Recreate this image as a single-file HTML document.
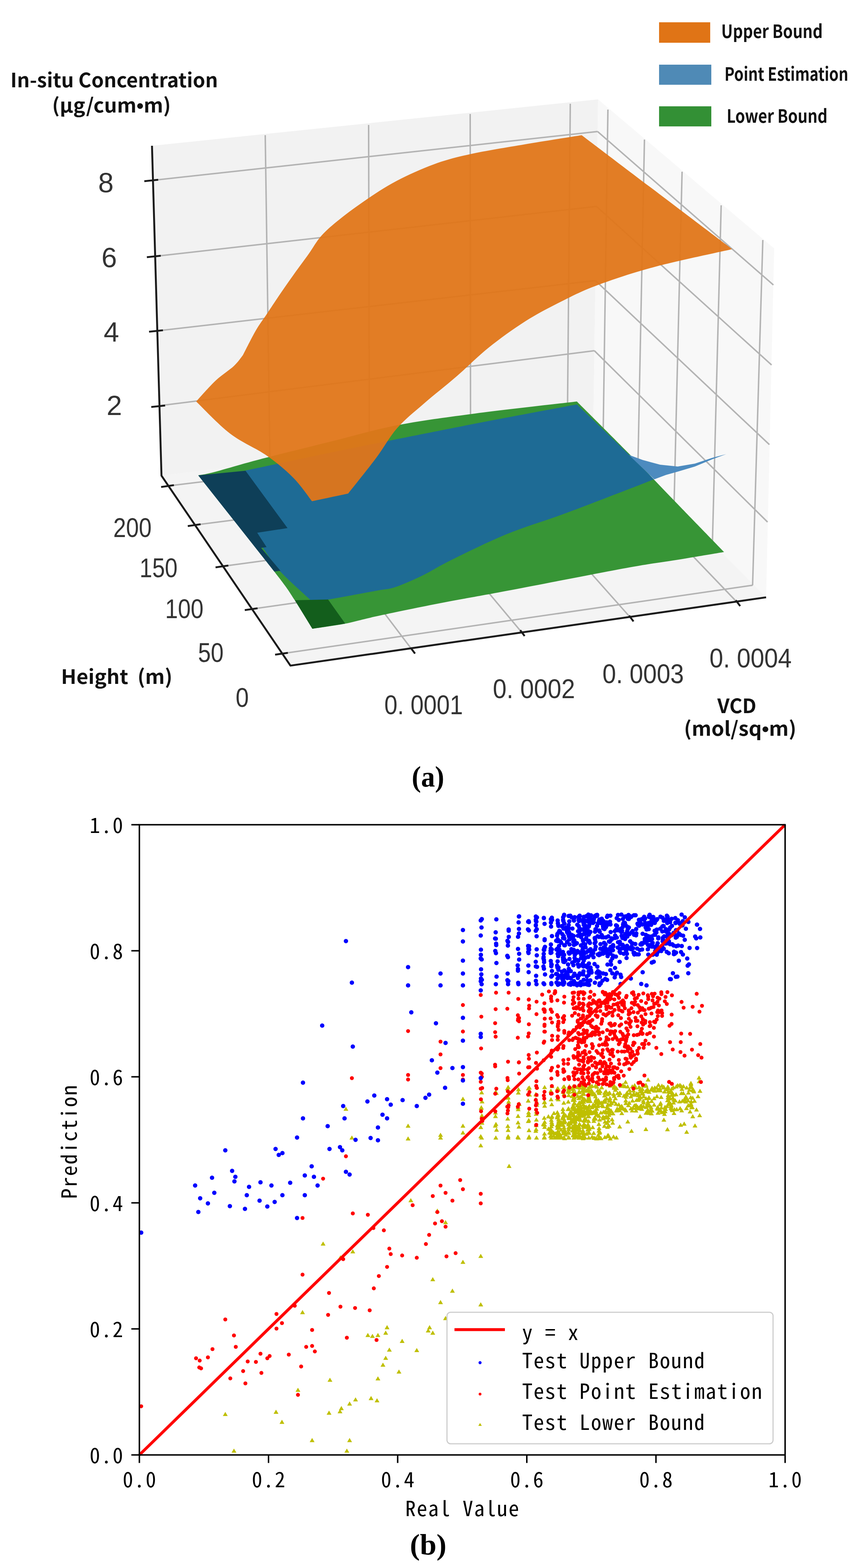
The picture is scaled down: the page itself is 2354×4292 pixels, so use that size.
<!DOCTYPE html>
<html><head><meta charset="utf-8"><title>Figure</title>
<style>html,body{margin:0;padding:0;background:#fff;overflow:hidden;width:2354px;height:4292px}svg{display:block}</style></head>
<body><svg width="2354" height="4292" viewBox="0 0 2354 4292">
<rect width="2354" height="4292" fill="#fff"/>
<polygon points="416.0,399.0 1637.0,272.0 1624.0,1157.0 442.0,1302.0" fill="#f2f2f2"/>
<polygon points="1637.0,272.0 2119.0,680.0 2097.0,1635.0 1624.0,1157.0" fill="#f8f8f8"/>
<polygon points="442.0,1302.0 1624.0,1157.0 2097.0,1635.0 795.0,1822.0" fill="#f4f4f4"/>
<path d="M726,370L739,1265M1009,342L1011,1232M1287,312L1288,1198M1561,284L1553,1164M739,1265L1129,1780M1011,1232L1429,1732M1288,1198L1727,1692M1553,1164L2019,1650M424,493L1635.7,360M430,701L1632.7,565M436,905L1629.7,768M440,1110L1626.9,960M1635.7,360L2117,780M1632.7,565L2112,999M1629.7,768L2106,1217M1626.9,960L2101,1429M1664,300L1651,1186M1764,382L1746,1282M1867,470L1845,1384M1974,562L1950,1488M2088,657L2060,1602M461,1330L1651,1186M534,1437L1746,1282M610,1550L1845,1384M690,1667L1950,1488M773,1789L2060,1602" stroke="#b3b3b3" stroke-width="4" fill="none"/>
<path d="M542.7,1301.0C549.8,1299.6 558.0,1299.5 585.0,1292.5C612.0,1285.5 652.5,1272.8 705.0,1259.0C757.5,1245.2 836.3,1225.8 900.0,1210.0C963.7,1194.2 1020.3,1177.0 1087.0,1164.0C1153.7,1151.0 1218.0,1142.8 1300.0,1132.0C1382.0,1121.2 1532.5,1104.5 1579.0,1099.0L1579.0,1099.0C1602.5,1122.5 1674.8,1194.0 1720.0,1240.0C1765.2,1286.0 1806.3,1329.8 1850.0,1375.0C1893.7,1420.2 1960.0,1488.3 1982.0,1511.0L1982.0,1511.0C1960.0,1514.7 1894.8,1525.7 1850.0,1533.0C1805.2,1540.3 1788.0,1541.3 1713.0,1555.0C1638.0,1568.7 1485.5,1598.8 1400.0,1615.0C1314.5,1631.2 1261.7,1640.0 1200.0,1652.0C1138.3,1664.0 1072.5,1677.8 1030.0,1687.0C987.5,1696.2 974.2,1701.3 945.0,1707.0C915.8,1712.7 870.0,1718.7 855.0,1721.0L855.0,1721.0C847.0,1708.0 824.4,1669.1 807.0,1643.0C789.6,1616.9 794.8,1621.5 750.8,1564.5C706.8,1507.5 577.4,1344.9 542.7,1301.0Z" fill="#379536"/>
<path d="M672.0,1288.0C710.0,1280.0 830.8,1254.3 900.0,1240.0C969.2,1225.7 1012.0,1217.0 1087.0,1202.0C1162.0,1187.0 1268.0,1165.8 1350.0,1150.0C1432.0,1134.2 1540.8,1114.2 1579.0,1107.0L1579.0,1107.0C1590.8,1118.3 1626.2,1152.0 1650.0,1175.0C1673.8,1198.0 1698.7,1222.2 1722.0,1245.0C1745.3,1267.8 1778.7,1300.8 1790.0,1312.0L1790.0,1312.0C1772.8,1318.7 1729.2,1335.8 1687.0,1352.0C1644.8,1368.2 1587.0,1390.7 1537.0,1409.0C1487.0,1427.3 1437.0,1441.5 1387.0,1462.0C1337.0,1482.5 1275.3,1513.2 1237.0,1532.0C1198.7,1550.8 1182.8,1562.5 1157.0,1575.0C1131.2,1587.5 1103.2,1600.0 1082.0,1607.0C1060.8,1614.0 1060.7,1611.3 1030.0,1617.0C999.3,1622.7 927.3,1636.2 898.0,1641.0C868.7,1645.8 861.3,1645.2 854.0,1646.0L854.0,1646.0C839.3,1632.2 788.3,1587.3 766.0,1563.0C743.7,1538.7 732.7,1517.2 720.0,1500.0C707.3,1482.8 698.0,1495.3 690.0,1460.0C682.0,1424.7 675.0,1316.7 672.0,1288.0Z" fill="#1e6b95"/>
<polygon points="542.7,1301.2 672.0,1288.5 787.0,1445.6 704.0,1458.3 729.6,1497.6 714.7,1499.7 767.8,1562.4 750.8,1564.5" fill="#0e3f58"/>
<polygon points="807.0,1643.0 898.0,1641.0 945.0,1707.0 855.0,1721.0" fill="#135e1c"/>
<polygon points="1721.0,1245.0 1759.0,1259.0 1807.0,1272.0 1855.0,1277.0 1902.0,1269.0 1950.0,1253.0 1988.0,1243.0 1950.0,1257.0 1902.0,1277.0 1855.0,1291.0 1823.0,1300.0 1791.0,1312.0" fill="#4d8bbf"/>
<path d="M537.0,1099.0C545.8,1089.5 572.8,1058.2 590.0,1042.0C607.2,1025.8 627.5,1013.7 640.0,1002.0C652.5,990.3 660.8,977.0 665.0,972.0L665.0,972.0C670.8,960.8 689.2,923.7 700.0,905.0C710.8,886.3 718.3,877.5 730.0,860.0C741.7,842.5 757.5,818.3 770.0,800.0C782.5,781.7 792.5,767.5 805.0,750.0C817.5,732.5 832.5,712.5 845.0,695.0C857.5,677.5 865.8,660.8 880.0,645.0C894.2,629.2 909.2,616.7 930.0,600.0C950.8,583.3 979.0,562.5 1005.0,545.0C1031.0,527.5 1055.7,510.8 1086.0,495.0C1116.3,479.2 1153.5,462.2 1187.0,450.0C1220.5,437.8 1245.3,431.2 1287.0,422.0C1328.7,412.8 1386.2,403.7 1437.0,395.0C1487.8,386.3 1566.2,374.2 1592.0,370.0L1592.0,370.0C1660.7,422.0 1935.3,630.0 2004.0,682.0L2004.0,682.0C1969.0,690.0 1855.2,713.7 1794.0,730.0C1732.8,746.3 1679.8,764.2 1637.0,780.0C1594.2,795.8 1570.3,808.3 1537.0,825.0C1503.7,841.7 1470.3,858.8 1437.0,880.0C1403.7,901.2 1368.2,927.0 1337.0,952.0C1305.8,977.0 1279.5,1004.5 1250.0,1030.0C1220.5,1055.5 1187.2,1081.3 1160.0,1105.0C1132.8,1128.7 1108.7,1147.3 1087.0,1172.0C1065.3,1196.7 1052.3,1223.2 1030.0,1253.0C1007.7,1282.8 965.8,1334.7 953.0,1351.0L953.0,1351.0C936.5,1354.5 870.5,1368.5 854.0,1372.0L854.0,1372.0C845.5,1361.3 823.7,1328.8 803.0,1308.0C782.3,1287.2 758.8,1267.2 730.0,1247.0C701.2,1226.8 662.2,1211.7 630.0,1187.0C597.8,1162.3 552.5,1113.7 537.0,1099.0Z" fill="#e07619" fill-opacity="0.95"/>
<path d="M416,399L442,1302L795,1822L2097,1635M395,496L433,492M402,704L440,700M408,908L446,904M414,1114L452,1110M441,1333L476,1328M514,1440L549,1435M590,1553L625,1548M670,1670L705,1665M753,1792L788,1787M1124,1773L1136,1789M1424,1725L1436,1741M1722,1685L1734,1701M2014,1643L2026,1659" stroke="#1a1a1a" stroke-width="5.2" fill="none" stroke-linejoin="round"/>
<text x="290" y="526" font-size="76" text-anchor="middle" font-family="Liberation Sans, Arial, sans-serif" fill="#333">8</text>
<text x="299" y="731" font-size="76" text-anchor="middle" font-family="Liberation Sans, Arial, sans-serif" fill="#333">6</text>
<text x="305" y="935" font-size="76" text-anchor="middle" font-family="Liberation Sans, Arial, sans-serif" fill="#333">4</text>
<text x="313" y="1136" font-size="76" text-anchor="middle" font-family="Liberation Sans, Arial, sans-serif" fill="#333">2</text>
<text x="310" y="1470" font-size="74" textLength="105" lengthAdjust="spacingAndGlyphs" font-family="Liberation Sans, Arial, sans-serif" fill="#333">200</text>
<text x="382" y="1580" font-size="74" textLength="104" lengthAdjust="spacingAndGlyphs" font-family="Liberation Sans, Arial, sans-serif" fill="#333">150</text>
<text x="452" y="1692" font-size="74" textLength="105" lengthAdjust="spacingAndGlyphs" font-family="Liberation Sans, Arial, sans-serif" fill="#333">100</text>
<text x="542" y="1812" font-size="74" textLength="70" lengthAdjust="spacingAndGlyphs" font-family="Liberation Sans, Arial, sans-serif" fill="#333">50</text>
<text x="645" y="1935" font-size="74" textLength="36" lengthAdjust="spacingAndGlyphs" font-family="Liberation Sans, Arial, sans-serif" fill="#333">0</text>
<text x="1052" y="1955" font-size="74" textLength="215" lengthAdjust="spacingAndGlyphs" font-family="Liberation Sans, Arial, sans-serif" fill="#333">0. 0001</text>
<text x="1349" y="1911" font-size="74" textLength="225" lengthAdjust="spacingAndGlyphs" font-family="Liberation Sans, Arial, sans-serif" fill="#333">0. 0002</text>
<text x="1649" y="1870" font-size="74" textLength="223" lengthAdjust="spacingAndGlyphs" font-family="Liberation Sans, Arial, sans-serif" fill="#333">0. 0003</text>
<text x="1942" y="1827" font-size="74" textLength="225" lengthAdjust="spacingAndGlyphs" font-family="Liberation Sans, Arial, sans-serif" fill="#333">0. 0004</text>
<text x="28.5" y="239" font-size="54" textLength="568" lengthAdjust="spacingAndGlyphs" font-family="Noto Sans CJK SC, Liberation Sans, sans-serif" font-weight="bold" fill="#111">In-situ Concentration</text>
<text x="142.6" y="308" font-size="54" textLength="325" lengthAdjust="spacingAndGlyphs" font-family="Noto Sans CJK SC, Liberation Sans, sans-serif" font-weight="bold" fill="#111">(µg/cum<tspan font-family="Liberation Sans">•</tspan>m)</text>
<text x="167" y="1872" font-size="54" textLength="305" lengthAdjust="spacingAndGlyphs" font-family="Noto Sans CJK SC, Liberation Sans, sans-serif" font-weight="bold" fill="#111" xml:space="preserve">Height  (m)</text>
<text x="2017" y="1952" font-size="54" text-anchor="middle" font-family="Noto Sans CJK SC, Liberation Sans, sans-serif" font-weight="bold" fill="#111">VCD</text>
<text x="1872" y="2014" font-size="54" textLength="308" lengthAdjust="spacingAndGlyphs" font-family="Noto Sans CJK SC, Liberation Sans, sans-serif" font-weight="bold" fill="#111">(mol/sq<tspan font-family="Liberation Sans">•</tspan>m)</text>
<rect x="1804" y="61" width="140" height="56" fill="#e07416"/>
<rect x="1804" y="177" width="143" height="55" fill="#4f8ab6"/>
<rect x="1804" y="291" width="143" height="55" fill="#339035"/>
<text x="1974" y="104" font-size="50" textLength="278" lengthAdjust="spacingAndGlyphs" font-family="Noto Sans CJK SC, Liberation Sans, sans-serif" font-weight="bold" fill="#111">Upper Bound</text>
<text x="1983" y="221" font-size="50" textLength="339" lengthAdjust="spacingAndGlyphs" font-family="Noto Sans CJK SC, Liberation Sans, sans-serif" font-weight="bold" fill="#111">Point Estimation</text>
<text x="1989" y="336" font-size="50" textLength="276" lengthAdjust="spacingAndGlyphs" font-family="Noto Sans CJK SC, Liberation Sans, sans-serif" font-weight="bold" fill="#111">Lower Bound</text>
<text x="1127" y="2153" font-size="80" textLength="89" lengthAdjust="spacingAndGlyphs" font-family="Liberation Serif, serif" font-weight="bold" fill="#000">(a)</text>
<path d="M381.5,3982.5L381.5,4004.5M381.5,3982.5L359.5,3982.5M735.0,3982.5L735.0,4004.5M381.5,3637.5L359.5,3637.5M1088.5,3982.5L1088.5,4004.5M381.5,3292.5L359.5,3292.5M1442.0,3982.5L1442.0,4004.5M381.5,2947.5L359.5,2947.5M1795.5,3982.5L1795.5,4004.5M381.5,2602.5L359.5,2602.5M2149.0,3982.5L2149.0,4004.5M381.5,2257.5L359.5,2257.5" stroke="#000" stroke-width="4"/>
<text x="335.7 367.1 398.5" y="4070.5" font-size="57.5" font-family="Noto Sans Mono CJK SC, WenQuanYi Zen Hei Mono, Liberation Mono, monospace" fill="#000">0.0</text>
<text x="245.3 276.7 308.1" y="4004.5" font-size="57.5" font-family="Noto Sans Mono CJK SC, WenQuanYi Zen Hei Mono, Liberation Mono, monospace" fill="#000">0.0</text>
<text x="689.2 720.6 752.0" y="4070.5" font-size="57.5" font-family="Noto Sans Mono CJK SC, WenQuanYi Zen Hei Mono, Liberation Mono, monospace" fill="#000">0.2</text>
<text x="245.3 276.7 308.1" y="3659.5" font-size="57.5" font-family="Noto Sans Mono CJK SC, WenQuanYi Zen Hei Mono, Liberation Mono, monospace" fill="#000">0.2</text>
<text x="1042.7 1074.1 1105.5" y="4070.5" font-size="57.5" font-family="Noto Sans Mono CJK SC, WenQuanYi Zen Hei Mono, Liberation Mono, monospace" fill="#000">0.4</text>
<text x="245.3 276.7 308.1" y="3314.5" font-size="57.5" font-family="Noto Sans Mono CJK SC, WenQuanYi Zen Hei Mono, Liberation Mono, monospace" fill="#000">0.4</text>
<text x="1396.2 1427.6 1459.0" y="4070.5" font-size="57.5" font-family="Noto Sans Mono CJK SC, WenQuanYi Zen Hei Mono, Liberation Mono, monospace" fill="#000">0.6</text>
<text x="245.3 276.7 308.1" y="2969.5" font-size="57.5" font-family="Noto Sans Mono CJK SC, WenQuanYi Zen Hei Mono, Liberation Mono, monospace" fill="#000">0.6</text>
<text x="1749.7 1781.1 1812.5" y="4070.5" font-size="57.5" font-family="Noto Sans Mono CJK SC, WenQuanYi Zen Hei Mono, Liberation Mono, monospace" fill="#000">0.8</text>
<text x="245.3 276.7 308.1" y="2624.5" font-size="57.5" font-family="Noto Sans Mono CJK SC, WenQuanYi Zen Hei Mono, Liberation Mono, monospace" fill="#000">0.8</text>
<text x="2103.2 2134.6 2166.0" y="4070.5" font-size="57.5" font-family="Noto Sans Mono CJK SC, WenQuanYi Zen Hei Mono, Liberation Mono, monospace" fill="#000">1.0</text>
<text x="245.3 276.7 308.1" y="2279.5" font-size="57.5" font-family="Noto Sans Mono CJK SC, WenQuanYi Zen Hei Mono, Liberation Mono, monospace" fill="#000">1.0</text>
<text x="1109.3 1140.7 1172.1 1203.5 1234.9 1266.3 1297.7 1329.1 1360.5 1391.9" y="4150.0" font-size="57.5" font-family="Noto Sans Mono CJK SC, WenQuanYi Zen Hei Mono, Liberation Mono, monospace" fill="#000">Real Value</text>
<text x="-155.7 -124.3 -92.9 -61.5 -30.1 1.3 32.7 64.1 95.5 126.9" y="0.0" font-size="57.5" transform="translate(210,3126) rotate(-90)" font-family="Noto Sans Mono CJK SC, WenQuanYi Zen Hei Mono, Liberation Mono, monospace" fill="#000">Prediction</text>
<text x="1122" y="4255" font-size="80" textLength="100" lengthAdjust="spacingAndGlyphs" font-family="Liberation Serif, serif" font-weight="bold" fill="#000">(b)</text>
<defs><clipPath id="axc"><rect x="381.5" y="2257.5" width="1767.5" height="1725.0"/></clipPath></defs><g clip-path="url(#axc)">
<path d="M946.9,3029.2L953.5,3040.5L940.2,3040.5ZM963.2,3108.0L969.8,3119.3L956.5,3119.3ZM1117.0,3075.5L1123.7,3086.8L1110.4,3086.8ZM1117.0,3110.5L1123.7,3121.8L1110.4,3121.8ZM1205.8,3100.5L1212.5,3111.8L1199.2,3111.8ZM1205.8,3108.0L1212.5,3119.3L1199.2,3119.3ZM1267.1,3001.7L1273.8,3013.0L1260.5,3013.0ZM1267.1,3075.5L1273.8,3086.8L1260.5,3086.8ZM1267.1,3094.2L1273.8,3105.6L1260.5,3105.6ZM1315.9,3129.3L1322.6,3140.6L1309.3,3140.6ZM1315.9,3104.2L1322.6,3115.6L1309.3,3115.6ZM1315.9,3079.2L1322.6,3090.6L1309.3,3090.6ZM1393.5,3185.6L1400.1,3196.9L1386.8,3196.9ZM1124.5,3279.4L1131.2,3290.7L1117.9,3290.7ZM1197.1,3308.1L1203.7,3319.5L1190.4,3319.5ZM1219.6,3339.4L1226.2,3350.8L1212.9,3350.8ZM884.4,3398.2L891.0,3409.5L877.7,3409.5ZM965.7,3419.5L972.3,3430.8L959.0,3430.8ZM931.9,3435.7L938.5,3447.1L925.2,3447.1ZM1267.1,3448.2L1273.8,3459.6L1260.5,3459.6ZM1315.9,3432.0L1322.6,3443.3L1309.3,3443.3ZM1315.9,3564.6L1322.6,3575.9L1309.3,3575.9ZM1238.4,3527.1L1245.0,3538.4L1231.7,3538.4ZM1184.6,3495.8L1191.2,3507.1L1177.9,3507.1ZM1205.8,3558.3L1212.5,3569.7L1199.2,3569.7ZM1219.6,3602.1L1226.2,3613.4L1212.9,3613.4ZM1184.6,3642.1L1191.2,3653.5L1177.9,3653.5ZM1172.1,3635.9L1178.7,3647.2L1165.4,3647.2ZM1175.8,3627.1L1182.5,3638.5L1169.2,3638.5ZM1140.8,3689.7L1147.4,3701.0L1134.1,3701.0ZM1100.8,3664.6L1107.4,3676.0L1094.1,3676.0ZM1059.5,3627.1L1066.1,3638.5L1052.8,3638.5ZM1055.7,3642.1L1062.4,3653.5L1049.1,3653.5ZM1034.5,3648.4L1041.1,3659.7L1027.8,3659.7ZM1019.5,3650.9L1026.1,3662.2L1012.8,3662.2ZM1006.9,3648.4L1013.6,3659.7L1000.3,3659.7ZM1065.7,3688.4L1072.4,3699.8L1059.1,3699.8ZM1055.7,3710.9L1062.4,3722.3L1049.1,3722.3ZM1048.2,3729.7L1054.9,3741.0L1041.6,3741.0ZM1092.0,3748.5L1098.7,3759.8L1085.4,3759.8ZM1034.5,3767.2L1041.1,3778.6L1027.8,3778.6ZM903.1,3771.0L909.8,3782.3L896.5,3782.3ZM973.2,3824.8L979.8,3836.1L966.5,3836.1ZM1015.7,3821.0L1022.3,3832.4L1009.0,3832.4ZM1032.0,3827.3L1038.6,3838.6L1025.3,3838.6ZM956.9,3836.0L963.6,3847.4L950.3,3847.4ZM934.4,3848.5L941.0,3859.9L927.7,3859.9ZM930.6,3857.3L937.3,3868.6L924.0,3868.6ZM900.6,3861.0L907.3,3872.4L894.0,3872.4ZM854.3,3936.1L861.0,3947.4L847.7,3947.4ZM956.9,3936.1L963.6,3947.4L950.3,3947.4ZM949.4,3964.9L956.1,3976.2L942.8,3976.2ZM815.6,3798.5L822.2,3809.8L808.9,3809.8ZM755.5,3858.5L762.2,3869.9L748.9,3869.9ZM771.8,3886.1L778.4,3897.4L765.1,3897.4ZM616.7,3864.8L623.3,3876.1L610.0,3876.1ZM640.4,3964.9L647.1,3976.2L633.8,3976.2ZM828.1,3585.8L834.7,3597.2L821.4,3597.2ZM805.5,3564.6L812.2,3575.9L798.9,3575.9ZM1319.0,3047.3L1325.7,3058.7L1312.4,3058.7ZM1317.5,3025.0L1324.1,3036.3L1310.8,3036.3ZM1318.1,3065.4L1324.7,3076.8L1311.4,3076.8ZM1319.5,3009.0L1326.2,3020.3L1312.9,3020.3ZM1317.2,3026.6L1323.8,3037.9L1310.5,3037.9ZM1318.4,2984.0L1325.0,2995.4L1311.7,2995.4ZM1319.2,3067.1L1325.9,3078.4L1312.6,3078.4ZM1318.3,3107.8L1324.9,3119.2L1311.6,3119.2ZM1357.4,2982.9L1364.0,2994.2L1350.7,2994.2ZM1358.5,2985.6L1365.2,2997.0L1351.9,2997.0ZM1356.2,3049.1L1362.9,3060.4L1349.6,3060.4ZM1356.6,2982.8L1363.2,2994.1L1349.9,2994.1ZM1359.1,3086.5L1365.8,3097.8L1352.5,3097.8ZM1355.8,3075.0L1362.4,3086.4L1349.1,3086.4ZM1356.0,3039.2L1362.7,3050.6L1349.4,3050.6ZM1357.5,3070.7L1364.2,3082.0L1350.9,3082.0ZM1357.2,3107.8L1363.8,3119.2L1350.5,3119.2ZM1388.7,2973.3L1395.4,2984.6L1382.1,2984.6ZM1390.9,3087.1L1397.5,3098.4L1384.2,3098.4ZM1390.9,3104.0L1397.6,3115.3L1384.3,3115.3ZM1390.9,2969.4L1397.5,2980.8L1384.2,2980.8ZM1392.3,3009.3L1398.9,3020.7L1385.6,3020.7ZM1389.7,3056.0L1396.4,3067.3L1383.1,3067.3ZM1389.3,2998.6L1396.0,3010.0L1382.7,3010.0ZM1390.9,2997.6L1397.5,3009.0L1384.2,3009.0ZM1390.0,3076.3L1396.7,3087.6L1383.4,3087.6ZM1390.7,3107.8L1397.4,3119.2L1384.1,3119.2ZM1421.1,3014.9L1427.7,3026.2L1414.4,3026.2ZM1418.4,3030.2L1425.0,3041.6L1411.7,3041.6ZM1417.5,3105.8L1424.1,3117.2L1410.8,3117.2ZM1421.0,3015.9L1427.7,3027.3L1414.4,3027.3ZM1419.1,2975.8L1425.8,2987.1L1412.5,2987.1ZM1418.7,2984.5L1425.4,2995.9L1412.1,2995.9ZM1420.4,3078.0L1427.1,3089.3L1413.8,3089.3ZM1418.0,3066.4L1424.6,3077.7L1411.3,3077.7ZM1417.9,3024.9L1424.6,3036.2L1411.3,3036.2ZM1418.0,3048.6L1424.7,3059.9L1411.4,3059.9ZM1419.0,3107.8L1425.7,3119.2L1412.4,3119.2ZM1445.8,3006.5L1452.5,3017.9L1439.2,3017.9ZM1448.0,3087.6L1454.6,3098.9L1441.3,3098.9ZM1448.9,2971.0L1455.6,2982.3L1442.3,2982.3ZM1446.1,2973.1L1452.8,2984.4L1439.5,2984.4ZM1446.9,3038.9L1453.5,3050.2L1440.2,3050.2ZM1449.4,2990.1L1456.0,3001.4L1442.7,3001.4ZM1445.9,3046.8L1452.5,3058.1L1439.2,3058.1ZM1447.4,3059.9L1454.0,3071.2L1440.7,3071.2ZM1446.0,3062.8L1452.7,3074.1L1439.4,3074.1ZM1448.2,3105.1L1454.9,3116.4L1441.6,3116.4ZM1447.5,3045.5L1454.2,3056.9L1440.9,3056.9ZM1447.3,3107.8L1454.0,3119.2L1440.7,3119.2ZM1468.1,3036.2L1474.7,3047.5L1461.4,3047.5ZM1469.3,2968.9L1476.0,2980.2L1462.7,2980.2ZM1467.8,2990.1L1474.5,3001.4L1461.2,3001.4ZM1469.4,3017.9L1476.0,3029.2L1462.7,3029.2ZM1468.1,3058.7L1474.8,3070.0L1461.5,3070.0ZM1466.6,3089.5L1473.3,3100.8L1460.0,3100.8ZM1466.7,3003.0L1473.3,3014.4L1460.0,3014.4ZM1467.5,3084.7L1474.1,3096.1L1460.8,3096.1ZM1466.7,2988.8L1473.4,3000.2L1460.1,3000.2ZM1470.1,3013.0L1476.7,3024.3L1463.4,3024.3ZM1467.6,3073.6L1474.2,3084.9L1460.9,3084.9ZM1467.6,3042.8L1474.3,3054.2L1461.0,3054.2ZM1468.5,3107.8L1475.2,3119.2L1461.9,3119.2ZM1490.7,3072.2L1497.4,3083.5L1484.1,3083.5ZM1487.9,3070.3L1494.6,3081.6L1481.3,3081.6ZM1490.7,3078.8L1497.3,3090.1L1484.0,3090.1ZM1490.7,2969.8L1497.4,2981.1L1484.1,2981.1ZM1489.7,3053.7L1496.3,3065.1L1483.0,3065.1ZM1489.6,3011.1L1496.3,3022.5L1483.0,3022.5ZM1490.9,3020.6L1497.5,3031.9L1484.2,3031.9ZM1490.3,3096.9L1497.0,3108.2L1483.7,3108.2ZM1488.2,3071.9L1494.9,3083.2L1481.6,3083.2ZM1490.8,3064.8L1497.4,3076.1L1484.1,3076.1ZM1490.0,3106.1L1496.7,3117.4L1483.4,3117.4ZM1487.9,3069.8L1494.5,3081.1L1481.2,3081.1ZM1490.5,3009.9L1497.1,3021.3L1483.8,3021.3ZM1489.7,3107.8L1496.4,3119.2L1483.1,3119.2ZM1510.2,3016.7L1516.9,3028.0L1503.6,3028.0ZM1508.3,3100.9L1514.9,3112.2L1501.6,3112.2ZM1511.0,3089.8L1517.6,3101.2L1504.3,3101.2ZM1509.0,3059.2L1515.7,3070.6L1502.4,3070.6ZM1508.3,3003.3L1515.0,3014.6L1501.7,3014.6ZM1511.2,3071.0L1517.8,3082.4L1504.5,3082.4ZM1509.8,3065.3L1516.5,3076.6L1503.2,3076.6ZM1509.4,3052.0L1516.1,3063.4L1502.8,3063.4ZM1507.8,3085.0L1514.4,3096.3L1501.1,3096.3ZM1507.9,2979.7L1514.6,2991.0L1501.3,2991.0ZM1509.2,3076.7L1515.8,3088.0L1502.5,3088.0ZM1510.9,2966.9L1517.5,2978.2L1504.2,2978.2ZM1509.0,3088.1L1515.6,3099.4L1502.3,3099.4ZM1507.9,3095.0L1514.5,3106.3L1501.2,3106.3ZM1509.2,3107.8L1515.8,3119.2L1502.5,3119.2ZM1526.5,3071.4L1533.2,3082.8L1519.9,3082.8ZM1527.5,2977.0L1534.2,2988.3L1520.9,2988.3ZM1525.7,3103.0L1532.3,3114.3L1519.0,3114.3ZM1526.2,3048.3L1532.8,3059.7L1519.5,3059.7ZM1527.6,3079.8L1534.3,3091.1L1521.0,3091.1ZM1528.1,3003.3L1534.8,3014.6L1521.5,3014.6ZM1526.9,3078.8L1533.5,3090.1L1520.2,3090.1ZM1528.8,3063.7L1535.5,3075.1L1522.2,3075.1ZM1528.2,3075.2L1534.8,3086.5L1521.5,3086.5ZM1525.7,3000.3L1532.3,3011.6L1519.0,3011.6ZM1526.0,2973.2L1532.6,2984.5L1519.3,2984.5ZM1526.8,3081.3L1533.5,3092.7L1520.2,3092.7ZM1525.7,3048.8L1532.3,3060.2L1519.0,3060.2ZM1527.5,2973.6L1534.2,2985.0L1520.9,2985.0ZM1525.3,3052.2L1532.0,3063.5L1518.7,3063.5ZM1526.8,3107.8L1533.5,3119.2L1520.2,3119.2ZM1540.8,3029.7L1547.4,3041.0L1534.1,3041.0ZM1542.0,2969.2L1548.7,2980.5L1535.4,2980.5ZM1544.4,2968.1L1551.0,2979.4L1537.7,2979.4ZM1541.8,3095.9L1548.4,3107.3L1535.1,3107.3ZM1541.0,3037.3L1547.7,3048.7L1534.4,3048.7ZM1543.6,3044.6L1550.3,3055.9L1537.0,3055.9ZM1541.6,3048.9L1548.3,3060.2L1535.0,3060.2ZM1543.3,3012.5L1549.9,3023.8L1536.6,3023.8ZM1543.8,2988.0L1550.4,2999.4L1537.1,2999.4ZM1543.4,3090.7L1550.1,3102.0L1536.8,3102.0ZM1544.2,3066.3L1550.8,3077.6L1537.5,3077.6ZM1543.0,3055.1L1549.7,3066.4L1536.4,3066.4ZM1543.8,3079.6L1550.4,3091.0L1537.1,3091.0ZM1541.7,3073.1L1548.3,3084.5L1535.0,3084.5ZM1541.3,2982.8L1547.9,2994.1L1534.6,2994.1ZM1543.1,3061.7L1549.7,3073.0L1536.4,3073.0ZM1542.7,3107.8L1549.4,3119.2L1536.1,3119.2ZM1555.0,3093.5L1561.7,3104.8L1548.4,3104.8ZM1556.4,3030.0L1563.1,3041.3L1549.8,3041.3ZM1557.5,3094.9L1564.1,3106.3L1550.8,3106.3ZM1555.5,3009.5L1562.1,3020.8L1548.8,3020.8ZM1556.5,3067.8L1563.2,3079.1L1549.9,3079.1ZM1556.1,2973.0L1562.7,2984.3L1549.4,2984.3ZM1556.1,3027.7L1562.7,3039.0L1549.4,3039.0ZM1556.3,3048.9L1562.9,3060.3L1549.6,3060.3ZM1558.4,2966.9L1565.1,2978.2L1551.8,2978.2ZM1556.3,3079.9L1563.0,3091.3L1549.7,3091.3ZM1557.9,3079.0L1564.5,3090.4L1551.2,3090.4ZM1554.8,2980.3L1561.4,2991.6L1548.1,2991.6ZM1556.6,2991.8L1563.2,3003.1L1549.9,3003.1ZM1556.5,2982.9L1563.1,2994.3L1549.8,2994.3ZM1556.7,3084.8L1563.4,3096.2L1550.1,3096.2ZM1554.8,3029.8L1561.5,3041.1L1548.2,3041.1ZM1557.5,2979.1L1564.1,2990.5L1550.8,2990.5ZM1556.9,3107.8L1563.5,3119.2L1550.2,3119.2ZM1571.4,3030.0L1578.1,3041.4L1564.8,3041.4ZM1571.6,3064.5L1578.2,3075.9L1564.9,3075.9ZM1570.7,3025.4L1577.3,3036.8L1564.0,3036.8ZM1570.7,3014.6L1577.4,3026.0L1564.1,3026.0ZM1570.8,3045.8L1577.5,3057.2L1564.2,3057.2ZM1569.0,3020.3L1575.7,3031.6L1562.4,3031.6ZM1571.0,3074.5L1577.6,3085.9L1564.3,3085.9ZM1572.1,2997.5L1578.8,3008.8L1565.5,3008.8ZM1570.9,3082.4L1577.5,3093.8L1564.2,3093.8ZM1570.9,3092.7L1577.6,3104.0L1564.3,3104.0ZM1569.5,3046.9L1576.1,3058.3L1562.8,3058.3ZM1569.3,3045.3L1575.9,3056.6L1562.6,3056.6ZM1571.1,3102.1L1577.7,3113.4L1564.4,3113.4ZM1571.6,3096.2L1578.3,3107.5L1565.0,3107.5ZM1572.0,2997.8L1578.7,3009.2L1565.4,3009.2ZM1571.1,3100.1L1577.7,3111.5L1564.4,3111.5ZM1571.0,3054.4L1577.7,3065.7L1564.4,3065.7ZM1572.9,3088.6L1579.6,3099.9L1566.3,3099.9ZM1571.0,3107.8L1577.7,3119.2L1564.4,3119.2ZM1585.7,3052.1L1592.4,3063.4L1579.1,3063.4ZM1586.4,3070.4L1593.1,3081.7L1579.8,3081.7ZM1587.2,3026.2L1593.9,3037.5L1580.6,3037.5ZM1584.6,2999.7L1591.2,3011.0L1577.9,3011.0ZM1584.9,3082.8L1591.6,3094.2L1578.3,3094.2ZM1586.2,3101.0L1592.9,3112.3L1579.6,3112.3ZM1586.5,3071.9L1593.2,3083.3L1579.9,3083.3ZM1585.8,2968.6L1592.4,2980.0L1579.1,2980.0ZM1585.5,3013.9L1592.2,3025.3L1578.9,3025.3ZM1584.4,3107.6L1591.0,3118.9L1577.7,3118.9ZM1583.2,3086.7L1589.8,3098.0L1576.5,3098.0ZM1585.7,3046.7L1592.3,3058.0L1579.0,3058.0ZM1585.2,2981.2L1591.9,2992.5L1578.6,2992.5ZM1583.6,3075.7L1590.3,3087.0L1577.0,3087.0ZM1585.8,3104.7L1592.5,3116.0L1579.2,3116.0ZM1583.1,3057.6L1589.7,3069.0L1576.4,3069.0ZM1583.5,3057.3L1590.1,3068.6L1576.8,3068.6ZM1584.0,3025.3L1590.6,3036.6L1577.3,3036.6ZM1585.5,3078.9L1592.2,3090.3L1578.9,3090.3ZM1585.2,3107.8L1591.8,3119.2L1578.5,3119.2ZM1595.4,2988.4L1602.1,2999.7L1588.8,2999.7ZM1598.6,3042.0L1605.2,3053.4L1591.9,3053.4ZM1598.6,3043.8L1605.2,3055.2L1591.9,3055.2ZM1596.4,3092.9L1603.0,3104.3L1589.7,3104.3ZM1596.4,3102.3L1603.1,3113.7L1589.8,3113.7ZM1596.8,3001.8L1603.5,3013.1L1590.2,3013.1ZM1598.4,2988.3L1605.0,2999.6L1591.7,2999.6ZM1598.4,3070.2L1605.1,3081.5L1591.8,3081.5ZM1597.8,3046.1L1604.4,3057.5L1591.1,3057.5ZM1598.8,3033.8L1605.4,3045.2L1592.1,3045.2ZM1596.5,3017.0L1603.2,3028.4L1589.9,3028.4ZM1599.5,3077.1L1606.2,3088.5L1592.9,3088.5ZM1599.2,3105.7L1605.8,3117.0L1592.5,3117.0ZM1596.5,3074.4L1603.2,3085.8L1589.9,3085.8ZM1598.6,2974.2L1605.2,2985.5L1591.9,2985.5ZM1598.6,3061.6L1605.2,3072.9L1591.9,3072.9ZM1599.2,3061.4L1605.8,3072.7L1592.5,3072.7ZM1596.4,2979.4L1603.1,2990.8L1589.8,2990.8ZM1598.1,3009.8L1604.7,3021.2L1591.4,3021.2ZM1598.2,2969.3L1604.9,2980.7L1591.6,2980.7ZM1597.5,3107.8L1604.2,3119.2L1590.9,3119.2ZM1610.0,3094.0L1616.6,3105.3L1603.3,3105.3ZM1612.8,3078.8L1619.4,3090.2L1606.1,3090.2ZM1610.9,3047.9L1617.6,3059.2L1604.3,3059.2ZM1609.6,3071.5L1616.3,3082.9L1603.0,3082.9ZM1610.8,3006.6L1617.4,3017.9L1604.1,3017.9ZM1611.1,3062.4L1617.8,3073.8L1604.5,3073.8ZM1613.6,3036.6L1620.3,3047.9L1607.0,3047.9ZM1613.2,3020.4L1619.8,3031.7L1606.5,3031.7ZM1609.7,3049.4L1616.3,3060.8L1603.0,3060.8ZM1611.4,2998.5L1618.1,3009.8L1604.8,3009.8ZM1611.0,3008.2L1617.7,3019.5L1604.4,3019.5ZM1611.8,3077.2L1618.5,3088.5L1605.2,3088.5ZM1613.2,3095.0L1619.9,3106.3L1606.6,3106.3ZM1613.0,3083.7L1619.7,3095.1L1606.4,3095.1ZM1609.6,3079.2L1616.2,3090.6L1602.9,3090.6ZM1612.8,2969.5L1619.4,2980.8L1606.1,2980.8ZM1609.6,3038.4L1616.2,3049.7L1602.9,3049.7ZM1611.6,2995.1L1618.3,3006.5L1605.0,3006.5ZM1610.3,3037.9L1617.0,3049.2L1603.7,3049.2ZM1611.0,2990.2L1617.7,3001.5L1604.4,3001.5ZM1610.7,2974.3L1617.3,2985.7L1604.0,2985.7ZM1611.7,3107.8L1618.3,3119.2L1605.0,3119.2ZM1633.7,2968.4L1640.4,2979.8L1627.1,2979.8ZM1627.8,2989.0L1634.5,3000.3L1621.2,3000.3ZM1828.8,2991.6L1835.5,3002.9L1822.2,3002.9ZM1825.7,3021.4L1832.3,3032.7L1819.0,3032.7ZM1609.1,3040.8L1615.8,3052.2L1602.5,3052.2ZM1779.8,3034.0L1786.5,3045.4L1773.2,3045.4ZM1840.9,2985.9L1847.6,2997.3L1834.3,2997.3ZM1618.6,2978.2L1625.2,2989.6L1611.9,2989.6ZM1611.8,3001.6L1618.4,3013.0L1605.1,3013.0ZM1595.6,2979.8L1602.3,2991.2L1589.0,2991.2ZM1817.3,2969.6L1824.0,2980.9L1810.7,2980.9ZM1566.4,2974.7L1573.0,2986.1L1559.7,2986.1ZM1722.9,2977.1L1729.6,2988.4L1716.3,2988.4ZM1707.8,2993.1L1714.5,3004.4L1701.2,3004.4ZM1733.9,2978.8L1740.5,2990.2L1727.2,2990.2ZM1587.7,3038.0L1594.3,3049.3L1581.0,3049.3ZM1720.0,3019.2L1726.6,3030.5L1713.3,3030.5ZM1678.0,3041.7L1684.6,3053.0L1671.3,3053.0ZM1776.4,3040.4L1783.1,3051.7L1769.8,3051.7ZM1800.4,2977.9L1807.0,2989.2L1793.7,2989.2ZM1695.2,3032.6L1701.9,3043.9L1688.6,3043.9ZM1749.6,3025.8L1756.2,3037.2L1742.9,3037.2ZM1687.1,3033.5L1693.7,3044.9L1680.4,3044.9ZM1841.9,2998.9L1848.5,3010.3L1835.2,3010.3ZM1665.4,3034.8L1672.1,3046.2L1658.8,3046.2ZM1772.2,2974.8L1778.9,2986.2L1765.6,2986.2ZM1805.6,3034.2L1812.3,3045.6L1799.0,3045.6ZM1669.7,3018.3L1676.3,3029.6L1663.0,3029.6ZM1781.3,3030.5L1788.0,3041.9L1774.7,3041.9ZM1737.2,2964.6L1743.9,2976.0L1730.6,2976.0ZM1783.1,3041.7L1789.8,3053.1L1776.5,3053.1ZM1586.9,3033.3L1593.6,3044.6L1580.3,3044.6ZM1761.6,2994.8L1768.2,3006.1L1754.9,3006.1ZM1712.8,3006.1L1719.5,3017.5L1706.2,3017.5ZM1680.9,2993.8L1687.6,3005.1L1674.3,3005.1ZM1749.1,2969.6L1755.8,2980.9L1742.5,2980.9ZM1772.9,2979.1L1779.6,2990.4L1766.3,2990.4ZM1823.9,2975.8L1830.5,2987.2L1817.2,2987.2ZM1768.4,3039.8L1775.0,3051.2L1761.7,3051.2ZM1758.3,2974.8L1764.9,2986.2L1751.6,2986.2ZM1687.5,2972.6L1694.2,2983.9L1680.9,2983.9ZM1616.6,2967.5L1623.2,2978.8L1609.9,2978.8ZM1690.6,2986.2L1697.3,2997.6L1684.0,2997.6ZM1637.2,3018.4L1643.8,3029.8L1630.5,3029.8ZM1664.3,3016.5L1670.9,3027.9L1657.6,3027.9ZM1592.5,3007.1L1599.2,3018.5L1585.9,3018.5ZM1843.1,2990.4L1849.8,3001.7L1836.5,3001.7ZM1829.4,2981.8L1836.0,2993.1L1822.7,2993.1ZM1802.4,2963.4L1809.0,2974.7L1795.7,2974.7ZM1778.6,3020.5L1785.2,3031.9L1771.9,3031.9ZM1636.4,3009.5L1643.0,3020.9L1629.7,3020.9ZM1571.6,3024.0L1578.3,3035.3L1565.0,3035.3ZM1816.4,2969.2L1823.0,2980.5L1809.7,2980.5ZM1658.7,2981.1L1665.3,2992.5L1652.0,2992.5ZM1784.9,2971.7L1791.5,2983.0L1778.2,2983.0ZM1790.4,3000.1L1797.1,3011.4L1783.8,3011.4ZM1595.4,2976.8L1602.0,2988.1L1588.7,2988.1ZM1654.4,2992.5L1661.1,3003.9L1647.8,3003.9ZM1669.5,2999.6L1676.2,3011.0L1662.9,3011.0ZM1838.8,3029.5L1845.5,3040.8L1832.2,3040.8ZM1715.9,2990.7L1722.5,3002.0L1709.2,3002.0ZM1718.0,2967.8L1724.6,2979.2L1711.3,2979.2ZM1681.0,2969.8L1687.6,2981.1L1674.3,2981.1ZM1760.8,2965.5L1767.4,2976.8L1754.1,2976.8ZM1591.1,3025.4L1597.7,3036.8L1584.4,3036.8ZM1647.0,2970.3L1653.6,2981.7L1640.3,2981.7ZM1569.6,3021.6L1576.2,3033.0L1562.9,3033.0ZM1768.2,2963.7L1774.8,2975.1L1761.5,2975.1ZM1615.6,3007.5L1622.2,3018.9L1608.9,3018.9ZM1760.0,2987.5L1766.6,2998.8L1753.3,2998.8ZM1776.7,2982.5L1783.4,2993.9L1770.1,2993.9ZM1636.0,3021.9L1642.6,3033.2L1629.3,3033.2ZM1573.6,2987.4L1580.2,2998.8L1566.9,2998.8ZM1624.9,3021.7L1631.5,3033.0L1618.2,3033.0ZM1838.4,2991.2L1845.1,3002.6L1831.8,3002.6ZM1732.9,2990.2L1739.5,3001.6L1726.2,3001.6ZM1734.8,2987.1L1741.4,2998.5L1728.1,2998.5ZM1651.7,3037.2L1658.3,3048.5L1645.0,3048.5ZM1584.6,3041.1L1591.3,3052.5L1578.0,3052.5ZM1668.0,3031.0L1674.6,3042.3L1661.3,3042.3ZM1597.6,3003.1L1604.3,3014.4L1591.0,3014.4ZM1839.9,2987.7L1846.6,2999.1L1833.3,2999.1ZM1643.1,2981.2L1649.7,2992.6L1636.4,2992.6ZM1616.0,3034.3L1622.7,3045.7L1609.4,3045.7ZM1651.5,3009.8L1658.1,3021.2L1644.8,3021.2ZM1760.7,3007.0L1767.4,3018.3L1754.1,3018.3ZM1771.7,3034.7L1778.3,3046.1L1765.0,3046.1ZM1829.4,3015.1L1836.0,3026.4L1822.7,3026.4ZM1801.1,3039.8L1807.7,3051.2L1794.4,3051.2ZM1800.1,3024.3L1806.7,3035.7L1793.4,3035.7ZM1807.5,2978.6L1814.2,2989.9L1800.9,2989.9ZM1755.4,3020.2L1762.1,3031.6L1748.8,3031.6ZM1568.5,3027.2L1575.1,3038.5L1561.8,3038.5ZM1821.6,3029.7L1828.3,3041.1L1815.0,3041.1ZM1752.2,2995.7L1758.8,3007.0L1745.5,3007.0ZM1752.7,3027.9L1759.4,3039.3L1746.1,3039.3ZM1606.4,3034.6L1613.0,3045.9L1599.7,3045.9ZM1843.6,3011.9L1850.3,3023.2L1837.0,3023.2ZM1750.2,2997.1L1756.8,3008.4L1743.5,3008.4ZM1628.9,3037.1L1635.5,3048.5L1622.2,3048.5ZM1569.9,2974.6L1576.6,2986.0L1563.3,2986.0ZM1602.5,2965.9L1609.2,2977.2L1595.9,2977.2ZM1668.6,2984.9L1675.2,2996.3L1661.9,2996.3ZM1604.9,2979.7L1611.5,2991.1L1598.2,2991.1ZM1636.9,3013.2L1643.5,3024.6L1630.2,3024.6ZM1713.6,3033.4L1720.3,3044.8L1707.0,3044.8ZM1635.9,2979.1L1642.6,2990.5L1629.3,2990.5ZM1646.4,3012.1L1653.1,3023.4L1639.8,3023.4ZM1782.0,3024.5L1788.7,3035.8L1775.4,3035.8ZM1620.6,3024.9L1627.2,3036.2L1613.9,3036.2ZM1674.4,3013.3L1681.0,3024.6L1667.7,3024.6ZM1747.1,3004.8L1753.8,3016.2L1740.5,3016.2ZM1811.7,3038.3L1818.3,3049.6L1805.0,3049.6ZM1753.4,2975.9L1760.1,2987.2L1746.8,2987.2ZM1632.1,3039.9L1638.8,3051.3L1625.5,3051.3ZM1689.7,3033.1L1696.3,3044.4L1683.0,3044.4ZM1695.8,2985.8L1702.4,2997.2L1689.1,2997.2ZM1592.2,3032.9L1598.9,3044.3L1585.6,3044.3ZM1701.3,3028.5L1708.0,3039.8L1694.7,3039.8ZM1631.0,3007.3L1637.6,3018.7L1624.3,3018.7ZM1599.2,3036.9L1605.8,3048.2L1592.5,3048.2ZM1667.9,3005.0L1674.5,3016.4L1661.2,3016.4ZM1830.6,2998.3L1837.2,3009.6L1823.9,3009.6ZM1585.9,3024.6L1592.6,3036.0L1579.3,3036.0ZM1776.2,2997.6L1782.8,3009.0L1769.5,3009.0ZM1811.8,2965.9L1818.5,2977.2L1805.2,2977.2ZM1808.3,3033.5L1815.0,3044.9L1801.7,3044.9ZM1832.6,3000.6L1839.3,3012.0L1826.0,3012.0ZM1633.5,3028.7L1640.2,3040.1L1626.9,3040.1ZM1810.3,3025.4L1816.9,3036.8L1803.6,3036.8ZM1589.2,3021.2L1595.9,3032.6L1582.6,3032.6ZM1827.1,3005.7L1833.7,3017.0L1820.4,3017.0ZM1772.5,3036.4L1779.2,3047.7L1765.9,3047.7ZM1693.8,3017.1L1700.5,3028.4L1687.2,3028.4ZM1623.8,2989.7L1630.4,3001.0L1617.1,3001.0ZM1667.9,3032.8L1674.5,3044.1L1661.2,3044.1ZM1844.1,3004.1L1850.7,3015.4L1837.4,3015.4ZM1616.6,3041.4L1623.3,3052.8L1610.0,3052.8ZM1750.4,3001.4L1757.0,3012.8L1743.7,3012.8ZM1572.6,3005.0L1579.3,3016.3L1566.0,3016.3ZM1775.1,2999.7L1781.8,3011.0L1768.5,3011.0ZM1631.9,3002.7L1638.6,3014.0L1625.3,3014.0ZM1736.8,2990.6L1743.4,3001.9L1730.1,3001.9ZM1606.7,2978.5L1613.4,2989.8L1600.1,2989.8ZM1833.1,2983.5L1839.8,2994.9L1826.5,2994.9ZM1808.2,3013.1L1814.8,3024.4L1801.5,3024.4ZM1821.0,3027.9L1827.7,3039.2L1814.4,3039.2ZM1629.9,2994.8L1636.5,3006.2L1623.2,3006.2ZM1820.7,3035.8L1827.3,3047.1L1814.0,3047.1ZM1627.1,3039.4L1633.7,3050.8L1620.4,3050.8ZM1689.9,3031.1L1696.5,3042.5L1683.2,3042.5ZM1619.9,2982.8L1626.5,2994.2L1613.2,2994.2ZM1730.7,2967.7L1737.3,2979.1L1724.0,2979.1ZM1679.4,2988.4L1686.1,2999.7L1672.8,2999.7ZM1569.3,2967.0L1575.9,2978.4L1562.6,2978.4ZM1631.6,3004.4L1638.3,3015.8L1625.0,3015.8ZM1710.4,2967.0L1717.1,2978.4L1703.8,2978.4ZM1704.9,2963.6L1711.5,2974.9L1698.2,2974.9ZM1741.4,3025.1L1748.1,3036.4L1734.8,3036.4ZM1801.6,3026.3L1808.2,3037.6L1794.9,3037.6ZM1848.4,3006.0L1855.1,3017.4L1841.8,3017.4ZM1629.7,2966.0L1636.4,2977.3L1623.1,2977.3ZM1656.7,3010.0L1663.4,3021.3L1650.1,3021.3ZM1662.8,2989.2L1669.4,3000.6L1656.1,3000.6ZM1572.2,3012.6L1578.9,3023.9L1565.6,3023.9ZM1611.6,2976.6L1618.2,2987.9L1604.9,2987.9ZM1565.8,2994.1L1572.4,3005.4L1559.1,3005.4ZM1638.6,3006.2L1645.3,3017.6L1632.0,3017.6ZM1724.6,2985.8L1731.3,2997.1L1718.0,2997.1ZM1604.7,3023.2L1611.3,3034.5L1598.0,3034.5ZM1599.8,2966.1L1606.5,2977.4L1593.2,2977.4ZM1607.9,3031.4L1614.6,3042.7L1601.3,3042.7ZM1713.4,2996.1L1720.1,3007.5L1706.8,3007.5ZM1816.4,3037.8L1823.1,3049.1L1809.8,3049.1ZM1632.0,3029.0L1638.6,3040.3L1625.3,3040.3ZM1731.3,3006.4L1738.0,3017.7L1724.7,3017.7ZM1681.4,2971.8L1688.0,2983.1L1674.7,2983.1ZM1752.9,2974.0L1759.5,2985.4L1746.2,2985.4ZM1836.3,3020.9L1843.0,3032.3L1829.7,3032.3ZM1832.1,3009.9L1838.8,3021.3L1825.5,3021.3ZM1580.3,2969.7L1587.0,2981.0L1573.7,2981.0ZM1595.2,3040.9L1601.8,3052.2L1588.5,3052.2ZM1647.6,3019.3L1654.3,3030.7L1641.0,3030.7ZM1839.2,2973.2L1845.8,2984.5L1832.5,2984.5ZM1684.5,3000.3L1691.2,3011.6L1677.9,3011.6ZM1805.8,2978.2L1812.4,2989.6L1799.1,2989.6ZM1750.5,3001.6L1757.2,3012.9L1743.9,3012.9ZM1598.7,3022.9L1605.3,3034.3L1592.0,3034.3ZM1751.8,2995.8L1758.5,3007.1L1745.2,3007.1ZM1792.3,2971.0L1798.9,2982.3L1785.6,2982.3ZM1837.9,3027.0L1844.5,3038.3L1831.2,3038.3ZM1587.2,2971.1L1593.9,2982.4L1580.6,2982.4ZM1727.0,3027.9L1733.7,3039.2L1720.4,3039.2ZM1761.5,3022.0L1768.1,3033.3L1754.8,3033.3ZM1632.6,3013.2L1639.3,3024.6L1626.0,3024.6ZM1713.9,2988.5L1720.5,2999.9L1707.2,2999.9ZM1586.5,2983.5L1593.1,2994.8L1579.8,2994.8ZM1742.3,3004.8L1748.9,3016.2L1735.6,3016.2ZM1755.8,2978.8L1762.4,2990.2L1749.1,2990.2ZM1568.4,3004.6L1575.1,3015.9L1561.8,3015.9ZM1757.4,2986.0L1764.1,2997.3L1750.8,2997.3ZM1748.8,3028.0L1755.5,3039.3L1742.2,3039.3ZM1836.8,2979.9L1843.4,2991.3L1830.1,2991.3ZM1631.6,3008.1L1638.2,3019.4L1624.9,3019.4ZM1836.6,3025.8L1843.3,3037.2L1830.0,3037.2ZM1681.4,2966.0L1688.1,2977.3L1674.8,2977.3ZM1820.3,3023.8L1826.9,3035.2L1813.6,3035.2ZM1773.7,3013.7L1780.3,3025.1L1767.0,3025.1ZM1753.3,2981.4L1760.0,2992.8L1746.7,2992.8ZM1601.8,3024.6L1608.5,3036.0L1595.2,3036.0ZM1626.5,3021.2L1633.2,3032.5L1619.9,3032.5ZM1575.8,3031.5L1582.5,3042.8L1569.2,3042.8ZM1680.6,3008.9L1687.2,3020.2L1673.9,3020.2ZM1587.7,2996.1L1594.4,3007.4L1581.1,3007.4ZM1832.2,2996.5L1838.9,3007.8L1825.6,3007.8ZM1666.3,2986.4L1673.0,2997.7L1659.7,2997.7ZM1689.4,3028.4L1696.0,3039.7L1682.7,3039.7ZM1702.0,3040.9L1708.6,3052.2L1695.3,3052.2ZM1756.9,3029.5L1763.5,3040.8L1750.2,3040.8ZM1670.3,2965.9L1676.9,2977.2L1663.6,2977.2ZM1782.6,2976.0L1789.2,2987.3L1775.9,2987.3ZM1747.3,2991.9L1754.0,3003.3L1740.7,3003.3ZM1765.1,2965.6L1771.7,2976.9L1758.4,2976.9ZM1621.2,2981.5L1627.9,2992.8L1614.6,2992.8ZM1650.8,3022.0L1657.5,3033.3L1644.2,3033.3ZM1798.1,2994.6L1804.7,3005.9L1791.4,3005.9ZM1806.0,2972.8L1812.7,2984.2L1799.4,2984.2ZM1732.2,3026.5L1738.9,3037.9L1725.6,3037.9ZM1570.0,2999.8L1576.6,3011.2L1563.3,3011.2ZM1770.9,3020.7L1777.6,3032.0L1764.3,3032.0ZM1585.5,3041.9L1592.2,3053.2L1578.9,3053.2ZM1614.7,2987.1L1621.4,2998.4L1608.1,2998.4ZM1566.8,3024.0L1573.5,3035.4L1560.2,3035.4ZM1640.7,2985.8L1647.4,2997.2L1634.1,2997.2ZM1844.9,3040.7L1851.6,3052.1L1838.3,3052.1ZM1598.0,2968.1L1604.7,2979.5L1591.4,2979.5ZM1840.0,3030.5L1846.7,3041.8L1833.4,3041.8ZM1660.6,3000.8L1667.2,3012.2L1653.9,3012.2ZM1656.3,3009.2L1662.9,3020.5L1649.6,3020.5ZM1701.1,3021.8L1707.8,3033.1L1694.5,3033.1ZM1581.3,3035.6L1587.9,3047.0L1574.6,3047.0ZM1611.7,3035.0L1618.3,3046.4L1605.0,3046.4ZM1742.2,2987.0L1748.9,2998.3L1735.6,2998.3ZM1640.1,2979.5L1646.7,2990.8L1633.4,2990.8ZM1771.8,3015.2L1778.5,3026.5L1765.2,3026.5ZM1704.8,3027.3L1711.5,3038.7L1698.2,3038.7ZM1828.4,2997.8L1835.1,3009.1L1821.8,3009.1ZM1580.2,3030.1L1586.9,3041.4L1573.6,3041.4ZM1761.6,3011.7L1768.3,3023.0L1755.0,3023.0ZM1768.5,3024.1L1775.1,3035.4L1761.8,3035.4ZM1791.2,2978.6L1797.8,2990.0L1784.5,2990.0ZM1592.4,2995.8L1599.0,3007.1L1585.7,3007.1ZM1619.8,2986.1L1626.5,2997.5L1613.2,2997.5ZM1793.1,2979.5L1799.7,2990.8L1786.4,2990.8ZM1631.1,3034.9L1637.8,3046.2L1624.5,3046.2ZM1753.4,2997.4L1760.0,3008.8L1746.7,3008.8ZM1604.8,3027.0L1611.5,3038.3L1598.2,3038.3ZM1730.5,3033.7L1737.1,3045.1L1723.8,3045.1ZM1745.0,3023.2L1751.7,3034.5L1738.4,3034.5ZM1638.8,3008.7L1645.5,3020.0L1632.2,3020.0ZM1716.5,2984.8L1723.2,2996.1L1709.9,2996.1ZM1574.5,2984.8L1581.1,2996.1L1567.8,2996.1ZM1628.2,3019.2L1634.9,3030.5L1621.6,3030.5ZM1746.7,2987.4L1753.3,2998.8L1740.0,2998.8ZM1739.6,2970.7L1746.2,2982.1L1732.9,2982.1ZM1623.6,3017.6L1630.2,3028.9L1616.9,3028.9ZM1753.1,3021.6L1759.7,3032.9L1746.4,3032.9ZM1610.2,3024.3L1616.9,3035.7L1603.6,3035.7ZM1783.9,2976.7L1790.5,2988.0L1777.2,2988.0ZM1768.3,2966.2L1774.9,2977.5L1761.6,2977.5ZM1790.4,3017.7L1797.0,3029.0L1783.7,3029.0ZM1654.9,2985.0L1661.6,2996.4L1648.3,2996.4ZM1581.5,2993.9L1588.1,3005.3L1574.8,3005.3ZM1590.9,3038.4L1597.6,3049.7L1584.3,3049.7ZM1711.0,3030.3L1717.7,3041.6L1704.4,3041.6ZM1829.2,2972.7L1835.9,2984.0L1822.6,2984.0ZM1696.3,3026.6L1703.0,3037.9L1689.7,3037.9ZM1599.5,3002.1L1606.2,3013.4L1592.9,3013.4ZM1713.1,3013.5L1719.8,3024.8L1706.5,3024.8ZM1768.3,3000.3L1775.0,3011.6L1761.7,3011.6ZM1785.0,3033.8L1791.7,3045.2L1778.4,3045.2ZM1585.5,3011.6L1592.2,3022.9L1578.9,3022.9ZM1702.5,3022.2L1709.1,3033.6L1695.8,3033.6ZM1754.8,3024.7L1761.4,3036.0L1748.1,3036.0ZM1655.7,3004.4L1662.4,3015.8L1649.1,3015.8ZM1767.2,2981.2L1773.8,2992.5L1760.5,2992.5ZM1670.8,3006.8L1677.5,3018.2L1664.2,3018.2ZM1828.0,2968.2L1834.7,2979.5L1821.4,2979.5ZM1740.7,3033.9L1747.4,3045.3L1734.1,3045.3ZM1694.6,2991.7L1701.3,3003.1L1688.0,3003.1ZM1644.5,3039.3L1651.2,3050.6L1637.9,3050.6ZM1843.2,2970.1L1849.8,2981.4L1836.5,2981.4ZM1602.2,3005.3L1608.8,3016.6L1595.5,3016.6ZM1740.9,3018.5L1747.5,3029.8L1734.2,3029.8ZM1585.1,2982.7L1591.8,2994.0L1578.5,2994.0ZM1783.7,3007.6L1790.3,3018.9L1777.0,3018.9ZM1590.0,3011.0L1596.6,3022.4L1583.3,3022.4ZM1592.3,2965.8L1599.0,2977.2L1585.7,2977.2ZM1580.2,3019.4L1586.9,3030.8L1573.6,3030.8ZM1782.9,3031.6L1789.5,3042.9L1776.2,3042.9ZM1595.9,3036.7L1602.5,3048.0L1589.2,3048.0ZM1612.1,3000.1L1618.7,3011.4L1605.4,3011.4ZM1801.3,3028.9L1808.0,3040.2L1794.7,3040.2ZM1614.8,2981.6L1621.5,2992.9L1608.2,2992.9ZM1686.1,3015.5L1692.8,3026.8L1679.5,3026.8ZM1600.6,3023.0L1607.2,3034.3L1593.9,3034.3ZM1840.5,3033.0L1847.2,3044.3L1833.9,3044.3ZM1639.1,2983.5L1645.8,2994.8L1632.5,2994.8ZM1817.9,2970.5L1824.6,2981.9L1811.3,2981.9ZM1699.4,2966.4L1706.1,2977.7L1692.8,2977.7ZM1736.6,3019.4L1743.2,3030.7L1729.9,3030.7ZM1697.3,2985.5L1703.9,2996.8L1690.6,2996.8ZM1773.3,3032.0L1779.9,3043.3L1766.6,3043.3ZM1620.5,2966.2L1627.1,2977.6L1613.8,2977.6ZM1596.0,2977.7L1602.6,2989.1L1589.3,2989.1ZM1661.6,3022.6L1668.2,3033.9L1654.9,3033.9ZM1637.9,3005.0L1644.5,3016.4L1631.2,3016.4ZM1845.9,3030.5L1852.5,3041.8L1839.2,3041.8ZM1807.4,3016.8L1814.0,3028.1L1800.7,3028.1ZM1614.6,2983.2L1621.2,2994.5L1607.9,2994.5ZM1662.3,3027.4L1669.0,3038.7L1655.7,3038.7ZM1684.1,2977.1L1690.7,2988.4L1677.4,2988.4ZM1809.8,2996.7L1816.4,3008.0L1803.1,3008.0ZM1568.7,2981.7L1575.3,2993.0L1562.0,2993.0ZM1737.3,2970.9L1743.9,2982.2L1730.6,2982.2ZM1835.0,3016.3L1841.6,3027.7L1828.3,3027.7ZM1805.7,2977.3L1812.3,2988.6L1799.0,2988.6ZM1640.9,3013.2L1647.6,3024.6L1634.3,3024.6ZM1671.7,3014.3L1678.3,3025.6L1665.0,3025.6ZM1672.7,3033.5L1679.3,3044.9L1666.0,3044.9ZM1860.6,2964.8L1867.2,2976.1L1853.9,2976.1ZM1870.3,2986.0L1876.9,2997.4L1863.6,2997.4ZM1895.6,2976.7L1902.2,2988.1L1888.9,2988.1ZM1861.5,2964.0L1868.1,2975.3L1854.8,2975.3ZM1891.2,2958.5L1897.8,2969.8L1884.5,2969.8ZM1887.1,2976.8L1893.8,2988.1L1880.5,2988.1ZM1891.6,3015.7L1898.3,3027.1L1885.0,3027.1ZM1883.3,3005.8L1890.0,3017.2L1876.7,3017.2ZM1893.1,3025.0L1899.7,3036.3L1886.4,3036.3ZM1877.1,3009.3L1883.8,3020.6L1870.5,3020.6ZM1892.0,3008.6L1898.7,3019.9L1885.4,3019.9ZM1893.3,2969.6L1899.9,2980.9L1886.6,2980.9ZM1895.1,3024.6L1901.8,3035.9L1888.5,3035.9ZM1898.3,2977.6L1904.9,2988.9L1891.6,2988.9ZM1884.4,2984.7L1891.1,2996.1L1877.8,2996.1ZM1851.1,2967.8L1857.7,2979.2L1844.4,2979.2ZM1877.6,3000.0L1884.2,3011.3L1870.9,3011.3ZM1866.5,2974.6L1873.2,2985.9L1859.9,2985.9ZM1890.0,2967.9L1896.7,2979.2L1883.4,2979.2ZM1859.9,3008.9L1866.5,3020.3L1853.2,3020.3ZM1861.7,3027.6L1868.4,3038.9L1855.1,3038.9ZM1865.9,3033.4L1872.5,3044.7L1859.2,3044.7ZM1890.8,3017.7L1897.4,3029.1L1884.1,3029.1ZM1852.3,3030.1L1858.9,3041.5L1845.6,3041.5ZM1887.8,3020.0L1894.5,3031.3L1881.2,3031.3ZM1873.0,3004.2L1879.7,3015.5L1866.4,3015.5ZM1891.1,2961.3L1897.7,2972.7L1884.4,2972.7ZM1865.0,2986.3L1871.6,2997.6L1858.3,2997.6ZM1896.0,2998.9L1902.6,3010.2L1889.3,3010.2ZM1896.2,2978.4L1902.9,2989.8L1889.6,2989.8ZM1865.0,2967.5L1871.7,2978.9L1858.4,2978.9ZM1878.9,3027.2L1885.6,3038.5L1872.3,3038.5ZM1879.7,2971.0L1886.3,2982.3L1873.0,2982.3ZM1876.0,2997.8L1882.7,3009.1L1869.4,3009.1ZM1870.6,2967.0L1877.3,2978.4L1864.0,2978.4ZM1883.8,3019.2L1890.5,3030.6L1877.2,3030.6ZM1867.7,3007.2L1874.4,3018.5L1861.1,3018.5ZM1899.4,2981.4L1906.0,2992.7L1892.7,2992.7ZM1855.1,2964.4L1861.8,2975.7L1848.5,2975.7ZM1850.4,2989.5L1857.0,3000.8L1843.7,3000.8ZM1576.7,3055.8L1583.4,3067.2L1570.1,3067.2ZM1576.2,3101.1L1582.9,3112.5L1569.6,3112.5ZM1592.9,3048.4L1599.5,3059.7L1586.2,3059.7ZM1639.8,3082.0L1646.4,3093.3L1633.1,3093.3ZM1539.6,3053.9L1546.3,3065.2L1533.0,3065.2ZM1642.0,3092.0L1648.7,3103.3L1635.4,3103.3ZM1656.4,3035.9L1663.1,3047.3L1649.8,3047.3ZM1576.9,3080.3L1583.6,3091.6L1570.3,3091.6ZM1625.8,3040.5L1632.4,3051.8L1619.1,3051.8ZM1536.0,3086.0L1542.6,3097.3L1529.3,3097.3ZM1558.5,3054.8L1565.1,3066.1L1551.8,3066.1ZM1533.3,3068.2L1540.0,3079.5L1526.7,3079.5ZM1588.8,3059.4L1595.4,3070.7L1582.1,3070.7ZM1525.6,3038.5L1532.3,3049.9L1519.0,3049.9ZM1677.1,3067.2L1683.7,3078.5L1670.4,3078.5ZM1640.9,3094.5L1647.5,3105.9L1634.2,3105.9ZM1661.2,3067.9L1667.9,3079.2L1654.6,3079.2ZM1634.6,3044.9L1641.2,3056.2L1627.9,3056.2ZM1564.3,3040.9L1570.9,3052.2L1557.6,3052.2ZM1537.0,3106.1L1543.6,3117.5L1530.3,3117.5ZM1589.1,3042.7L1595.8,3054.1L1582.5,3054.1ZM1659.5,3038.6L1666.1,3050.0L1652.8,3050.0ZM1590.6,3040.3L1597.3,3051.6L1584.0,3051.6ZM1599.3,3097.4L1606.0,3108.8L1592.7,3108.8ZM1611.9,3049.6L1618.5,3061.0L1605.2,3061.0ZM1575.2,3064.2L1581.9,3075.5L1568.6,3075.5ZM1546.1,3087.8L1552.8,3099.2L1539.5,3099.2ZM1574.6,3070.6L1581.3,3082.0L1568.0,3082.0ZM1583.1,3101.1L1589.7,3112.5L1576.4,3112.5ZM1501.3,3083.2L1508.0,3094.5L1494.7,3094.5ZM1627.0,3053.6L1633.7,3064.9L1620.4,3064.9ZM1542.2,3089.3L1548.9,3100.6L1535.6,3100.6ZM1591.7,3095.1L1598.3,3106.5L1585.0,3106.5ZM1606.9,3042.3L1613.5,3053.7L1600.2,3053.7ZM1536.0,3065.4L1542.7,3076.7L1529.4,3076.7ZM1627.7,3053.5L1634.4,3064.9L1621.1,3064.9ZM1626.2,3056.3L1632.8,3067.7L1619.5,3067.7ZM1548.5,3047.1L1555.1,3058.4L1541.8,3058.4ZM1663.8,3104.0L1670.5,3115.4L1657.2,3115.4ZM1667.2,3075.8L1673.9,3087.1L1660.6,3087.1ZM1515.6,3102.8L1522.2,3114.1L1508.9,3114.1ZM1641.2,3058.7L1647.8,3070.1L1634.5,3070.1ZM1525.4,3074.5L1532.1,3085.8L1518.8,3085.8ZM1613.2,3035.5L1619.9,3046.9L1606.6,3046.9ZM1559.7,3052.3L1566.4,3063.6L1553.1,3063.6ZM1543.7,3093.4L1550.3,3104.8L1537.0,3104.8ZM1528.8,3078.1L1535.5,3089.5L1522.2,3089.5ZM1609.6,3085.9L1616.2,3097.2L1602.9,3097.2ZM1528.9,3092.0L1535.6,3103.3L1522.3,3103.3ZM1515.3,3093.8L1522.0,3105.2L1508.7,3105.2ZM1556.1,3071.3L1562.8,3082.6L1549.5,3082.6ZM1532.8,3073.1L1539.4,3084.4L1526.1,3084.4ZM1578.1,3037.3L1584.7,3048.7L1571.4,3048.7ZM1586.3,3039.4L1592.9,3050.7L1579.6,3050.7ZM1583.7,3093.5L1590.3,3104.8L1577.0,3104.8ZM1605.0,3097.3L1611.6,3108.7L1598.3,3108.7ZM1530.2,3102.5L1536.9,3113.9L1523.6,3113.9ZM1624.3,3037.8L1630.9,3049.1L1617.6,3049.1ZM1571.6,3082.2L1578.3,3093.5L1565.0,3093.5ZM1575.5,3082.3L1582.1,3093.7L1568.8,3093.7ZM1622.4,3079.4L1629.1,3090.8L1615.8,3090.8ZM1527.3,3045.2L1533.9,3056.5L1520.6,3056.5ZM1601.5,3107.4L1608.2,3118.7L1594.9,3118.7ZM1650.5,3055.0L1657.1,3066.4L1643.8,3066.4ZM1563.0,3062.2L1569.6,3073.5L1556.3,3073.5ZM1663.0,3078.7L1669.6,3090.1L1656.3,3090.1ZM1576.8,3086.2L1583.4,3097.6L1570.1,3097.6ZM1598.3,3059.8L1604.9,3071.1L1591.6,3071.1ZM1630.2,3039.0L1636.9,3050.4L1623.6,3050.4ZM1526.0,3081.3L1532.7,3092.7L1519.4,3092.7ZM1650.8,3050.5L1657.5,3061.9L1644.2,3061.9ZM1604.6,3058.8L1611.3,3070.1L1598.0,3070.1ZM1560.4,3039.4L1567.1,3050.7L1553.8,3050.7ZM1597.4,3078.7L1604.1,3090.0L1590.8,3090.0ZM1532.6,3099.5L1539.2,3110.8L1525.9,3110.8ZM1659.0,3049.8L1665.6,3061.2L1652.3,3061.2ZM1505.1,3084.4L1511.7,3095.7L1498.4,3095.7ZM1585.1,3071.9L1591.8,3083.3L1578.5,3083.3ZM1564.6,3043.0L1571.2,3054.3L1557.9,3054.3ZM1562.2,3069.3L1568.8,3080.6L1555.5,3080.6ZM1664.6,3061.5L1671.2,3072.9L1657.9,3072.9ZM1584.6,3083.7L1591.3,3095.1L1578.0,3095.1ZM1568.8,3063.7L1575.4,3075.0L1562.1,3075.0ZM1639.2,3088.9L1645.9,3100.3L1632.6,3100.3ZM1565.8,3079.7L1572.5,3091.1L1559.2,3091.1ZM1564.5,3041.7L1571.1,3053.0L1557.8,3053.0ZM1595.6,3087.8L1602.2,3099.2L1588.9,3099.2ZM1559.1,3048.3L1565.7,3059.7L1552.4,3059.7ZM1528.6,3057.8L1535.3,3069.2L1522.0,3069.2ZM1504.2,3093.8L1510.8,3105.2L1497.5,3105.2ZM1510.8,3049.5L1517.5,3060.8L1504.2,3060.8ZM1526.3,3091.3L1532.9,3102.6L1519.6,3102.6ZM1510.5,3088.7L1517.2,3100.1L1503.9,3100.1ZM1630.0,3055.7L1636.6,3067.0L1623.3,3067.0ZM1661.2,3039.2L1667.9,3050.6L1654.6,3050.6ZM1597.7,3041.0L1604.3,3052.4L1591.0,3052.4ZM1516.2,3040.8L1522.8,3052.1L1509.5,3052.1ZM1577.0,3093.8L1583.7,3105.2L1570.4,3105.2ZM1632.5,3045.6L1639.2,3057.0L1625.9,3057.0ZM1568.5,3101.1L1575.2,3112.4L1561.9,3112.4ZM1654.6,3053.2L1661.3,3064.6L1648.0,3064.6ZM1605.8,3037.1L1612.5,3048.4L1599.2,3048.4ZM1507.1,3103.8L1513.7,3115.1L1500.4,3115.1ZM1522.3,3106.2L1528.9,3117.6L1515.6,3117.6ZM1625.5,3062.2L1632.2,3073.5L1618.9,3073.5ZM1520.2,3096.1L1526.8,3107.4L1513.5,3107.4ZM1532.3,3063.7L1539.0,3075.0L1525.7,3075.0ZM1619.2,3037.6L1625.8,3048.9L1612.5,3048.9ZM1564.1,3036.9L1570.7,3048.2L1557.4,3048.2ZM1577.1,3079.5L1583.8,3090.8L1570.5,3090.8ZM1545.1,3091.0L1551.8,3102.3L1538.5,3102.3ZM1672.6,3035.7L1679.2,3047.1L1665.9,3047.1ZM1625.1,3095.1L1631.7,3106.5L1618.4,3106.5ZM1532.1,3096.8L1538.8,3108.1L1525.5,3108.1ZM1562.4,3054.4L1569.0,3065.8L1555.7,3065.8ZM1510.7,3069.4L1517.4,3080.8L1504.1,3080.8ZM1620.6,3105.4L1627.3,3116.7L1614.0,3116.7ZM1578.0,3050.5L1584.7,3061.9L1571.4,3061.9ZM1602.1,3075.1L1608.7,3086.4L1595.4,3086.4ZM1656.1,3064.3L1662.8,3075.6L1649.5,3075.6ZM1559.9,3079.1L1566.5,3090.5L1553.2,3090.5ZM1667.1,3045.6L1673.7,3056.9L1660.4,3056.9ZM1662.0,3067.2L1668.7,3078.5L1655.4,3078.5ZM1525.5,3095.1L1532.2,3106.5L1518.9,3106.5ZM1568.1,3057.8L1574.7,3069.1L1561.4,3069.1ZM1501.1,3049.7L1507.8,3061.1L1494.5,3061.1ZM1639.2,3070.5L1645.9,3081.9L1632.6,3081.9ZM1501.3,3050.0L1508.0,3061.3L1494.7,3061.3ZM1573.5,3059.3L1580.2,3070.7L1566.9,3070.7ZM1601.1,3055.1L1607.7,3066.4L1594.4,3066.4ZM1572.6,3038.3L1579.2,3049.6L1565.9,3049.6ZM1669.2,3040.5L1675.9,3051.9L1662.6,3051.9ZM1609.1,3084.9L1615.7,3096.2L1602.4,3096.2ZM1566.9,3088.3L1573.5,3099.7L1560.2,3099.7ZM1660.1,3050.4L1666.7,3061.8L1653.4,3061.8ZM1639.6,3048.3L1646.3,3059.7L1633.0,3059.7ZM1675.4,3058.0L1682.1,3069.3L1668.8,3069.3ZM1556.6,3052.9L1563.2,3064.3L1549.9,3064.3ZM1546.7,3063.6L1553.3,3074.9L1540.0,3074.9ZM1528.3,3045.7L1535.0,3057.0L1521.7,3057.0ZM1586.7,3087.9L1593.4,3099.2L1580.1,3099.2ZM1663.4,3101.8L1670.1,3113.2L1656.8,3113.2ZM1664.7,3053.0L1671.4,3064.3L1658.1,3064.3ZM1526.7,3052.7L1533.3,3064.0L1520.0,3064.0ZM1601.7,3042.1L1608.3,3053.4L1595.0,3053.4ZM1604.0,3076.9L1610.6,3088.2L1597.3,3088.2ZM1665.3,3101.5L1671.9,3112.8L1658.6,3112.8ZM1637.7,3100.4L1644.3,3111.7L1631.0,3111.7ZM1549.2,3099.6L1555.9,3110.9L1542.6,3110.9ZM1654.3,3075.8L1661.0,3087.2L1647.7,3087.2ZM1641.1,3109.1L1647.7,3120.4L1634.4,3120.4ZM1641.8,3107.1L1648.4,3118.4L1635.1,3118.4ZM1529.9,3107.9L1536.6,3119.2L1523.3,3119.2ZM1640.3,3109.3L1646.9,3120.6L1633.6,3120.6ZM1628.4,3109.0L1635.0,3120.3L1621.7,3120.3ZM1578.2,3105.7L1584.8,3117.0L1571.5,3117.0ZM1679.4,3105.2L1686.0,3116.6L1672.7,3116.6ZM1588.1,3107.5L1594.8,3118.8L1581.5,3118.8ZM1655.6,3106.5L1662.3,3117.8L1649.0,3117.8ZM1593.3,3105.9L1600.0,3117.3L1586.7,3117.3ZM1583.6,3105.5L1590.3,3116.8L1577.0,3116.8ZM1596.3,3109.8L1602.9,3121.1L1589.6,3121.1ZM1645.1,3109.7L1651.8,3121.0L1638.5,3121.0ZM1632.8,3110.1L1639.5,3121.5L1626.2,3121.5ZM1687.4,3107.6L1694.0,3119.0L1680.7,3119.0ZM1643.6,3109.7L1650.2,3121.1L1636.9,3121.1ZM1625.3,3108.5L1631.9,3119.8L1618.6,3119.8ZM1556.7,3106.2L1563.4,3117.5L1550.1,3117.5ZM1518.6,3107.9L1525.2,3119.3L1511.9,3119.3ZM1528.1,3106.0L1534.7,3117.3L1521.4,3117.3ZM1670.6,3110.2L1677.2,3121.6L1663.9,3121.6ZM1594.8,3108.0L1601.5,3119.3L1588.2,3119.3ZM1639.7,3106.6L1646.4,3118.0L1633.1,3118.0ZM1573.4,3105.6L1580.0,3116.9L1566.7,3116.9ZM1545.5,3109.7L1552.1,3121.0L1538.8,3121.0ZM1879.5,3092.3L1886.2,3103.6L1872.9,3103.6ZM1732.8,3026.7L1739.5,3038.1L1726.2,3038.1ZM1767.9,3084.7L1774.6,3096.1L1761.3,3096.1ZM1906.4,3031.3L1913.1,3042.6L1899.8,3042.6ZM1872.8,3069.8L1879.4,3081.2L1866.1,3081.2ZM1902.4,3074.9L1909.0,3086.2L1895.7,3086.2ZM1900.9,3007.3L1907.6,3018.6L1894.3,3018.6ZM1916.0,2980.0L1922.7,2991.3L1909.4,2991.3ZM1836.6,3021.1L1843.3,3032.4L1830.0,3032.4ZM1888.9,3036.5L1895.5,3047.8L1882.2,3047.8ZM1712.4,2955.4L1719.0,2966.7L1705.7,2966.7ZM1877.4,2995.4L1884.1,3006.7L1870.8,3006.7ZM1863.2,3073.0L1869.9,3084.3L1856.6,3084.3ZM1797.5,2971.0L1804.2,2982.4L1790.9,2982.4ZM1913.9,2953.7L1920.5,2965.1L1907.2,2965.1ZM1726.9,2995.0L1733.5,3006.4L1720.2,3006.4ZM1818.7,3043.1L1825.4,3054.5L1812.1,3054.5ZM1728.6,3089.4L1735.2,3100.7L1721.9,3100.7ZM1799.2,3027.9L1805.8,3039.3L1792.5,3039.3ZM1751.9,3049.6L1758.6,3060.9L1745.3,3060.9ZM1818.7,2981.6L1825.4,2992.9L1812.1,2992.9ZM1827.0,3085.0L1833.6,3096.4L1820.3,3096.4ZM1896.2,3049.6L1902.8,3060.9L1889.5,3060.9ZM1913.4,2943.7L1920.0,2955.0L1906.7,2955.0ZM1722.2,3012.6L1728.8,3023.9L1715.5,3023.9ZM1915.0,3046.6L1921.7,3057.9L1908.4,3057.9ZM1817.2,3058.9L1823.8,3070.2L1810.5,3070.2ZM1696.1,3077.7L1702.8,3089.1L1689.5,3089.1ZM1718.4,3064.0L1725.0,3075.3L1711.7,3075.3ZM1836.3,3015.9L1843.0,3027.2L1829.7,3027.2ZM1910.7,2994.8L1917.3,3006.1L1904.0,3006.1ZM1774.0,2949.2L1780.6,2960.6L1767.3,2960.6ZM1837.4,3019.3L1844.0,3030.6L1830.7,3030.6ZM1890.7,2997.4L1897.3,3008.8L1884.0,3008.8ZM1773.5,3008.7L1780.2,3020.0L1766.9,3020.0Z" fill="#bfbf00"/>
<path d="M957.8,2951.1a5.4,5.4 0 1,0 10.8,0a5.4,5.4 0 1,0 -10.8,0M1111.6,2822.3a5.4,5.4 0 1,0 10.8,0a5.4,5.4 0 1,0 -10.8,0M1111.6,2942.4a5.4,5.4 0 1,0 10.8,0a5.4,5.4 0 1,0 -10.8,0M1111.6,2954.9a5.4,5.4 0 1,0 10.8,0a5.4,5.4 0 1,0 -10.8,0M1200.4,2851.1a5.4,5.4 0 1,0 10.8,0a5.4,5.4 0 1,0 -10.8,0M1200.4,2886.1a5.4,5.4 0 1,0 10.8,0a5.4,5.4 0 1,0 -10.8,0M1200.4,2923.6a5.4,5.4 0 1,0 10.8,0a5.4,5.4 0 1,0 -10.8,0M1261.7,2751.0a5.4,5.4 0 1,0 10.8,0a5.4,5.4 0 1,0 -10.8,0M1261.7,2823.5a5.4,5.4 0 1,0 10.8,0a5.4,5.4 0 1,0 -10.8,0M1261.7,2942.4a5.4,5.4 0 1,0 10.8,0a5.4,5.4 0 1,0 -10.8,0M1261.7,2954.9a5.4,5.4 0 1,0 10.8,0a5.4,5.4 0 1,0 -10.8,0M1310.5,2723.5a5.4,5.4 0 1,0 10.8,0a5.4,5.4 0 1,0 -10.8,0M1310.5,2829.8a5.4,5.4 0 1,0 10.8,0a5.4,5.4 0 1,0 -10.8,0M1310.5,2936.1a5.4,5.4 0 1,0 10.8,0a5.4,5.4 0 1,0 -10.8,0M1310.5,2961.1a5.4,5.4 0 1,0 10.8,0a5.4,5.4 0 1,0 -10.8,0M1310.5,2979.9a5.4,5.4 0 1,0 10.8,0a5.4,5.4 0 1,0 -10.8,0M879.0,3226.3a5.4,5.4 0 1,0 10.8,0a5.4,5.4 0 1,0 -10.8,0M941.5,3165.0a5.4,5.4 0 1,0 10.8,0a5.4,5.4 0 1,0 -10.8,0M822.7,3333.9a5.4,5.4 0 1,0 10.8,0a5.4,5.4 0 1,0 -10.8,0M960.3,3321.4a5.4,5.4 0 1,0 10.8,0a5.4,5.4 0 1,0 -10.8,0M1001.5,3325.1a5.4,5.4 0 1,0 10.8,0a5.4,5.4 0 1,0 -10.8,0M1124.1,3298.9a5.4,5.4 0 1,0 10.8,0a5.4,5.4 0 1,0 -10.8,0M1179.2,3273.9a5.4,5.4 0 1,0 10.8,0a5.4,5.4 0 1,0 -10.8,0M1200.4,3245.1a5.4,5.4 0 1,0 10.8,0a5.4,5.4 0 1,0 -10.8,0M1214.2,3265.1a5.4,5.4 0 1,0 10.8,0a5.4,5.4 0 1,0 -10.8,0M1233.0,3286.4a5.4,5.4 0 1,0 10.8,0a5.4,5.4 0 1,0 -10.8,0M1254.2,3230.1a5.4,5.4 0 1,0 10.8,0a5.4,5.4 0 1,0 -10.8,0M1261.7,3255.1a5.4,5.4 0 1,0 10.8,0a5.4,5.4 0 1,0 -10.8,0M1310.5,3267.6a5.4,5.4 0 1,0 10.8,0a5.4,5.4 0 1,0 -10.8,0M1310.5,3293.9a5.4,5.4 0 1,0 10.8,0a5.4,5.4 0 1,0 -10.8,0M1191.7,3317.6a5.4,5.4 0 1,0 10.8,0a5.4,5.4 0 1,0 -10.8,0M1185.4,3348.9a5.4,5.4 0 1,0 10.8,0a5.4,5.4 0 1,0 -10.8,0M1204.2,3342.7a5.4,5.4 0 1,0 10.8,0a5.4,5.4 0 1,0 -10.8,0M1214.2,3357.7a5.4,5.4 0 1,0 10.8,0a5.4,5.4 0 1,0 -10.8,0M1169.2,3380.2a5.4,5.4 0 1,0 10.8,0a5.4,5.4 0 1,0 -10.8,0M1160.4,3405.2a5.4,5.4 0 1,0 10.8,0a5.4,5.4 0 1,0 -10.8,0M1135.4,3442.7a5.4,5.4 0 1,0 10.8,0a5.4,5.4 0 1,0 -10.8,0M1095.4,3436.5a5.4,5.4 0 1,0 10.8,0a5.4,5.4 0 1,0 -10.8,0M1060.3,3417.7a5.4,5.4 0 1,0 10.8,0a5.4,5.4 0 1,0 -10.8,0M1064.1,3432.7a5.4,5.4 0 1,0 10.8,0a5.4,5.4 0 1,0 -10.8,0M1045.3,3367.7a5.4,5.4 0 1,0 10.8,0a5.4,5.4 0 1,0 -10.8,0M1016.6,3361.4a5.4,5.4 0 1,0 10.8,0a5.4,5.4 0 1,0 -10.8,0M1054.1,3467.8a5.4,5.4 0 1,0 10.8,0a5.4,5.4 0 1,0 -10.8,0M1031.6,3492.8a5.4,5.4 0 1,0 10.8,0a5.4,5.4 0 1,0 -10.8,0M1017.8,3526.5a5.4,5.4 0 1,0 10.8,0a5.4,5.4 0 1,0 -10.8,0M1006.5,3586.6a5.4,5.4 0 1,0 10.8,0a5.4,5.4 0 1,0 -10.8,0M966.5,3580.3a5.4,5.4 0 1,0 10.8,0a5.4,5.4 0 1,0 -10.8,0M926.5,3576.6a5.4,5.4 0 1,0 10.8,0a5.4,5.4 0 1,0 -10.8,0M895.2,3539.1a5.4,5.4 0 1,0 10.8,0a5.4,5.4 0 1,0 -10.8,0M892.7,3599.1a5.4,5.4 0 1,0 10.8,0a5.4,5.4 0 1,0 -10.8,0M934.0,3446.5a5.4,5.4 0 1,0 10.8,0a5.4,5.4 0 1,0 -10.8,0M822.7,3489.0a5.4,5.4 0 1,0 10.8,0a5.4,5.4 0 1,0 -10.8,0M751.4,3596.6a5.4,5.4 0 1,0 10.8,0a5.4,5.4 0 1,0 -10.8,0M766.4,3621.6a5.4,5.4 0 1,0 10.8,0a5.4,5.4 0 1,0 -10.8,0M751.4,3636.6a5.4,5.4 0 1,0 10.8,0a5.4,5.4 0 1,0 -10.8,0M848.9,3640.4a5.4,5.4 0 1,0 10.8,0a5.4,5.4 0 1,0 -10.8,0M848.9,3684.2a5.4,5.4 0 1,0 10.8,0a5.4,5.4 0 1,0 -10.8,0M856.4,3699.2a5.4,5.4 0 1,0 10.8,0a5.4,5.4 0 1,0 -10.8,0M832.7,3686.7a5.4,5.4 0 1,0 10.8,0a5.4,5.4 0 1,0 -10.8,0M818.9,3740.4a5.4,5.4 0 1,0 10.8,0a5.4,5.4 0 1,0 -10.8,0M785.1,3707.9a5.4,5.4 0 1,0 10.8,0a5.4,5.4 0 1,0 -10.8,0M732.6,3711.7a5.4,5.4 0 1,0 10.8,0a5.4,5.4 0 1,0 -10.8,0M726.3,3717.9a5.4,5.4 0 1,0 10.8,0a5.4,5.4 0 1,0 -10.8,0M707.6,3705.4a5.4,5.4 0 1,0 10.8,0a5.4,5.4 0 1,0 -10.8,0M710.1,3758.0a5.4,5.4 0 1,0 10.8,0a5.4,5.4 0 1,0 -10.8,0M695.1,3727.9a5.4,5.4 0 1,0 10.8,0a5.4,5.4 0 1,0 -10.8,0M672.6,3726.7a5.4,5.4 0 1,0 10.8,0a5.4,5.4 0 1,0 -10.8,0M660.1,3753.0a5.4,5.4 0 1,0 10.8,0a5.4,5.4 0 1,0 -10.8,0M666.3,3786.7a5.4,5.4 0 1,0 10.8,0a5.4,5.4 0 1,0 -10.8,0M635.0,3655.4a5.4,5.4 0 1,0 10.8,0a5.4,5.4 0 1,0 -10.8,0M640.0,3686.7a5.4,5.4 0 1,0 10.8,0a5.4,5.4 0 1,0 -10.8,0M611.3,3611.6a5.4,5.4 0 1,0 10.8,0a5.4,5.4 0 1,0 -10.8,0M576.2,3692.9a5.4,5.4 0 1,0 10.8,0a5.4,5.4 0 1,0 -10.8,0M563.7,3715.4a5.4,5.4 0 1,0 10.8,0a5.4,5.4 0 1,0 -10.8,0M531.2,3717.9a5.4,5.4 0 1,0 10.8,0a5.4,5.4 0 1,0 -10.8,0M541.2,3724.2a5.4,5.4 0 1,0 10.8,0a5.4,5.4 0 1,0 -10.8,0M540.0,3743.0a5.4,5.4 0 1,0 10.8,0a5.4,5.4 0 1,0 -10.8,0M545.0,3745.5a5.4,5.4 0 1,0 10.8,0a5.4,5.4 0 1,0 -10.8,0M625.0,3773.0a5.4,5.4 0 1,0 10.8,0a5.4,5.4 0 1,0 -10.8,0M801.4,3574.1a5.4,5.4 0 1,0 10.8,0a5.4,5.4 0 1,0 -10.8,0M810.2,3818.0a5.4,5.4 0 1,0 10.8,0a5.4,5.4 0 1,0 -10.8,0M381.1,3849.3a5.4,5.4 0 1,0 10.8,0a5.4,5.4 0 1,0 -10.8,0M944.0,3661.6a5.4,5.4 0 1,0 10.8,0a5.4,5.4 0 1,0 -10.8,0M1025.3,3667.9a5.4,5.4 0 1,0 10.8,0a5.4,5.4 0 1,0 -10.8,0M1241.7,3430.2a5.4,5.4 0 1,0 10.8,0a5.4,5.4 0 1,0 -10.8,0M1216.7,3439.0a5.4,5.4 0 1,0 10.8,0a5.4,5.4 0 1,0 -10.8,0M1313.2,2938.4a5.4,5.4 0 1,0 10.8,0a5.4,5.4 0 1,0 -10.8,0M1314.9,3068.2a5.4,5.4 0 1,0 10.8,0a5.4,5.4 0 1,0 -10.8,0M1314.4,2978.1a5.4,5.4 0 1,0 10.8,0a5.4,5.4 0 1,0 -10.8,0M1311.4,3041.8a5.4,5.4 0 1,0 10.8,0a5.4,5.4 0 1,0 -10.8,0M1312.1,2782.8a5.4,5.4 0 1,0 10.8,0a5.4,5.4 0 1,0 -10.8,0M1311.5,2869.8a5.4,5.4 0 1,0 10.8,0a5.4,5.4 0 1,0 -10.8,0M1313.5,2947.4a5.4,5.4 0 1,0 10.8,0a5.4,5.4 0 1,0 -10.8,0M1313.1,3062.2a5.4,5.4 0 1,0 10.8,0a5.4,5.4 0 1,0 -10.8,0M1311.0,3009.1a5.4,5.4 0 1,0 10.8,0a5.4,5.4 0 1,0 -10.8,0M1349.9,2825.3a5.4,5.4 0 1,0 10.8,0a5.4,5.4 0 1,0 -10.8,0M1352.4,2717.2a5.4,5.4 0 1,0 10.8,0a5.4,5.4 0 1,0 -10.8,0M1353.1,2980.0a5.4,5.4 0 1,0 10.8,0a5.4,5.4 0 1,0 -10.8,0M1351.3,2837.5a5.4,5.4 0 1,0 10.8,0a5.4,5.4 0 1,0 -10.8,0M1349.7,2914.3a5.4,5.4 0 1,0 10.8,0a5.4,5.4 0 1,0 -10.8,0M1350.4,3042.1a5.4,5.4 0 1,0 10.8,0a5.4,5.4 0 1,0 -10.8,0M1349.9,2800.6a5.4,5.4 0 1,0 10.8,0a5.4,5.4 0 1,0 -10.8,0M1350.2,2993.7a5.4,5.4 0 1,0 10.8,0a5.4,5.4 0 1,0 -10.8,0M1351.3,2762.3a5.4,5.4 0 1,0 10.8,0a5.4,5.4 0 1,0 -10.8,0M1350.0,2918.9a5.4,5.4 0 1,0 10.8,0a5.4,5.4 0 1,0 -10.8,0M1383.2,3029.4a5.4,5.4 0 1,0 10.8,0a5.4,5.4 0 1,0 -10.8,0M1383.7,2950.6a5.4,5.4 0 1,0 10.8,0a5.4,5.4 0 1,0 -10.8,0M1383.3,2761.2a5.4,5.4 0 1,0 10.8,0a5.4,5.4 0 1,0 -10.8,0M1385.8,3030.4a5.4,5.4 0 1,0 10.8,0a5.4,5.4 0 1,0 -10.8,0M1384.3,2956.7a5.4,5.4 0 1,0 10.8,0a5.4,5.4 0 1,0 -10.8,0M1384.8,3039.9a5.4,5.4 0 1,0 10.8,0a5.4,5.4 0 1,0 -10.8,0M1386.8,2717.2a5.4,5.4 0 1,0 10.8,0a5.4,5.4 0 1,0 -10.8,0M1385.2,2906.1a5.4,5.4 0 1,0 10.8,0a5.4,5.4 0 1,0 -10.8,0M1383.6,3047.6a5.4,5.4 0 1,0 10.8,0a5.4,5.4 0 1,0 -10.8,0M1384.7,2987.3a5.4,5.4 0 1,0 10.8,0a5.4,5.4 0 1,0 -10.8,0M1386.7,3025.6a5.4,5.4 0 1,0 10.8,0a5.4,5.4 0 1,0 -10.8,0M1415.1,2907.7a5.4,5.4 0 1,0 10.8,0a5.4,5.4 0 1,0 -10.8,0M1414.3,2788.9a5.4,5.4 0 1,0 10.8,0a5.4,5.4 0 1,0 -10.8,0M1411.9,2840.5a5.4,5.4 0 1,0 10.8,0a5.4,5.4 0 1,0 -10.8,0M1415.4,2795.4a5.4,5.4 0 1,0 10.8,0a5.4,5.4 0 1,0 -10.8,0M1414.7,2908.2a5.4,5.4 0 1,0 10.8,0a5.4,5.4 0 1,0 -10.8,0M1412.3,2792.8a5.4,5.4 0 1,0 10.8,0a5.4,5.4 0 1,0 -10.8,0M1412.9,2788.5a5.4,5.4 0 1,0 10.8,0a5.4,5.4 0 1,0 -10.8,0M1415.6,2938.7a5.4,5.4 0 1,0 10.8,0a5.4,5.4 0 1,0 -10.8,0M1413.2,2734.4a5.4,5.4 0 1,0 10.8,0a5.4,5.4 0 1,0 -10.8,0M1414.6,3022.4a5.4,5.4 0 1,0 10.8,0a5.4,5.4 0 1,0 -10.8,0M1412.0,3029.4a5.4,5.4 0 1,0 10.8,0a5.4,5.4 0 1,0 -10.8,0M1415.3,2786.4a5.4,5.4 0 1,0 10.8,0a5.4,5.4 0 1,0 -10.8,0M1412.1,2779.0a5.4,5.4 0 1,0 10.8,0a5.4,5.4 0 1,0 -10.8,0M1442.2,2803.6a5.4,5.4 0 1,0 10.8,0a5.4,5.4 0 1,0 -10.8,0M1443.7,2921.1a5.4,5.4 0 1,0 10.8,0a5.4,5.4 0 1,0 -10.8,0M1442.4,2898.0a5.4,5.4 0 1,0 10.8,0a5.4,5.4 0 1,0 -10.8,0M1442.0,2828.6a5.4,5.4 0 1,0 10.8,0a5.4,5.4 0 1,0 -10.8,0M1441.7,2887.7a5.4,5.4 0 1,0 10.8,0a5.4,5.4 0 1,0 -10.8,0M1441.8,2736.3a5.4,5.4 0 1,0 10.8,0a5.4,5.4 0 1,0 -10.8,0M1442.7,2760.4a5.4,5.4 0 1,0 10.8,0a5.4,5.4 0 1,0 -10.8,0M1443.8,2989.2a5.4,5.4 0 1,0 10.8,0a5.4,5.4 0 1,0 -10.8,0M1442.2,2735.7a5.4,5.4 0 1,0 10.8,0a5.4,5.4 0 1,0 -10.8,0M1443.3,3034.6a5.4,5.4 0 1,0 10.8,0a5.4,5.4 0 1,0 -10.8,0M1440.3,2921.5a5.4,5.4 0 1,0 10.8,0a5.4,5.4 0 1,0 -10.8,0M1440.1,2996.3a5.4,5.4 0 1,0 10.8,0a5.4,5.4 0 1,0 -10.8,0M1440.1,2837.2a5.4,5.4 0 1,0 10.8,0a5.4,5.4 0 1,0 -10.8,0M1443.1,2752.8a5.4,5.4 0 1,0 10.8,0a5.4,5.4 0 1,0 -10.8,0M1462.9,2959.7a5.4,5.4 0 1,0 10.8,0a5.4,5.4 0 1,0 -10.8,0M1463.3,2741.8a5.4,5.4 0 1,0 10.8,0a5.4,5.4 0 1,0 -10.8,0M1462.1,3037.6a5.4,5.4 0 1,0 10.8,0a5.4,5.4 0 1,0 -10.8,0M1463.2,2997.1a5.4,5.4 0 1,0 10.8,0a5.4,5.4 0 1,0 -10.8,0M1461.5,3025.6a5.4,5.4 0 1,0 10.8,0a5.4,5.4 0 1,0 -10.8,0M1461.2,3010.7a5.4,5.4 0 1,0 10.8,0a5.4,5.4 0 1,0 -10.8,0M1462.3,2972.4a5.4,5.4 0 1,0 10.8,0a5.4,5.4 0 1,0 -10.8,0M1464.2,2978.0a5.4,5.4 0 1,0 10.8,0a5.4,5.4 0 1,0 -10.8,0M1463.1,3019.5a5.4,5.4 0 1,0 10.8,0a5.4,5.4 0 1,0 -10.8,0M1462.5,3078.8a5.4,5.4 0 1,0 10.8,0a5.4,5.4 0 1,0 -10.8,0M1462.1,3079.8a5.4,5.4 0 1,0 10.8,0a5.4,5.4 0 1,0 -10.8,0M1464.1,2881.1a5.4,5.4 0 1,0 10.8,0a5.4,5.4 0 1,0 -10.8,0M1461.8,2909.4a5.4,5.4 0 1,0 10.8,0a5.4,5.4 0 1,0 -10.8,0M1465.0,3046.1a5.4,5.4 0 1,0 10.8,0a5.4,5.4 0 1,0 -10.8,0M1464.5,2925.2a5.4,5.4 0 1,0 10.8,0a5.4,5.4 0 1,0 -10.8,0M1463.1,2776.0a5.4,5.4 0 1,0 10.8,0a5.4,5.4 0 1,0 -10.8,0M1482.4,2762.9a5.4,5.4 0 1,0 10.8,0a5.4,5.4 0 1,0 -10.8,0M1486.0,2823.9a5.4,5.4 0 1,0 10.8,0a5.4,5.4 0 1,0 -10.8,0M1485.3,2769.7a5.4,5.4 0 1,0 10.8,0a5.4,5.4 0 1,0 -10.8,0M1482.8,2854.3a5.4,5.4 0 1,0 10.8,0a5.4,5.4 0 1,0 -10.8,0M1484.3,2763.0a5.4,5.4 0 1,0 10.8,0a5.4,5.4 0 1,0 -10.8,0M1485.6,2765.5a5.4,5.4 0 1,0 10.8,0a5.4,5.4 0 1,0 -10.8,0M1484.7,2746.1a5.4,5.4 0 1,0 10.8,0a5.4,5.4 0 1,0 -10.8,0M1485.1,2804.6a5.4,5.4 0 1,0 10.8,0a5.4,5.4 0 1,0 -10.8,0M1483.2,2998.7a5.4,5.4 0 1,0 10.8,0a5.4,5.4 0 1,0 -10.8,0M1482.8,2902.1a5.4,5.4 0 1,0 10.8,0a5.4,5.4 0 1,0 -10.8,0M1482.6,2762.8a5.4,5.4 0 1,0 10.8,0a5.4,5.4 0 1,0 -10.8,0M1484.6,2823.8a5.4,5.4 0 1,0 10.8,0a5.4,5.4 0 1,0 -10.8,0M1484.9,2808.3a5.4,5.4 0 1,0 10.8,0a5.4,5.4 0 1,0 -10.8,0M1484.3,3006.9a5.4,5.4 0 1,0 10.8,0a5.4,5.4 0 1,0 -10.8,0M1485.6,2788.4a5.4,5.4 0 1,0 10.8,0a5.4,5.4 0 1,0 -10.8,0M1484.3,2850.9a5.4,5.4 0 1,0 10.8,0a5.4,5.4 0 1,0 -10.8,0M1485.0,2988.5a5.4,5.4 0 1,0 10.8,0a5.4,5.4 0 1,0 -10.8,0M1501.7,2787.7a5.4,5.4 0 1,0 10.8,0a5.4,5.4 0 1,0 -10.8,0M1505.2,2972.7a5.4,5.4 0 1,0 10.8,0a5.4,5.4 0 1,0 -10.8,0M1505.6,2798.8a5.4,5.4 0 1,0 10.8,0a5.4,5.4 0 1,0 -10.8,0M1505.5,2922.9a5.4,5.4 0 1,0 10.8,0a5.4,5.4 0 1,0 -10.8,0M1503.2,2892.7a5.4,5.4 0 1,0 10.8,0a5.4,5.4 0 1,0 -10.8,0M1505.9,2835.1a5.4,5.4 0 1,0 10.8,0a5.4,5.4 0 1,0 -10.8,0M1503.2,2882.3a5.4,5.4 0 1,0 10.8,0a5.4,5.4 0 1,0 -10.8,0M1502.8,2993.7a5.4,5.4 0 1,0 10.8,0a5.4,5.4 0 1,0 -10.8,0M1502.1,2763.1a5.4,5.4 0 1,0 10.8,0a5.4,5.4 0 1,0 -10.8,0M1502.9,2733.5a5.4,5.4 0 1,0 10.8,0a5.4,5.4 0 1,0 -10.8,0M1502.7,2930.0a5.4,5.4 0 1,0 10.8,0a5.4,5.4 0 1,0 -10.8,0M1503.8,2952.2a5.4,5.4 0 1,0 10.8,0a5.4,5.4 0 1,0 -10.8,0M1503.2,2727.5a5.4,5.4 0 1,0 10.8,0a5.4,5.4 0 1,0 -10.8,0M1505.4,2769.8a5.4,5.4 0 1,0 10.8,0a5.4,5.4 0 1,0 -10.8,0M1504.3,2740.0a5.4,5.4 0 1,0 10.8,0a5.4,5.4 0 1,0 -10.8,0M1505.6,2846.8a5.4,5.4 0 1,0 10.8,0a5.4,5.4 0 1,0 -10.8,0M1504.7,2993.4a5.4,5.4 0 1,0 10.8,0a5.4,5.4 0 1,0 -10.8,0M1504.8,2875.7a5.4,5.4 0 1,0 10.8,0a5.4,5.4 0 1,0 -10.8,0M1521.5,2807.9a5.4,5.4 0 1,0 10.8,0a5.4,5.4 0 1,0 -10.8,0M1523.3,2796.2a5.4,5.4 0 1,0 10.8,0a5.4,5.4 0 1,0 -10.8,0M1522.1,2783.6a5.4,5.4 0 1,0 10.8,0a5.4,5.4 0 1,0 -10.8,0M1521.3,2846.1a5.4,5.4 0 1,0 10.8,0a5.4,5.4 0 1,0 -10.8,0M1519.5,2778.5a5.4,5.4 0 1,0 10.8,0a5.4,5.4 0 1,0 -10.8,0M1520.3,2738.1a5.4,5.4 0 1,0 10.8,0a5.4,5.4 0 1,0 -10.8,0M1522.1,2918.8a5.4,5.4 0 1,0 10.8,0a5.4,5.4 0 1,0 -10.8,0M1519.9,2934.0a5.4,5.4 0 1,0 10.8,0a5.4,5.4 0 1,0 -10.8,0M1522.0,2803.0a5.4,5.4 0 1,0 10.8,0a5.4,5.4 0 1,0 -10.8,0M1519.8,2987.2a5.4,5.4 0 1,0 10.8,0a5.4,5.4 0 1,0 -10.8,0M1521.5,2836.9a5.4,5.4 0 1,0 10.8,0a5.4,5.4 0 1,0 -10.8,0M1521.0,2942.3a5.4,5.4 0 1,0 10.8,0a5.4,5.4 0 1,0 -10.8,0M1521.9,3004.8a5.4,5.4 0 1,0 10.8,0a5.4,5.4 0 1,0 -10.8,0M1520.6,2872.8a5.4,5.4 0 1,0 10.8,0a5.4,5.4 0 1,0 -10.8,0M1523.4,2818.9a5.4,5.4 0 1,0 10.8,0a5.4,5.4 0 1,0 -10.8,0M1523.1,2868.5a5.4,5.4 0 1,0 10.8,0a5.4,5.4 0 1,0 -10.8,0M1520.3,2935.4a5.4,5.4 0 1,0 10.8,0a5.4,5.4 0 1,0 -10.8,0M1523.4,2801.2a5.4,5.4 0 1,0 10.8,0a5.4,5.4 0 1,0 -10.8,0M1520.6,3001.5a5.4,5.4 0 1,0 10.8,0a5.4,5.4 0 1,0 -10.8,0M1521.4,2810.1a5.4,5.4 0 1,0 10.8,0a5.4,5.4 0 1,0 -10.8,0M1539.1,2932.5a5.4,5.4 0 1,0 10.8,0a5.4,5.4 0 1,0 -10.8,0M1538.4,2744.4a5.4,5.4 0 1,0 10.8,0a5.4,5.4 0 1,0 -10.8,0M1536.7,2928.0a5.4,5.4 0 1,0 10.8,0a5.4,5.4 0 1,0 -10.8,0M1539.3,2826.9a5.4,5.4 0 1,0 10.8,0a5.4,5.4 0 1,0 -10.8,0M1536.3,2797.7a5.4,5.4 0 1,0 10.8,0a5.4,5.4 0 1,0 -10.8,0M1536.6,2927.0a5.4,5.4 0 1,0 10.8,0a5.4,5.4 0 1,0 -10.8,0M1535.2,2786.3a5.4,5.4 0 1,0 10.8,0a5.4,5.4 0 1,0 -10.8,0M1539.1,2822.0a5.4,5.4 0 1,0 10.8,0a5.4,5.4 0 1,0 -10.8,0M1539.2,3000.8a5.4,5.4 0 1,0 10.8,0a5.4,5.4 0 1,0 -10.8,0M1536.2,2868.5a5.4,5.4 0 1,0 10.8,0a5.4,5.4 0 1,0 -10.8,0M1539.3,2728.1a5.4,5.4 0 1,0 10.8,0a5.4,5.4 0 1,0 -10.8,0M1536.9,2934.3a5.4,5.4 0 1,0 10.8,0a5.4,5.4 0 1,0 -10.8,0M1537.1,2863.2a5.4,5.4 0 1,0 10.8,0a5.4,5.4 0 1,0 -10.8,0M1539.2,2954.2a5.4,5.4 0 1,0 10.8,0a5.4,5.4 0 1,0 -10.8,0M1538.6,2791.3a5.4,5.4 0 1,0 10.8,0a5.4,5.4 0 1,0 -10.8,0M1538.7,2781.2a5.4,5.4 0 1,0 10.8,0a5.4,5.4 0 1,0 -10.8,0M1537.8,2911.7a5.4,5.4 0 1,0 10.8,0a5.4,5.4 0 1,0 -10.8,0M1536.6,2901.8a5.4,5.4 0 1,0 10.8,0a5.4,5.4 0 1,0 -10.8,0M1538.5,2984.7a5.4,5.4 0 1,0 10.8,0a5.4,5.4 0 1,0 -10.8,0M1536.1,2787.1a5.4,5.4 0 1,0 10.8,0a5.4,5.4 0 1,0 -10.8,0M1536.3,2988.9a5.4,5.4 0 1,0 10.8,0a5.4,5.4 0 1,0 -10.8,0M1553.4,2976.9a5.4,5.4 0 1,0 10.8,0a5.4,5.4 0 1,0 -10.8,0M1551.9,2826.1a5.4,5.4 0 1,0 10.8,0a5.4,5.4 0 1,0 -10.8,0M1550.3,2899.8a5.4,5.4 0 1,0 10.8,0a5.4,5.4 0 1,0 -10.8,0M1550.0,2948.1a5.4,5.4 0 1,0 10.8,0a5.4,5.4 0 1,0 -10.8,0M1550.4,2832.1a5.4,5.4 0 1,0 10.8,0a5.4,5.4 0 1,0 -10.8,0M1552.1,2948.2a5.4,5.4 0 1,0 10.8,0a5.4,5.4 0 1,0 -10.8,0M1549.4,2911.9a5.4,5.4 0 1,0 10.8,0a5.4,5.4 0 1,0 -10.8,0M1552.2,2953.6a5.4,5.4 0 1,0 10.8,0a5.4,5.4 0 1,0 -10.8,0M1550.7,2948.2a5.4,5.4 0 1,0 10.8,0a5.4,5.4 0 1,0 -10.8,0M1552.7,2847.2a5.4,5.4 0 1,0 10.8,0a5.4,5.4 0 1,0 -10.8,0M1566.8,2942.8a5.4,5.4 0 1,0 10.8,0a5.4,5.4 0 1,0 -10.8,0M1565.2,2759.7a5.4,5.4 0 1,0 10.8,0a5.4,5.4 0 1,0 -10.8,0M1567.0,2954.2a5.4,5.4 0 1,0 10.8,0a5.4,5.4 0 1,0 -10.8,0M1564.4,2890.6a5.4,5.4 0 1,0 10.8,0a5.4,5.4 0 1,0 -10.8,0M1565.7,2895.4a5.4,5.4 0 1,0 10.8,0a5.4,5.4 0 1,0 -10.8,0M1564.0,2935.4a5.4,5.4 0 1,0 10.8,0a5.4,5.4 0 1,0 -10.8,0M1566.6,2744.7a5.4,5.4 0 1,0 10.8,0a5.4,5.4 0 1,0 -10.8,0M1563.7,2843.0a5.4,5.4 0 1,0 10.8,0a5.4,5.4 0 1,0 -10.8,0M1566.7,2996.7a5.4,5.4 0 1,0 10.8,0a5.4,5.4 0 1,0 -10.8,0M1567.1,2973.4a5.4,5.4 0 1,0 10.8,0a5.4,5.4 0 1,0 -10.8,0M1579.8,2914.3a5.4,5.4 0 1,0 10.8,0a5.4,5.4 0 1,0 -10.8,0M1577.8,2954.5a5.4,5.4 0 1,0 10.8,0a5.4,5.4 0 1,0 -10.8,0M1578.3,2733.3a5.4,5.4 0 1,0 10.8,0a5.4,5.4 0 1,0 -10.8,0M1580.5,2745.3a5.4,5.4 0 1,0 10.8,0a5.4,5.4 0 1,0 -10.8,0M1578.4,2777.7a5.4,5.4 0 1,0 10.8,0a5.4,5.4 0 1,0 -10.8,0M1578.1,2852.2a5.4,5.4 0 1,0 10.8,0a5.4,5.4 0 1,0 -10.8,0M1580.3,2902.4a5.4,5.4 0 1,0 10.8,0a5.4,5.4 0 1,0 -10.8,0M1581.3,2845.1a5.4,5.4 0 1,0 10.8,0a5.4,5.4 0 1,0 -10.8,0M1580.1,2749.1a5.4,5.4 0 1,0 10.8,0a5.4,5.4 0 1,0 -10.8,0M1578.1,2716.7a5.4,5.4 0 1,0 10.8,0a5.4,5.4 0 1,0 -10.8,0M1591.7,2938.2a5.4,5.4 0 1,0 10.8,0a5.4,5.4 0 1,0 -10.8,0M1590.3,2779.5a5.4,5.4 0 1,0 10.8,0a5.4,5.4 0 1,0 -10.8,0M1590.1,2846.3a5.4,5.4 0 1,0 10.8,0a5.4,5.4 0 1,0 -10.8,0M1594.0,2966.2a5.4,5.4 0 1,0 10.8,0a5.4,5.4 0 1,0 -10.8,0M1590.9,2829.6a5.4,5.4 0 1,0 10.8,0a5.4,5.4 0 1,0 -10.8,0M1592.2,2819.7a5.4,5.4 0 1,0 10.8,0a5.4,5.4 0 1,0 -10.8,0M1593.5,2956.7a5.4,5.4 0 1,0 10.8,0a5.4,5.4 0 1,0 -10.8,0M1591.3,2919.8a5.4,5.4 0 1,0 10.8,0a5.4,5.4 0 1,0 -10.8,0M1590.2,2747.1a5.4,5.4 0 1,0 10.8,0a5.4,5.4 0 1,0 -10.8,0M1593.3,2798.1a5.4,5.4 0 1,0 10.8,0a5.4,5.4 0 1,0 -10.8,0M1604.4,2834.7a5.4,5.4 0 1,0 10.8,0a5.4,5.4 0 1,0 -10.8,0M1605.7,2768.1a5.4,5.4 0 1,0 10.8,0a5.4,5.4 0 1,0 -10.8,0M1607.6,2746.5a5.4,5.4 0 1,0 10.8,0a5.4,5.4 0 1,0 -10.8,0M1604.4,2753.4a5.4,5.4 0 1,0 10.8,0a5.4,5.4 0 1,0 -10.8,0M1608.0,2731.0a5.4,5.4 0 1,0 10.8,0a5.4,5.4 0 1,0 -10.8,0M1604.6,2947.5a5.4,5.4 0 1,0 10.8,0a5.4,5.4 0 1,0 -10.8,0M1604.6,2997.8a5.4,5.4 0 1,0 10.8,0a5.4,5.4 0 1,0 -10.8,0M1607.8,2769.8a5.4,5.4 0 1,0 10.8,0a5.4,5.4 0 1,0 -10.8,0M1606.8,2765.9a5.4,5.4 0 1,0 10.8,0a5.4,5.4 0 1,0 -10.8,0M1606.8,2923.6a5.4,5.4 0 1,0 10.8,0a5.4,5.4 0 1,0 -10.8,0M1681.5,2840.9a5.4,5.4 0 1,0 10.8,0a5.4,5.4 0 1,0 -10.8,0M1759.1,2764.9a5.4,5.4 0 1,0 10.8,0a5.4,5.4 0 1,0 -10.8,0M1634.2,2832.0a5.4,5.4 0 1,0 10.8,0a5.4,5.4 0 1,0 -10.8,0M1714.1,2908.8a5.4,5.4 0 1,0 10.8,0a5.4,5.4 0 1,0 -10.8,0M1577.1,2880.8a5.4,5.4 0 1,0 10.8,0a5.4,5.4 0 1,0 -10.8,0M1676.7,2921.3a5.4,5.4 0 1,0 10.8,0a5.4,5.4 0 1,0 -10.8,0M1648.1,2938.0a5.4,5.4 0 1,0 10.8,0a5.4,5.4 0 1,0 -10.8,0M1760.3,2799.9a5.4,5.4 0 1,0 10.8,0a5.4,5.4 0 1,0 -10.8,0M1627.6,2910.8a5.4,5.4 0 1,0 10.8,0a5.4,5.4 0 1,0 -10.8,0M1706.1,2858.2a5.4,5.4 0 1,0 10.8,0a5.4,5.4 0 1,0 -10.8,0M1645.0,2744.5a5.4,5.4 0 1,0 10.8,0a5.4,5.4 0 1,0 -10.8,0M1600.5,2827.6a5.4,5.4 0 1,0 10.8,0a5.4,5.4 0 1,0 -10.8,0M1654.7,2762.4a5.4,5.4 0 1,0 10.8,0a5.4,5.4 0 1,0 -10.8,0M1715.4,2776.6a5.4,5.4 0 1,0 10.8,0a5.4,5.4 0 1,0 -10.8,0M1608.2,2800.9a5.4,5.4 0 1,0 10.8,0a5.4,5.4 0 1,0 -10.8,0M1729.6,2854.0a5.4,5.4 0 1,0 10.8,0a5.4,5.4 0 1,0 -10.8,0M1777.0,2758.3a5.4,5.4 0 1,0 10.8,0a5.4,5.4 0 1,0 -10.8,0M1592.7,2898.5a5.4,5.4 0 1,0 10.8,0a5.4,5.4 0 1,0 -10.8,0M1662.3,2920.0a5.4,5.4 0 1,0 10.8,0a5.4,5.4 0 1,0 -10.8,0M1577.4,2900.7a5.4,5.4 0 1,0 10.8,0a5.4,5.4 0 1,0 -10.8,0M1616.1,2791.8a5.4,5.4 0 1,0 10.8,0a5.4,5.4 0 1,0 -10.8,0M1687.0,2944.1a5.4,5.4 0 1,0 10.8,0a5.4,5.4 0 1,0 -10.8,0M1652.1,2852.1a5.4,5.4 0 1,0 10.8,0a5.4,5.4 0 1,0 -10.8,0M1663.0,2929.9a5.4,5.4 0 1,0 10.8,0a5.4,5.4 0 1,0 -10.8,0M1580.6,2970.6a5.4,5.4 0 1,0 10.8,0a5.4,5.4 0 1,0 -10.8,0M1584.1,2787.8a5.4,5.4 0 1,0 10.8,0a5.4,5.4 0 1,0 -10.8,0M1591.1,2846.9a5.4,5.4 0 1,0 10.8,0a5.4,5.4 0 1,0 -10.8,0M1683.1,2924.3a5.4,5.4 0 1,0 10.8,0a5.4,5.4 0 1,0 -10.8,0M1737.9,2731.4a5.4,5.4 0 1,0 10.8,0a5.4,5.4 0 1,0 -10.8,0M1629.9,2937.5a5.4,5.4 0 1,0 10.8,0a5.4,5.4 0 1,0 -10.8,0M1568.1,2773.0a5.4,5.4 0 1,0 10.8,0a5.4,5.4 0 1,0 -10.8,0M1612.9,2808.3a5.4,5.4 0 1,0 10.8,0a5.4,5.4 0 1,0 -10.8,0M1799.5,2733.6a5.4,5.4 0 1,0 10.8,0a5.4,5.4 0 1,0 -10.8,0M1608.0,2770.4a5.4,5.4 0 1,0 10.8,0a5.4,5.4 0 1,0 -10.8,0M1795.2,2781.3a5.4,5.4 0 1,0 10.8,0a5.4,5.4 0 1,0 -10.8,0M1652.7,2925.6a5.4,5.4 0 1,0 10.8,0a5.4,5.4 0 1,0 -10.8,0M1664.5,2830.8a5.4,5.4 0 1,0 10.8,0a5.4,5.4 0 1,0 -10.8,0M1664.8,2758.3a5.4,5.4 0 1,0 10.8,0a5.4,5.4 0 1,0 -10.8,0M1628.0,2962.7a5.4,5.4 0 1,0 10.8,0a5.4,5.4 0 1,0 -10.8,0M1720.6,2810.8a5.4,5.4 0 1,0 10.8,0a5.4,5.4 0 1,0 -10.8,0M1792.1,2790.8a5.4,5.4 0 1,0 10.8,0a5.4,5.4 0 1,0 -10.8,0M1816.3,2728.9a5.4,5.4 0 1,0 10.8,0a5.4,5.4 0 1,0 -10.8,0M1700.1,2844.1a5.4,5.4 0 1,0 10.8,0a5.4,5.4 0 1,0 -10.8,0M1604.9,2895.9a5.4,5.4 0 1,0 10.8,0a5.4,5.4 0 1,0 -10.8,0M1685.7,2722.4a5.4,5.4 0 1,0 10.8,0a5.4,5.4 0 1,0 -10.8,0M1585.7,2963.0a5.4,5.4 0 1,0 10.8,0a5.4,5.4 0 1,0 -10.8,0M1684.6,2924.0a5.4,5.4 0 1,0 10.8,0a5.4,5.4 0 1,0 -10.8,0M1798.1,2752.1a5.4,5.4 0 1,0 10.8,0a5.4,5.4 0 1,0 -10.8,0M1640.4,2802.2a5.4,5.4 0 1,0 10.8,0a5.4,5.4 0 1,0 -10.8,0M1705.9,2864.4a5.4,5.4 0 1,0 10.8,0a5.4,5.4 0 1,0 -10.8,0M1656.1,2859.9a5.4,5.4 0 1,0 10.8,0a5.4,5.4 0 1,0 -10.8,0M1748.7,2759.6a5.4,5.4 0 1,0 10.8,0a5.4,5.4 0 1,0 -10.8,0M1644.0,2858.7a5.4,5.4 0 1,0 10.8,0a5.4,5.4 0 1,0 -10.8,0M1719.6,2883.3a5.4,5.4 0 1,0 10.8,0a5.4,5.4 0 1,0 -10.8,0M1615.6,2951.4a5.4,5.4 0 1,0 10.8,0a5.4,5.4 0 1,0 -10.8,0M1651.9,2854.2a5.4,5.4 0 1,0 10.8,0a5.4,5.4 0 1,0 -10.8,0M1805.1,2721.3a5.4,5.4 0 1,0 10.8,0a5.4,5.4 0 1,0 -10.8,0M1751.6,2815.8a5.4,5.4 0 1,0 10.8,0a5.4,5.4 0 1,0 -10.8,0M1644.3,2825.6a5.4,5.4 0 1,0 10.8,0a5.4,5.4 0 1,0 -10.8,0M1657.4,2744.4a5.4,5.4 0 1,0 10.8,0a5.4,5.4 0 1,0 -10.8,0M1568.2,2924.5a5.4,5.4 0 1,0 10.8,0a5.4,5.4 0 1,0 -10.8,0M1752.3,2857.6a5.4,5.4 0 1,0 10.8,0a5.4,5.4 0 1,0 -10.8,0M1584.4,2802.5a5.4,5.4 0 1,0 10.8,0a5.4,5.4 0 1,0 -10.8,0M1665.5,2823.1a5.4,5.4 0 1,0 10.8,0a5.4,5.4 0 1,0 -10.8,0M1678.1,2836.2a5.4,5.4 0 1,0 10.8,0a5.4,5.4 0 1,0 -10.8,0M1720.1,2870.8a5.4,5.4 0 1,0 10.8,0a5.4,5.4 0 1,0 -10.8,0M1592.6,2926.7a5.4,5.4 0 1,0 10.8,0a5.4,5.4 0 1,0 -10.8,0M1592.1,2750.3a5.4,5.4 0 1,0 10.8,0a5.4,5.4 0 1,0 -10.8,0M1632.0,2948.8a5.4,5.4 0 1,0 10.8,0a5.4,5.4 0 1,0 -10.8,0M1710.4,2908.3a5.4,5.4 0 1,0 10.8,0a5.4,5.4 0 1,0 -10.8,0M1698.7,2830.0a5.4,5.4 0 1,0 10.8,0a5.4,5.4 0 1,0 -10.8,0M1624.4,2825.2a5.4,5.4 0 1,0 10.8,0a5.4,5.4 0 1,0 -10.8,0M1592.3,2840.6a5.4,5.4 0 1,0 10.8,0a5.4,5.4 0 1,0 -10.8,0M1675.7,2954.4a5.4,5.4 0 1,0 10.8,0a5.4,5.4 0 1,0 -10.8,0M1684.6,2750.0a5.4,5.4 0 1,0 10.8,0a5.4,5.4 0 1,0 -10.8,0M1716.0,2788.5a5.4,5.4 0 1,0 10.8,0a5.4,5.4 0 1,0 -10.8,0M1589.2,2758.6a5.4,5.4 0 1,0 10.8,0a5.4,5.4 0 1,0 -10.8,0M1671.2,2929.1a5.4,5.4 0 1,0 10.8,0a5.4,5.4 0 1,0 -10.8,0M1627.3,2877.0a5.4,5.4 0 1,0 10.8,0a5.4,5.4 0 1,0 -10.8,0M1564.6,2819.6a5.4,5.4 0 1,0 10.8,0a5.4,5.4 0 1,0 -10.8,0M1620.6,2895.8a5.4,5.4 0 1,0 10.8,0a5.4,5.4 0 1,0 -10.8,0M1819.8,2748.1a5.4,5.4 0 1,0 10.8,0a5.4,5.4 0 1,0 -10.8,0M1607.8,2780.5a5.4,5.4 0 1,0 10.8,0a5.4,5.4 0 1,0 -10.8,0M1656.9,2775.8a5.4,5.4 0 1,0 10.8,0a5.4,5.4 0 1,0 -10.8,0M1752.8,2759.7a5.4,5.4 0 1,0 10.8,0a5.4,5.4 0 1,0 -10.8,0M1595.0,2876.9a5.4,5.4 0 1,0 10.8,0a5.4,5.4 0 1,0 -10.8,0M1768.8,2728.1a5.4,5.4 0 1,0 10.8,0a5.4,5.4 0 1,0 -10.8,0M1715.5,2765.6a5.4,5.4 0 1,0 10.8,0a5.4,5.4 0 1,0 -10.8,0M1592.3,2733.9a5.4,5.4 0 1,0 10.8,0a5.4,5.4 0 1,0 -10.8,0M1614.9,2857.8a5.4,5.4 0 1,0 10.8,0a5.4,5.4 0 1,0 -10.8,0M1592.4,2968.0a5.4,5.4 0 1,0 10.8,0a5.4,5.4 0 1,0 -10.8,0M1591.6,2766.2a5.4,5.4 0 1,0 10.8,0a5.4,5.4 0 1,0 -10.8,0M1612.7,2830.0a5.4,5.4 0 1,0 10.8,0a5.4,5.4 0 1,0 -10.8,0M1642.3,2795.6a5.4,5.4 0 1,0 10.8,0a5.4,5.4 0 1,0 -10.8,0M1668.0,2936.1a5.4,5.4 0 1,0 10.8,0a5.4,5.4 0 1,0 -10.8,0M1755.3,2764.3a5.4,5.4 0 1,0 10.8,0a5.4,5.4 0 1,0 -10.8,0M1657.1,2934.3a5.4,5.4 0 1,0 10.8,0a5.4,5.4 0 1,0 -10.8,0M1702.2,2747.5a5.4,5.4 0 1,0 10.8,0a5.4,5.4 0 1,0 -10.8,0M1611.9,2761.6a5.4,5.4 0 1,0 10.8,0a5.4,5.4 0 1,0 -10.8,0M1694.9,2932.4a5.4,5.4 0 1,0 10.8,0a5.4,5.4 0 1,0 -10.8,0M1581.8,2888.2a5.4,5.4 0 1,0 10.8,0a5.4,5.4 0 1,0 -10.8,0M1621.5,2742.1a5.4,5.4 0 1,0 10.8,0a5.4,5.4 0 1,0 -10.8,0M1608.3,2880.0a5.4,5.4 0 1,0 10.8,0a5.4,5.4 0 1,0 -10.8,0M1692.6,2824.1a5.4,5.4 0 1,0 10.8,0a5.4,5.4 0 1,0 -10.8,0M1670.0,2881.9a5.4,5.4 0 1,0 10.8,0a5.4,5.4 0 1,0 -10.8,0M1562.0,2823.5a5.4,5.4 0 1,0 10.8,0a5.4,5.4 0 1,0 -10.8,0M1654.7,2968.1a5.4,5.4 0 1,0 10.8,0a5.4,5.4 0 1,0 -10.8,0M1690.2,2718.1a5.4,5.4 0 1,0 10.8,0a5.4,5.4 0 1,0 -10.8,0M1573.2,2935.6a5.4,5.4 0 1,0 10.8,0a5.4,5.4 0 1,0 -10.8,0M1637.6,2844.0a5.4,5.4 0 1,0 10.8,0a5.4,5.4 0 1,0 -10.8,0M1634.4,2826.2a5.4,5.4 0 1,0 10.8,0a5.4,5.4 0 1,0 -10.8,0M1709.7,2725.8a5.4,5.4 0 1,0 10.8,0a5.4,5.4 0 1,0 -10.8,0M1718.9,2773.9a5.4,5.4 0 1,0 10.8,0a5.4,5.4 0 1,0 -10.8,0M1807.0,2773.0a5.4,5.4 0 1,0 10.8,0a5.4,5.4 0 1,0 -10.8,0M1739.4,2809.2a5.4,5.4 0 1,0 10.8,0a5.4,5.4 0 1,0 -10.8,0M1663.0,2900.5a5.4,5.4 0 1,0 10.8,0a5.4,5.4 0 1,0 -10.8,0M1785.2,2747.5a5.4,5.4 0 1,0 10.8,0a5.4,5.4 0 1,0 -10.8,0M1646.3,2775.9a5.4,5.4 0 1,0 10.8,0a5.4,5.4 0 1,0 -10.8,0M1740.0,2882.7a5.4,5.4 0 1,0 10.8,0a5.4,5.4 0 1,0 -10.8,0M1716.1,2868.3a5.4,5.4 0 1,0 10.8,0a5.4,5.4 0 1,0 -10.8,0M1577.4,2886.1a5.4,5.4 0 1,0 10.8,0a5.4,5.4 0 1,0 -10.8,0M1651.7,2717.6a5.4,5.4 0 1,0 10.8,0a5.4,5.4 0 1,0 -10.8,0M1696.5,2878.3a5.4,5.4 0 1,0 10.8,0a5.4,5.4 0 1,0 -10.8,0M1629.2,2912.6a5.4,5.4 0 1,0 10.8,0a5.4,5.4 0 1,0 -10.8,0M1659.1,2938.3a5.4,5.4 0 1,0 10.8,0a5.4,5.4 0 1,0 -10.8,0M1562.4,2748.0a5.4,5.4 0 1,0 10.8,0a5.4,5.4 0 1,0 -10.8,0M1688.5,2858.1a5.4,5.4 0 1,0 10.8,0a5.4,5.4 0 1,0 -10.8,0M1721.2,2895.1a5.4,5.4 0 1,0 10.8,0a5.4,5.4 0 1,0 -10.8,0M1608.1,2956.2a5.4,5.4 0 1,0 10.8,0a5.4,5.4 0 1,0 -10.8,0M1645.6,2893.6a5.4,5.4 0 1,0 10.8,0a5.4,5.4 0 1,0 -10.8,0M1765.8,2830.7a5.4,5.4 0 1,0 10.8,0a5.4,5.4 0 1,0 -10.8,0M1583.0,2927.1a5.4,5.4 0 1,0 10.8,0a5.4,5.4 0 1,0 -10.8,0M1724.5,2717.9a5.4,5.4 0 1,0 10.8,0a5.4,5.4 0 1,0 -10.8,0M1661.3,2773.0a5.4,5.4 0 1,0 10.8,0a5.4,5.4 0 1,0 -10.8,0M1681.4,2748.7a5.4,5.4 0 1,0 10.8,0a5.4,5.4 0 1,0 -10.8,0M1579.5,2848.0a5.4,5.4 0 1,0 10.8,0a5.4,5.4 0 1,0 -10.8,0M1633.2,2967.4a5.4,5.4 0 1,0 10.8,0a5.4,5.4 0 1,0 -10.8,0M1606.9,2904.0a5.4,5.4 0 1,0 10.8,0a5.4,5.4 0 1,0 -10.8,0M1673.3,2921.5a5.4,5.4 0 1,0 10.8,0a5.4,5.4 0 1,0 -10.8,0M1730.8,2749.8a5.4,5.4 0 1,0 10.8,0a5.4,5.4 0 1,0 -10.8,0M1767.9,2724.2a5.4,5.4 0 1,0 10.8,0a5.4,5.4 0 1,0 -10.8,0M1789.2,2746.8a5.4,5.4 0 1,0 10.8,0a5.4,5.4 0 1,0 -10.8,0M1656.8,2938.0a5.4,5.4 0 1,0 10.8,0a5.4,5.4 0 1,0 -10.8,0M1613.5,2834.4a5.4,5.4 0 1,0 10.8,0a5.4,5.4 0 1,0 -10.8,0M1652.7,2779.5a5.4,5.4 0 1,0 10.8,0a5.4,5.4 0 1,0 -10.8,0M1743.8,2868.5a5.4,5.4 0 1,0 10.8,0a5.4,5.4 0 1,0 -10.8,0M1576.6,2866.2a5.4,5.4 0 1,0 10.8,0a5.4,5.4 0 1,0 -10.8,0M1573.2,2811.3a5.4,5.4 0 1,0 10.8,0a5.4,5.4 0 1,0 -10.8,0M1654.9,2845.5a5.4,5.4 0 1,0 10.8,0a5.4,5.4 0 1,0 -10.8,0M1729.4,2906.9a5.4,5.4 0 1,0 10.8,0a5.4,5.4 0 1,0 -10.8,0M1691.4,2969.9a5.4,5.4 0 1,0 10.8,0a5.4,5.4 0 1,0 -10.8,0M1734.0,2786.0a5.4,5.4 0 1,0 10.8,0a5.4,5.4 0 1,0 -10.8,0M1653.4,2949.2a5.4,5.4 0 1,0 10.8,0a5.4,5.4 0 1,0 -10.8,0M1604.5,2936.5a5.4,5.4 0 1,0 10.8,0a5.4,5.4 0 1,0 -10.8,0M1712.7,2821.1a5.4,5.4 0 1,0 10.8,0a5.4,5.4 0 1,0 -10.8,0M1717.3,2803.3a5.4,5.4 0 1,0 10.8,0a5.4,5.4 0 1,0 -10.8,0M1730.4,2887.8a5.4,5.4 0 1,0 10.8,0a5.4,5.4 0 1,0 -10.8,0M1761.5,2775.9a5.4,5.4 0 1,0 10.8,0a5.4,5.4 0 1,0 -10.8,0M1778.8,2720.5a5.4,5.4 0 1,0 10.8,0a5.4,5.4 0 1,0 -10.8,0M1688.5,2901.4a5.4,5.4 0 1,0 10.8,0a5.4,5.4 0 1,0 -10.8,0M1708.3,2729.9a5.4,5.4 0 1,0 10.8,0a5.4,5.4 0 1,0 -10.8,0M1597.6,2971.0a5.4,5.4 0 1,0 10.8,0a5.4,5.4 0 1,0 -10.8,0M1694.9,2803.8a5.4,5.4 0 1,0 10.8,0a5.4,5.4 0 1,0 -10.8,0M1568.2,2938.7a5.4,5.4 0 1,0 10.8,0a5.4,5.4 0 1,0 -10.8,0M1577.3,2843.5a5.4,5.4 0 1,0 10.8,0a5.4,5.4 0 1,0 -10.8,0M1717.3,2926.3a5.4,5.4 0 1,0 10.8,0a5.4,5.4 0 1,0 -10.8,0M1602.6,2927.5a5.4,5.4 0 1,0 10.8,0a5.4,5.4 0 1,0 -10.8,0M1769.0,2734.9a5.4,5.4 0 1,0 10.8,0a5.4,5.4 0 1,0 -10.8,0M1606.2,2965.9a5.4,5.4 0 1,0 10.8,0a5.4,5.4 0 1,0 -10.8,0M1740.2,2884.3a5.4,5.4 0 1,0 10.8,0a5.4,5.4 0 1,0 -10.8,0M1651.9,2739.6a5.4,5.4 0 1,0 10.8,0a5.4,5.4 0 1,0 -10.8,0M1590.8,2783.6a5.4,5.4 0 1,0 10.8,0a5.4,5.4 0 1,0 -10.8,0M1578.8,2806.4a5.4,5.4 0 1,0 10.8,0a5.4,5.4 0 1,0 -10.8,0M1674.0,2749.8a5.4,5.4 0 1,0 10.8,0a5.4,5.4 0 1,0 -10.8,0M1577.3,2827.4a5.4,5.4 0 1,0 10.8,0a5.4,5.4 0 1,0 -10.8,0M1676.3,2735.6a5.4,5.4 0 1,0 10.8,0a5.4,5.4 0 1,0 -10.8,0M1623.7,2908.2a5.4,5.4 0 1,0 10.8,0a5.4,5.4 0 1,0 -10.8,0M1634.5,2861.1a5.4,5.4 0 1,0 10.8,0a5.4,5.4 0 1,0 -10.8,0M1625.8,2920.8a5.4,5.4 0 1,0 10.8,0a5.4,5.4 0 1,0 -10.8,0M1775.0,2807.1a5.4,5.4 0 1,0 10.8,0a5.4,5.4 0 1,0 -10.8,0M1644.7,2716.1a5.4,5.4 0 1,0 10.8,0a5.4,5.4 0 1,0 -10.8,0M1621.6,2826.0a5.4,5.4 0 1,0 10.8,0a5.4,5.4 0 1,0 -10.8,0M1604.6,2750.1a5.4,5.4 0 1,0 10.8,0a5.4,5.4 0 1,0 -10.8,0M1772.9,2760.5a5.4,5.4 0 1,0 10.8,0a5.4,5.4 0 1,0 -10.8,0M1640.2,2887.6a5.4,5.4 0 1,0 10.8,0a5.4,5.4 0 1,0 -10.8,0M1697.6,2742.8a5.4,5.4 0 1,0 10.8,0a5.4,5.4 0 1,0 -10.8,0M1606.0,2796.7a5.4,5.4 0 1,0 10.8,0a5.4,5.4 0 1,0 -10.8,0M1729.3,2856.1a5.4,5.4 0 1,0 10.8,0a5.4,5.4 0 1,0 -10.8,0M1724.1,2744.9a5.4,5.4 0 1,0 10.8,0a5.4,5.4 0 1,0 -10.8,0M1619.7,2744.8a5.4,5.4 0 1,0 10.8,0a5.4,5.4 0 1,0 -10.8,0M1662.2,2771.6a5.4,5.4 0 1,0 10.8,0a5.4,5.4 0 1,0 -10.8,0M1804.7,2716.0a5.4,5.4 0 1,0 10.8,0a5.4,5.4 0 1,0 -10.8,0M1644.5,2967.1a5.4,5.4 0 1,0 10.8,0a5.4,5.4 0 1,0 -10.8,0M1591.9,2721.3a5.4,5.4 0 1,0 10.8,0a5.4,5.4 0 1,0 -10.8,0M1563.0,2737.5a5.4,5.4 0 1,0 10.8,0a5.4,5.4 0 1,0 -10.8,0M1603.0,2782.9a5.4,5.4 0 1,0 10.8,0a5.4,5.4 0 1,0 -10.8,0M1587.9,2929.7a5.4,5.4 0 1,0 10.8,0a5.4,5.4 0 1,0 -10.8,0M1656.3,2735.7a5.4,5.4 0 1,0 10.8,0a5.4,5.4 0 1,0 -10.8,0M1762.9,2745.2a5.4,5.4 0 1,0 10.8,0a5.4,5.4 0 1,0 -10.8,0M1626.7,2768.4a5.4,5.4 0 1,0 10.8,0a5.4,5.4 0 1,0 -10.8,0M1703.1,2913.4a5.4,5.4 0 1,0 10.8,0a5.4,5.4 0 1,0 -10.8,0M1682.1,2946.2a5.4,5.4 0 1,0 10.8,0a5.4,5.4 0 1,0 -10.8,0M1566.0,2717.0a5.4,5.4 0 1,0 10.8,0a5.4,5.4 0 1,0 -10.8,0M1649.8,2746.0a5.4,5.4 0 1,0 10.8,0a5.4,5.4 0 1,0 -10.8,0M1594.4,2847.3a5.4,5.4 0 1,0 10.8,0a5.4,5.4 0 1,0 -10.8,0M1598.7,2862.5a5.4,5.4 0 1,0 10.8,0a5.4,5.4 0 1,0 -10.8,0M1610.9,2796.0a5.4,5.4 0 1,0 10.8,0a5.4,5.4 0 1,0 -10.8,0M1602.2,2782.4a5.4,5.4 0 1,0 10.8,0a5.4,5.4 0 1,0 -10.8,0M1701.9,2944.3a5.4,5.4 0 1,0 10.8,0a5.4,5.4 0 1,0 -10.8,0M1660.3,2845.0a5.4,5.4 0 1,0 10.8,0a5.4,5.4 0 1,0 -10.8,0M1621.2,2723.0a5.4,5.4 0 1,0 10.8,0a5.4,5.4 0 1,0 -10.8,0M1637.5,2927.5a5.4,5.4 0 1,0 10.8,0a5.4,5.4 0 1,0 -10.8,0M1635.2,2955.5a5.4,5.4 0 1,0 10.8,0a5.4,5.4 0 1,0 -10.8,0M1572.5,2841.7a5.4,5.4 0 1,0 10.8,0a5.4,5.4 0 1,0 -10.8,0M1675.7,2829.3a5.4,5.4 0 1,0 10.8,0a5.4,5.4 0 1,0 -10.8,0M1662.9,2970.6a5.4,5.4 0 1,0 10.8,0a5.4,5.4 0 1,0 -10.8,0M1754.9,2804.4a5.4,5.4 0 1,0 10.8,0a5.4,5.4 0 1,0 -10.8,0M1714.2,2831.4a5.4,5.4 0 1,0 10.8,0a5.4,5.4 0 1,0 -10.8,0M1755.5,2719.2a5.4,5.4 0 1,0 10.8,0a5.4,5.4 0 1,0 -10.8,0M1673.2,2891.0a5.4,5.4 0 1,0 10.8,0a5.4,5.4 0 1,0 -10.8,0M1678.9,2721.6a5.4,5.4 0 1,0 10.8,0a5.4,5.4 0 1,0 -10.8,0M1669.8,2873.6a5.4,5.4 0 1,0 10.8,0a5.4,5.4 0 1,0 -10.8,0M1676.3,2936.4a5.4,5.4 0 1,0 10.8,0a5.4,5.4 0 1,0 -10.8,0M1732.2,2733.7a5.4,5.4 0 1,0 10.8,0a5.4,5.4 0 1,0 -10.8,0M1632.3,2815.3a5.4,5.4 0 1,0 10.8,0a5.4,5.4 0 1,0 -10.8,0M1666.9,2911.1a5.4,5.4 0 1,0 10.8,0a5.4,5.4 0 1,0 -10.8,0M1616.4,2943.3a5.4,5.4 0 1,0 10.8,0a5.4,5.4 0 1,0 -10.8,0M1798.7,2770.5a5.4,5.4 0 1,0 10.8,0a5.4,5.4 0 1,0 -10.8,0M1743.1,2831.3a5.4,5.4 0 1,0 10.8,0a5.4,5.4 0 1,0 -10.8,0M1649.6,2722.0a5.4,5.4 0 1,0 10.8,0a5.4,5.4 0 1,0 -10.8,0M1560.6,2780.3a5.4,5.4 0 1,0 10.8,0a5.4,5.4 0 1,0 -10.8,0M1727.8,2716.0a5.4,5.4 0 1,0 10.8,0a5.4,5.4 0 1,0 -10.8,0M1626.6,2810.5a5.4,5.4 0 1,0 10.8,0a5.4,5.4 0 1,0 -10.8,0M1709.2,2814.8a5.4,5.4 0 1,0 10.8,0a5.4,5.4 0 1,0 -10.8,0M1738.2,2832.9a5.4,5.4 0 1,0 10.8,0a5.4,5.4 0 1,0 -10.8,0M1623.5,2814.9a5.4,5.4 0 1,0 10.8,0a5.4,5.4 0 1,0 -10.8,0M1635.2,2738.2a5.4,5.4 0 1,0 10.8,0a5.4,5.4 0 1,0 -10.8,0M1694.2,2786.7a5.4,5.4 0 1,0 10.8,0a5.4,5.4 0 1,0 -10.8,0M1708.0,2850.1a5.4,5.4 0 1,0 10.8,0a5.4,5.4 0 1,0 -10.8,0M1622.9,2936.6a5.4,5.4 0 1,0 10.8,0a5.4,5.4 0 1,0 -10.8,0M1708.5,2836.9a5.4,5.4 0 1,0 10.8,0a5.4,5.4 0 1,0 -10.8,0M1609.1,2760.7a5.4,5.4 0 1,0 10.8,0a5.4,5.4 0 1,0 -10.8,0M1690.5,2807.6a5.4,5.4 0 1,0 10.8,0a5.4,5.4 0 1,0 -10.8,0M1794.3,2742.0a5.4,5.4 0 1,0 10.8,0a5.4,5.4 0 1,0 -10.8,0M1668.1,2758.1a5.4,5.4 0 1,0 10.8,0a5.4,5.4 0 1,0 -10.8,0M1603.8,2908.3a5.4,5.4 0 1,0 10.8,0a5.4,5.4 0 1,0 -10.8,0M1589.4,2881.1a5.4,5.4 0 1,0 10.8,0a5.4,5.4 0 1,0 -10.8,0M1688.4,2950.6a5.4,5.4 0 1,0 10.8,0a5.4,5.4 0 1,0 -10.8,0M1672.2,2715.4a5.4,5.4 0 1,0 10.8,0a5.4,5.4 0 1,0 -10.8,0M1756.9,2857.1a5.4,5.4 0 1,0 10.8,0a5.4,5.4 0 1,0 -10.8,0M1695.6,2766.8a5.4,5.4 0 1,0 10.8,0a5.4,5.4 0 1,0 -10.8,0M1707.6,2911.9a5.4,5.4 0 1,0 10.8,0a5.4,5.4 0 1,0 -10.8,0M1665.2,2885.4a5.4,5.4 0 1,0 10.8,0a5.4,5.4 0 1,0 -10.8,0M1668.1,2968.8a5.4,5.4 0 1,0 10.8,0a5.4,5.4 0 1,0 -10.8,0M1617.1,2825.7a5.4,5.4 0 1,0 10.8,0a5.4,5.4 0 1,0 -10.8,0M1576.7,2927.2a5.4,5.4 0 1,0 10.8,0a5.4,5.4 0 1,0 -10.8,0M1652.0,2910.8a5.4,5.4 0 1,0 10.8,0a5.4,5.4 0 1,0 -10.8,0M1740.2,2751.1a5.4,5.4 0 1,0 10.8,0a5.4,5.4 0 1,0 -10.8,0M1617.4,2863.9a5.4,5.4 0 1,0 10.8,0a5.4,5.4 0 1,0 -10.8,0M1784.4,2813.5a5.4,5.4 0 1,0 10.8,0a5.4,5.4 0 1,0 -10.8,0M1665.4,2962.0a5.4,5.4 0 1,0 10.8,0a5.4,5.4 0 1,0 -10.8,0M1685.5,2878.4a5.4,5.4 0 1,0 10.8,0a5.4,5.4 0 1,0 -10.8,0M1675.7,2805.7a5.4,5.4 0 1,0 10.8,0a5.4,5.4 0 1,0 -10.8,0M1669.3,2823.6a5.4,5.4 0 1,0 10.8,0a5.4,5.4 0 1,0 -10.8,0M1665.6,2801.2a5.4,5.4 0 1,0 10.8,0a5.4,5.4 0 1,0 -10.8,0M1653.5,2955.1a5.4,5.4 0 1,0 10.8,0a5.4,5.4 0 1,0 -10.8,0M1709.0,2844.9a5.4,5.4 0 1,0 10.8,0a5.4,5.4 0 1,0 -10.8,0M1567.6,2820.0a5.4,5.4 0 1,0 10.8,0a5.4,5.4 0 1,0 -10.8,0M1691.1,2853.8a5.4,5.4 0 1,0 10.8,0a5.4,5.4 0 1,0 -10.8,0M1694.3,2743.0a5.4,5.4 0 1,0 10.8,0a5.4,5.4 0 1,0 -10.8,0M1684.7,2846.3a5.4,5.4 0 1,0 10.8,0a5.4,5.4 0 1,0 -10.8,0M1705.1,2760.0a5.4,5.4 0 1,0 10.8,0a5.4,5.4 0 1,0 -10.8,0M1749.9,2781.8a5.4,5.4 0 1,0 10.8,0a5.4,5.4 0 1,0 -10.8,0M1673.9,2962.9a5.4,5.4 0 1,0 10.8,0a5.4,5.4 0 1,0 -10.8,0M1752.6,2830.1a5.4,5.4 0 1,0 10.8,0a5.4,5.4 0 1,0 -10.8,0M1777.9,2774.2a5.4,5.4 0 1,0 10.8,0a5.4,5.4 0 1,0 -10.8,0M1593.7,2916.3a5.4,5.4 0 1,0 10.8,0a5.4,5.4 0 1,0 -10.8,0M1582.1,2761.9a5.4,5.4 0 1,0 10.8,0a5.4,5.4 0 1,0 -10.8,0M1589.1,2950.5a5.4,5.4 0 1,0 10.8,0a5.4,5.4 0 1,0 -10.8,0M1773.4,2827.3a5.4,5.4 0 1,0 10.8,0a5.4,5.4 0 1,0 -10.8,0M1575.9,2797.2a5.4,5.4 0 1,0 10.8,0a5.4,5.4 0 1,0 -10.8,0M1761.4,2848.5a5.4,5.4 0 1,0 10.8,0a5.4,5.4 0 1,0 -10.8,0M1575.8,2794.6a5.4,5.4 0 1,0 10.8,0a5.4,5.4 0 1,0 -10.8,0M1678.5,2822.3a5.4,5.4 0 1,0 10.8,0a5.4,5.4 0 1,0 -10.8,0M1654.9,2839.3a5.4,5.4 0 1,0 10.8,0a5.4,5.4 0 1,0 -10.8,0M1562.0,2717.6a5.4,5.4 0 1,0 10.8,0a5.4,5.4 0 1,0 -10.8,0M1638.0,2905.5a5.4,5.4 0 1,0 10.8,0a5.4,5.4 0 1,0 -10.8,0M1648.9,2907.4a5.4,5.4 0 1,0 10.8,0a5.4,5.4 0 1,0 -10.8,0M1704.8,2864.6a5.4,5.4 0 1,0 10.8,0a5.4,5.4 0 1,0 -10.8,0M1574.8,2894.6a5.4,5.4 0 1,0 10.8,0a5.4,5.4 0 1,0 -10.8,0M1805.4,2765.9a5.4,5.4 0 1,0 10.8,0a5.4,5.4 0 1,0 -10.8,0M1617.5,2959.9a5.4,5.4 0 1,0 10.8,0a5.4,5.4 0 1,0 -10.8,0M1712.1,2876.7a5.4,5.4 0 1,0 10.8,0a5.4,5.4 0 1,0 -10.8,0M1691.6,2846.8a5.4,5.4 0 1,0 10.8,0a5.4,5.4 0 1,0 -10.8,0M1725.4,2878.7a5.4,5.4 0 1,0 10.8,0a5.4,5.4 0 1,0 -10.8,0M1574.8,2892.1a5.4,5.4 0 1,0 10.8,0a5.4,5.4 0 1,0 -10.8,0M1711.1,2867.6a5.4,5.4 0 1,0 10.8,0a5.4,5.4 0 1,0 -10.8,0M1720.1,2889.7a5.4,5.4 0 1,0 10.8,0a5.4,5.4 0 1,0 -10.8,0M1637.7,2767.4a5.4,5.4 0 1,0 10.8,0a5.4,5.4 0 1,0 -10.8,0M1642.8,2789.5a5.4,5.4 0 1,0 10.8,0a5.4,5.4 0 1,0 -10.8,0M1688.9,2731.5a5.4,5.4 0 1,0 10.8,0a5.4,5.4 0 1,0 -10.8,0M1686.1,2746.2a5.4,5.4 0 1,0 10.8,0a5.4,5.4 0 1,0 -10.8,0M1576.6,2861.1a5.4,5.4 0 1,0 10.8,0a5.4,5.4 0 1,0 -10.8,0M1750.9,2798.7a5.4,5.4 0 1,0 10.8,0a5.4,5.4 0 1,0 -10.8,0M1643.7,2918.8a5.4,5.4 0 1,0 10.8,0a5.4,5.4 0 1,0 -10.8,0M1588.8,2948.7a5.4,5.4 0 1,0 10.8,0a5.4,5.4 0 1,0 -10.8,0M1782.1,2727.3a5.4,5.4 0 1,0 10.8,0a5.4,5.4 0 1,0 -10.8,0M1677.6,2802.9a5.4,5.4 0 1,0 10.8,0a5.4,5.4 0 1,0 -10.8,0M1633.2,2739.0a5.4,5.4 0 1,0 10.8,0a5.4,5.4 0 1,0 -10.8,0M1576.3,2793.4a5.4,5.4 0 1,0 10.8,0a5.4,5.4 0 1,0 -10.8,0M1572.1,2757.0a5.4,5.4 0 1,0 10.8,0a5.4,5.4 0 1,0 -10.8,0M1643.4,2913.2a5.4,5.4 0 1,0 10.8,0a5.4,5.4 0 1,0 -10.8,0M1724.9,2890.9a5.4,5.4 0 1,0 10.8,0a5.4,5.4 0 1,0 -10.8,0M1786.4,2719.8a5.4,5.4 0 1,0 10.8,0a5.4,5.4 0 1,0 -10.8,0M1671.0,2964.9a5.4,5.4 0 1,0 10.8,0a5.4,5.4 0 1,0 -10.8,0M1667.8,2807.6a5.4,5.4 0 1,0 10.8,0a5.4,5.4 0 1,0 -10.8,0M1623.5,2832.2a5.4,5.4 0 1,0 10.8,0a5.4,5.4 0 1,0 -10.8,0M1586.8,2853.2a5.4,5.4 0 1,0 10.8,0a5.4,5.4 0 1,0 -10.8,0M1821.4,2715.6a5.4,5.4 0 1,0 10.8,0a5.4,5.4 0 1,0 -10.8,0M1642.6,2883.3a5.4,5.4 0 1,0 10.8,0a5.4,5.4 0 1,0 -10.8,0M1697.4,2749.8a5.4,5.4 0 1,0 10.8,0a5.4,5.4 0 1,0 -10.8,0M1729.4,2833.5a5.4,5.4 0 1,0 10.8,0a5.4,5.4 0 1,0 -10.8,0M1585.3,2937.2a5.4,5.4 0 1,0 10.8,0a5.4,5.4 0 1,0 -10.8,0M1637.0,2742.3a5.4,5.4 0 1,0 10.8,0a5.4,5.4 0 1,0 -10.8,0M1729.7,2723.1a5.4,5.4 0 1,0 10.8,0a5.4,5.4 0 1,0 -10.8,0M1657.7,2729.0a5.4,5.4 0 1,0 10.8,0a5.4,5.4 0 1,0 -10.8,0M1654.5,2857.0a5.4,5.4 0 1,0 10.8,0a5.4,5.4 0 1,0 -10.8,0M1630.3,2781.3a5.4,5.4 0 1,0 10.8,0a5.4,5.4 0 1,0 -10.8,0M1610.9,2769.6a5.4,5.4 0 1,0 10.8,0a5.4,5.4 0 1,0 -10.8,0M1644.7,2955.4a5.4,5.4 0 1,0 10.8,0a5.4,5.4 0 1,0 -10.8,0M1716.3,2769.5a5.4,5.4 0 1,0 10.8,0a5.4,5.4 0 1,0 -10.8,0M1728.8,2854.0a5.4,5.4 0 1,0 10.8,0a5.4,5.4 0 1,0 -10.8,0M1569.9,2840.5a5.4,5.4 0 1,0 10.8,0a5.4,5.4 0 1,0 -10.8,0M1587.8,2806.0a5.4,5.4 0 1,0 10.8,0a5.4,5.4 0 1,0 -10.8,0M1597.6,2823.8a5.4,5.4 0 1,0 10.8,0a5.4,5.4 0 1,0 -10.8,0M1660.1,2876.4a5.4,5.4 0 1,0 10.8,0a5.4,5.4 0 1,0 -10.8,0M1608.3,2729.8a5.4,5.4 0 1,0 10.8,0a5.4,5.4 0 1,0 -10.8,0M1654.1,2755.4a5.4,5.4 0 1,0 10.8,0a5.4,5.4 0 1,0 -10.8,0M1602.5,2949.0a5.4,5.4 0 1,0 10.8,0a5.4,5.4 0 1,0 -10.8,0M1700.6,2834.7a5.4,5.4 0 1,0 10.8,0a5.4,5.4 0 1,0 -10.8,0M1593.6,2852.3a5.4,5.4 0 1,0 10.8,0a5.4,5.4 0 1,0 -10.8,0M1606.7,2834.8a5.4,5.4 0 1,0 10.8,0a5.4,5.4 0 1,0 -10.8,0M1703.6,2878.4a5.4,5.4 0 1,0 10.8,0a5.4,5.4 0 1,0 -10.8,0M1616.2,2868.9a5.4,5.4 0 1,0 10.8,0a5.4,5.4 0 1,0 -10.8,0M1617.9,2940.5a5.4,5.4 0 1,0 10.8,0a5.4,5.4 0 1,0 -10.8,0M1628.2,2747.9a5.4,5.4 0 1,0 10.8,0a5.4,5.4 0 1,0 -10.8,0M1702.2,2742.9a5.4,5.4 0 1,0 10.8,0a5.4,5.4 0 1,0 -10.8,0M1564.6,2729.3a5.4,5.4 0 1,0 10.8,0a5.4,5.4 0 1,0 -10.8,0M1698.4,2768.7a5.4,5.4 0 1,0 10.8,0a5.4,5.4 0 1,0 -10.8,0M1721.6,2795.1a5.4,5.4 0 1,0 10.8,0a5.4,5.4 0 1,0 -10.8,0M1625.2,2779.3a5.4,5.4 0 1,0 10.8,0a5.4,5.4 0 1,0 -10.8,0M1603.8,2905.0a5.4,5.4 0 1,0 10.8,0a5.4,5.4 0 1,0 -10.8,0M1569.1,2871.6a5.4,5.4 0 1,0 10.8,0a5.4,5.4 0 1,0 -10.8,0M1706.8,2897.8a5.4,5.4 0 1,0 10.8,0a5.4,5.4 0 1,0 -10.8,0M1723.9,2912.8a5.4,5.4 0 1,0 10.8,0a5.4,5.4 0 1,0 -10.8,0M1728.7,2770.5a5.4,5.4 0 1,0 10.8,0a5.4,5.4 0 1,0 -10.8,0M1629.8,2818.3a5.4,5.4 0 1,0 10.8,0a5.4,5.4 0 1,0 -10.8,0M1735.2,2794.4a5.4,5.4 0 1,0 10.8,0a5.4,5.4 0 1,0 -10.8,0M1675.5,2950.6a5.4,5.4 0 1,0 10.8,0a5.4,5.4 0 1,0 -10.8,0M1629.6,2783.5a5.4,5.4 0 1,0 10.8,0a5.4,5.4 0 1,0 -10.8,0M1657.7,2937.1a5.4,5.4 0 1,0 10.8,0a5.4,5.4 0 1,0 -10.8,0M1616.4,2916.5a5.4,5.4 0 1,0 10.8,0a5.4,5.4 0 1,0 -10.8,0M1653.9,2720.8a5.4,5.4 0 1,0 10.8,0a5.4,5.4 0 1,0 -10.8,0M1696.0,2844.7a5.4,5.4 0 1,0 10.8,0a5.4,5.4 0 1,0 -10.8,0M1780.7,2738.4a5.4,5.4 0 1,0 10.8,0a5.4,5.4 0 1,0 -10.8,0M1772.8,2808.7a5.4,5.4 0 1,0 10.8,0a5.4,5.4 0 1,0 -10.8,0M1616.6,2811.6a5.4,5.4 0 1,0 10.8,0a5.4,5.4 0 1,0 -10.8,0M1799.5,2769.8a5.4,5.4 0 1,0 10.8,0a5.4,5.4 0 1,0 -10.8,0M1586.5,2787.7a5.4,5.4 0 1,0 10.8,0a5.4,5.4 0 1,0 -10.8,0M1659.1,2931.4a5.4,5.4 0 1,0 10.8,0a5.4,5.4 0 1,0 -10.8,0M1794.6,2730.9a5.4,5.4 0 1,0 10.8,0a5.4,5.4 0 1,0 -10.8,0M1795.7,2765.8a5.4,5.4 0 1,0 10.8,0a5.4,5.4 0 1,0 -10.8,0M1727.3,2860.7a5.4,5.4 0 1,0 10.8,0a5.4,5.4 0 1,0 -10.8,0M1793.7,2770.4a5.4,5.4 0 1,0 10.8,0a5.4,5.4 0 1,0 -10.8,0M1631.6,2756.4a5.4,5.4 0 1,0 10.8,0a5.4,5.4 0 1,0 -10.8,0M1626.0,2922.1a5.4,5.4 0 1,0 10.8,0a5.4,5.4 0 1,0 -10.8,0M1689.8,2912.1a5.4,5.4 0 1,0 10.8,0a5.4,5.4 0 1,0 -10.8,0M1699.6,2738.4a5.4,5.4 0 1,0 10.8,0a5.4,5.4 0 1,0 -10.8,0M1754.1,2789.6a5.4,5.4 0 1,0 10.8,0a5.4,5.4 0 1,0 -10.8,0M1671.2,2770.6a5.4,5.4 0 1,0 10.8,0a5.4,5.4 0 1,0 -10.8,0M1784.8,2796.7a5.4,5.4 0 1,0 10.8,0a5.4,5.4 0 1,0 -10.8,0M1675.2,2950.8a5.4,5.4 0 1,0 10.8,0a5.4,5.4 0 1,0 -10.8,0M1744.8,2757.0a5.4,5.4 0 1,0 10.8,0a5.4,5.4 0 1,0 -10.8,0M1656.4,2819.5a5.4,5.4 0 1,0 10.8,0a5.4,5.4 0 1,0 -10.8,0M1796.8,2768.2a5.4,5.4 0 1,0 10.8,0a5.4,5.4 0 1,0 -10.8,0M1561.6,2846.8a5.4,5.4 0 1,0 10.8,0a5.4,5.4 0 1,0 -10.8,0M1564.9,2944.8a5.4,5.4 0 1,0 10.8,0a5.4,5.4 0 1,0 -10.8,0M1731.4,2855.0a5.4,5.4 0 1,0 10.8,0a5.4,5.4 0 1,0 -10.8,0M1655.2,2918.1a5.4,5.4 0 1,0 10.8,0a5.4,5.4 0 1,0 -10.8,0M1660.4,2754.9a5.4,5.4 0 1,0 10.8,0a5.4,5.4 0 1,0 -10.8,0M1735.5,2897.8a5.4,5.4 0 1,0 10.8,0a5.4,5.4 0 1,0 -10.8,0M1585.2,2903.3a5.4,5.4 0 1,0 10.8,0a5.4,5.4 0 1,0 -10.8,0M1758.6,2859.0a5.4,5.4 0 1,0 10.8,0a5.4,5.4 0 1,0 -10.8,0M1747.3,2764.5a5.4,5.4 0 1,0 10.8,0a5.4,5.4 0 1,0 -10.8,0M1594.5,2796.7a5.4,5.4 0 1,0 10.8,0a5.4,5.4 0 1,0 -10.8,0M1572.1,2760.4a5.4,5.4 0 1,0 10.8,0a5.4,5.4 0 1,0 -10.8,0M1612.4,2903.1a5.4,5.4 0 1,0 10.8,0a5.4,5.4 0 1,0 -10.8,0M1623.7,2743.1a5.4,5.4 0 1,0 10.8,0a5.4,5.4 0 1,0 -10.8,0M1732.9,2742.1a5.4,5.4 0 1,0 10.8,0a5.4,5.4 0 1,0 -10.8,0M1671.8,2844.1a5.4,5.4 0 1,0 10.8,0a5.4,5.4 0 1,0 -10.8,0M1609.9,2728.9a5.4,5.4 0 1,0 10.8,0a5.4,5.4 0 1,0 -10.8,0M1688.9,2763.9a5.4,5.4 0 1,0 10.8,0a5.4,5.4 0 1,0 -10.8,0M1631.3,2882.2a5.4,5.4 0 1,0 10.8,0a5.4,5.4 0 1,0 -10.8,0M1588.9,2830.4a5.4,5.4 0 1,0 10.8,0a5.4,5.4 0 1,0 -10.8,0M1666.9,2733.1a5.4,5.4 0 1,0 10.8,0a5.4,5.4 0 1,0 -10.8,0M1581.8,2811.9a5.4,5.4 0 1,0 10.8,0a5.4,5.4 0 1,0 -10.8,0M1685.9,2725.5a5.4,5.4 0 1,0 10.8,0a5.4,5.4 0 1,0 -10.8,0M1662.6,2802.3a5.4,5.4 0 1,0 10.8,0a5.4,5.4 0 1,0 -10.8,0M1739.0,2876.1a5.4,5.4 0 1,0 10.8,0a5.4,5.4 0 1,0 -10.8,0M1708.0,2798.3a5.4,5.4 0 1,0 10.8,0a5.4,5.4 0 1,0 -10.8,0M1663.2,2720.8a5.4,5.4 0 1,0 10.8,0a5.4,5.4 0 1,0 -10.8,0M1576.4,2757.4a5.4,5.4 0 1,0 10.8,0a5.4,5.4 0 1,0 -10.8,0M1753.6,2829.1a5.4,5.4 0 1,0 10.8,0a5.4,5.4 0 1,0 -10.8,0M1686.9,2779.0a5.4,5.4 0 1,0 10.8,0a5.4,5.4 0 1,0 -10.8,0M1652.3,2937.9a5.4,5.4 0 1,0 10.8,0a5.4,5.4 0 1,0 -10.8,0M1601.2,2821.3a5.4,5.4 0 1,0 10.8,0a5.4,5.4 0 1,0 -10.8,0M1671.2,2780.0a5.4,5.4 0 1,0 10.8,0a5.4,5.4 0 1,0 -10.8,0M1714.2,2864.5a5.4,5.4 0 1,0 10.8,0a5.4,5.4 0 1,0 -10.8,0M1788.0,2798.3a5.4,5.4 0 1,0 10.8,0a5.4,5.4 0 1,0 -10.8,0M1667.9,2724.2a5.4,5.4 0 1,0 10.8,0a5.4,5.4 0 1,0 -10.8,0M1761.0,2794.6a5.4,5.4 0 1,0 10.8,0a5.4,5.4 0 1,0 -10.8,0M1638.8,2931.5a5.4,5.4 0 1,0 10.8,0a5.4,5.4 0 1,0 -10.8,0M1723.0,2759.7a5.4,5.4 0 1,0 10.8,0a5.4,5.4 0 1,0 -10.8,0M1599.9,2839.9a5.4,5.4 0 1,0 10.8,0a5.4,5.4 0 1,0 -10.8,0M1648.6,2959.5a5.4,5.4 0 1,0 10.8,0a5.4,5.4 0 1,0 -10.8,0M1644.5,2874.3a5.4,5.4 0 1,0 10.8,0a5.4,5.4 0 1,0 -10.8,0M1833.8,2724.4a5.4,5.4 0 1,0 10.8,0a5.4,5.4 0 1,0 -10.8,0M1613.2,2893.3a5.4,5.4 0 1,0 10.8,0a5.4,5.4 0 1,0 -10.8,0M1651.1,2860.0a5.4,5.4 0 1,0 10.8,0a5.4,5.4 0 1,0 -10.8,0M1591.0,2906.0a5.4,5.4 0 1,0 10.8,0a5.4,5.4 0 1,0 -10.8,0M1671.7,2873.6a5.4,5.4 0 1,0 10.8,0a5.4,5.4 0 1,0 -10.8,0M1618.0,2738.2a5.4,5.4 0 1,0 10.8,0a5.4,5.4 0 1,0 -10.8,0M1687.7,2756.8a5.4,5.4 0 1,0 10.8,0a5.4,5.4 0 1,0 -10.8,0M1740.5,2771.9a5.4,5.4 0 1,0 10.8,0a5.4,5.4 0 1,0 -10.8,0M1649.3,2934.0a5.4,5.4 0 1,0 10.8,0a5.4,5.4 0 1,0 -10.8,0M1718.3,2799.9a5.4,5.4 0 1,0 10.8,0a5.4,5.4 0 1,0 -10.8,0M1662.9,2736.0a5.4,5.4 0 1,0 10.8,0a5.4,5.4 0 1,0 -10.8,0M1710.0,2898.8a5.4,5.4 0 1,0 10.8,0a5.4,5.4 0 1,0 -10.8,0M1660.3,2730.2a5.4,5.4 0 1,0 10.8,0a5.4,5.4 0 1,0 -10.8,0M1635.4,2910.4a5.4,5.4 0 1,0 10.8,0a5.4,5.4 0 1,0 -10.8,0M1580.1,2831.4a5.4,5.4 0 1,0 10.8,0a5.4,5.4 0 1,0 -10.8,0M1773.5,2797.9a5.4,5.4 0 1,0 10.8,0a5.4,5.4 0 1,0 -10.8,0M1677.0,2764.4a5.4,5.4 0 1,0 10.8,0a5.4,5.4 0 1,0 -10.8,0M1591.8,2894.0a5.4,5.4 0 1,0 10.8,0a5.4,5.4 0 1,0 -10.8,0M1742.7,2723.1a5.4,5.4 0 1,0 10.8,0a5.4,5.4 0 1,0 -10.8,0M1739.6,2794.3a5.4,5.4 0 1,0 10.8,0a5.4,5.4 0 1,0 -10.8,0M1657.0,2871.8a5.4,5.4 0 1,0 10.8,0a5.4,5.4 0 1,0 -10.8,0M1612.9,2747.8a5.4,5.4 0 1,0 10.8,0a5.4,5.4 0 1,0 -10.8,0M1710.7,2838.5a5.4,5.4 0 1,0 10.8,0a5.4,5.4 0 1,0 -10.8,0M1749.6,2740.1a5.4,5.4 0 1,0 10.8,0a5.4,5.4 0 1,0 -10.8,0M1598.1,2885.7a5.4,5.4 0 1,0 10.8,0a5.4,5.4 0 1,0 -10.8,0M1579.0,2866.5a5.4,5.4 0 1,0 10.8,0a5.4,5.4 0 1,0 -10.8,0M1702.3,2752.9a5.4,5.4 0 1,0 10.8,0a5.4,5.4 0 1,0 -10.8,0M1749.2,2823.9a5.4,5.4 0 1,0 10.8,0a5.4,5.4 0 1,0 -10.8,0M1674.5,2824.9a5.4,5.4 0 1,0 10.8,0a5.4,5.4 0 1,0 -10.8,0M1637.8,2754.8a5.4,5.4 0 1,0 10.8,0a5.4,5.4 0 1,0 -10.8,0M1783.3,2756.4a5.4,5.4 0 1,0 10.8,0a5.4,5.4 0 1,0 -10.8,0M1603.1,2799.6a5.4,5.4 0 1,0 10.8,0a5.4,5.4 0 1,0 -10.8,0M1814.4,2740.8a5.4,5.4 0 1,0 10.8,0a5.4,5.4 0 1,0 -10.8,0M1770.4,2760.9a5.4,5.4 0 1,0 10.8,0a5.4,5.4 0 1,0 -10.8,0M1827.3,2807.7a5.4,5.4 0 1,0 10.8,0a5.4,5.4 0 1,0 -10.8,0M1857.2,2879.6a5.4,5.4 0 1,0 10.8,0a5.4,5.4 0 1,0 -10.8,0M1826.0,2961.5a5.4,5.4 0 1,0 10.8,0a5.4,5.4 0 1,0 -10.8,0M1868.3,2889.5a5.4,5.4 0 1,0 10.8,0a5.4,5.4 0 1,0 -10.8,0M1804.7,2885.2a5.4,5.4 0 1,0 10.8,0a5.4,5.4 0 1,0 -10.8,0M1859.2,2829.1a5.4,5.4 0 1,0 10.8,0a5.4,5.4 0 1,0 -10.8,0M1742.2,2964.1a5.4,5.4 0 1,0 10.8,0a5.4,5.4 0 1,0 -10.8,0M1791.2,2868.1a5.4,5.4 0 1,0 10.8,0a5.4,5.4 0 1,0 -10.8,0M1916.1,2753.1a5.4,5.4 0 1,0 10.8,0a5.4,5.4 0 1,0 -10.8,0M1905.6,2888.2a5.4,5.4 0 1,0 10.8,0a5.4,5.4 0 1,0 -10.8,0M1913.2,2961.7a5.4,5.4 0 1,0 10.8,0a5.4,5.4 0 1,0 -10.8,0M1758.6,2943.9a5.4,5.4 0 1,0 10.8,0a5.4,5.4 0 1,0 -10.8,0M1828.7,2852.6a5.4,5.4 0 1,0 10.8,0a5.4,5.4 0 1,0 -10.8,0M1735.8,2901.6a5.4,5.4 0 1,0 10.8,0a5.4,5.4 0 1,0 -10.8,0M1770.3,2857.2a5.4,5.4 0 1,0 10.8,0a5.4,5.4 0 1,0 -10.8,0M1909.2,2769.2a5.4,5.4 0 1,0 10.8,0a5.4,5.4 0 1,0 -10.8,0M1901.6,2720.2a5.4,5.4 0 1,0 10.8,0a5.4,5.4 0 1,0 -10.8,0M1833.0,2777.2a5.4,5.4 0 1,0 10.8,0a5.4,5.4 0 1,0 -10.8,0M1832.8,2802.6a5.4,5.4 0 1,0 10.8,0a5.4,5.4 0 1,0 -10.8,0M1914.8,2895.0a5.4,5.4 0 1,0 10.8,0a5.4,5.4 0 1,0 -10.8,0M1857.9,2852.5a5.4,5.4 0 1,0 10.8,0a5.4,5.4 0 1,0 -10.8,0M1890.5,2755.8a5.4,5.4 0 1,0 10.8,0a5.4,5.4 0 1,0 -10.8,0M1784.6,2837.4a5.4,5.4 0 1,0 10.8,0a5.4,5.4 0 1,0 -10.8,0M1911.4,2857.7a5.4,5.4 0 1,0 10.8,0a5.4,5.4 0 1,0 -10.8,0M1836.0,2872.7a5.4,5.4 0 1,0 10.8,0a5.4,5.4 0 1,0 -10.8,0M1860.2,2742.5a5.4,5.4 0 1,0 10.8,0a5.4,5.4 0 1,0 -10.8,0M1728.5,2979.4a5.4,5.4 0 1,0 10.8,0a5.4,5.4 0 1,0 -10.8,0M1865.8,2758.3a5.4,5.4 0 1,0 10.8,0a5.4,5.4 0 1,0 -10.8,0M1754.3,2969.7a5.4,5.4 0 1,0 10.8,0a5.4,5.4 0 1,0 -10.8,0M1883.6,2830.0a5.4,5.4 0 1,0 10.8,0a5.4,5.4 0 1,0 -10.8,0M1888.7,2873.1a5.4,5.4 0 1,0 10.8,0a5.4,5.4 0 1,0 -10.8,0M1806.8,2780.8a5.4,5.4 0 1,0 10.8,0a5.4,5.4 0 1,0 -10.8,0M1747.0,2962.8a5.4,5.4 0 1,0 10.8,0a5.4,5.4 0 1,0 -10.8,0M1833.6,2966.7a5.4,5.4 0 1,0 10.8,0a5.4,5.4 0 1,0 -10.8,0M1756.4,2868.1a5.4,5.4 0 1,0 10.8,0a5.4,5.4 0 1,0 -10.8,0M1590.9,2715.9a5.4,5.4 0 1,0 10.8,0a5.4,5.4 0 1,0 -10.8,0M1514.3,2716.5a5.4,5.4 0 1,0 10.8,0a5.4,5.4 0 1,0 -10.8,0M1594.3,2718.4a5.4,5.4 0 1,0 10.8,0a5.4,5.4 0 1,0 -10.8,0M1497.0,2713.8a5.4,5.4 0 1,0 10.8,0a5.4,5.4 0 1,0 -10.8,0M1577.8,2722.6a5.4,5.4 0 1,0 10.8,0a5.4,5.4 0 1,0 -10.8,0M1514.1,2713.0a5.4,5.4 0 1,0 10.8,0a5.4,5.4 0 1,0 -10.8,0M1512.4,2719.2a5.4,5.4 0 1,0 10.8,0a5.4,5.4 0 1,0 -10.8,0M1611.2,2714.7a5.4,5.4 0 1,0 10.8,0a5.4,5.4 0 1,0 -10.8,0M1584.0,2715.6a5.4,5.4 0 1,0 10.8,0a5.4,5.4 0 1,0 -10.8,0M1478.7,2722.3a5.4,5.4 0 1,0 10.8,0a5.4,5.4 0 1,0 -10.8,0M1644.5,2714.9a5.4,5.4 0 1,0 10.8,0a5.4,5.4 0 1,0 -10.8,0M1478.7,2722.7a5.4,5.4 0 1,0 10.8,0a5.4,5.4 0 1,0 -10.8,0" fill="#ff0000"/>
<path d="M940.9,2575.9a6.0,6.0 0 1,0 12.0,0a6.0,6.0 0 1,0 -12.0,0M957.2,2689.7a6.0,6.0 0 1,0 12.0,0a6.0,6.0 0 1,0 -12.0,0M875.9,2807.3a6.0,6.0 0 1,0 12.0,0a6.0,6.0 0 1,0 -12.0,0M959.7,2864.8a6.0,6.0 0 1,0 12.0,0a6.0,6.0 0 1,0 -12.0,0M823.3,2963.6a6.0,6.0 0 1,0 12.0,0a6.0,6.0 0 1,0 -12.0,0M1111.0,2647.2a6.0,6.0 0 1,0 12.0,0a6.0,6.0 0 1,0 -12.0,0M1111.0,2697.2a6.0,6.0 0 1,0 12.0,0a6.0,6.0 0 1,0 -12.0,0M1119.8,2771.0a6.0,6.0 0 1,0 12.0,0a6.0,6.0 0 1,0 -12.0,0M1199.8,2664.7a6.0,6.0 0 1,0 12.0,0a6.0,6.0 0 1,0 -12.0,0M1199.8,2697.2a6.0,6.0 0 1,0 12.0,0a6.0,6.0 0 1,0 -12.0,0M1187.3,2801.0a6.0,6.0 0 1,0 12.0,0a6.0,6.0 0 1,0 -12.0,0M1213.6,2854.8a6.0,6.0 0 1,0 12.0,0a6.0,6.0 0 1,0 -12.0,0M1176.1,2902.3a6.0,6.0 0 1,0 12.0,0a6.0,6.0 0 1,0 -12.0,0M1191.1,2936.1a6.0,6.0 0 1,0 12.0,0a6.0,6.0 0 1,0 -12.0,0M1232.4,2923.6a6.0,6.0 0 1,0 12.0,0a6.0,6.0 0 1,0 -12.0,0M1212.3,2977.4a6.0,6.0 0 1,0 12.0,0a6.0,6.0 0 1,0 -12.0,0M1168.6,2996.2a6.0,6.0 0 1,0 12.0,0a6.0,6.0 0 1,0 -12.0,0M1158.6,3004.9a6.0,6.0 0 1,0 12.0,0a6.0,6.0 0 1,0 -12.0,0M1134.8,3027.4a6.0,6.0 0 1,0 12.0,0a6.0,6.0 0 1,0 -12.0,0M1096.0,3011.2a6.0,6.0 0 1,0 12.0,0a6.0,6.0 0 1,0 -12.0,0M1053.5,3008.7a6.0,6.0 0 1,0 12.0,0a6.0,6.0 0 1,0 -12.0,0M1063.5,3023.7a6.0,6.0 0 1,0 12.0,0a6.0,6.0 0 1,0 -12.0,0M1041.0,3051.2a6.0,6.0 0 1,0 12.0,0a6.0,6.0 0 1,0 -12.0,0M1053.5,3061.2a6.0,6.0 0 1,0 12.0,0a6.0,6.0 0 1,0 -12.0,0M1028.5,3086.2a6.0,6.0 0 1,0 12.0,0a6.0,6.0 0 1,0 -12.0,0M1018.5,2998.7a6.0,6.0 0 1,0 12.0,0a6.0,6.0 0 1,0 -12.0,0M999.7,3014.9a6.0,6.0 0 1,0 12.0,0a6.0,6.0 0 1,0 -12.0,0M933.4,3027.4a6.0,6.0 0 1,0 12.0,0a6.0,6.0 0 1,0 -12.0,0M937.1,3061.2a6.0,6.0 0 1,0 12.0,0a6.0,6.0 0 1,0 -12.0,0M890.9,3082.5a6.0,6.0 0 1,0 12.0,0a6.0,6.0 0 1,0 -12.0,0M895.9,3145.0a6.0,6.0 0 1,0 12.0,0a6.0,6.0 0 1,0 -12.0,0M924.6,3140.0a6.0,6.0 0 1,0 12.0,0a6.0,6.0 0 1,0 -12.0,0M930.9,3148.8a6.0,6.0 0 1,0 12.0,0a6.0,6.0 0 1,0 -12.0,0M967.2,3120.0a6.0,6.0 0 1,0 12.0,0a6.0,6.0 0 1,0 -12.0,0M1008.4,3115.0a6.0,6.0 0 1,0 12.0,0a6.0,6.0 0 1,0 -12.0,0M1028.5,3121.3a6.0,6.0 0 1,0 12.0,0a6.0,6.0 0 1,0 -12.0,0M940.9,3207.6a6.0,6.0 0 1,0 12.0,0a6.0,6.0 0 1,0 -12.0,0M950.9,3215.1a6.0,6.0 0 1,0 12.0,0a6.0,6.0 0 1,0 -12.0,0M853.3,3221.3a6.0,6.0 0 1,0 12.0,0a6.0,6.0 0 1,0 -12.0,0M847.1,3192.6a6.0,6.0 0 1,0 12.0,0a6.0,6.0 0 1,0 -12.0,0M828.3,3217.6a6.0,6.0 0 1,0 12.0,0a6.0,6.0 0 1,0 -12.0,0M863.3,3245.1a6.0,6.0 0 1,0 12.0,0a6.0,6.0 0 1,0 -12.0,0M807.1,3113.7a6.0,6.0 0 1,0 12.0,0a6.0,6.0 0 1,0 -12.0,0M823.3,3061.2a6.0,6.0 0 1,0 12.0,0a6.0,6.0 0 1,0 -12.0,0M748.3,3145.0a6.0,6.0 0 1,0 12.0,0a6.0,6.0 0 1,0 -12.0,0M757.0,3161.3a6.0,6.0 0 1,0 12.0,0a6.0,6.0 0 1,0 -12.0,0M767.0,3156.3a6.0,6.0 0 1,0 12.0,0a6.0,6.0 0 1,0 -12.0,0M788.3,3237.6a6.0,6.0 0 1,0 12.0,0a6.0,6.0 0 1,0 -12.0,0M767.0,3271.4a6.0,6.0 0 1,0 12.0,0a6.0,6.0 0 1,0 -12.0,0M745.8,3290.1a6.0,6.0 0 1,0 12.0,0a6.0,6.0 0 1,0 -12.0,0M725.7,3302.6a6.0,6.0 0 1,0 12.0,0a6.0,6.0 0 1,0 -12.0,0M704.5,3286.4a6.0,6.0 0 1,0 12.0,0a6.0,6.0 0 1,0 -12.0,0M737.0,3245.1a6.0,6.0 0 1,0 12.0,0a6.0,6.0 0 1,0 -12.0,0M707.0,3236.3a6.0,6.0 0 1,0 12.0,0a6.0,6.0 0 1,0 -12.0,0M675.7,3248.8a6.0,6.0 0 1,0 12.0,0a6.0,6.0 0 1,0 -12.0,0M669.5,3271.4a6.0,6.0 0 1,0 12.0,0a6.0,6.0 0 1,0 -12.0,0M664.5,3308.9a6.0,6.0 0 1,0 12.0,0a6.0,6.0 0 1,0 -12.0,0M623.2,3301.4a6.0,6.0 0 1,0 12.0,0a6.0,6.0 0 1,0 -12.0,0M638.2,3221.3a6.0,6.0 0 1,0 12.0,0a6.0,6.0 0 1,0 -12.0,0M629.4,3205.1a6.0,6.0 0 1,0 12.0,0a6.0,6.0 0 1,0 -12.0,0M635.7,3233.8a6.0,6.0 0 1,0 12.0,0a6.0,6.0 0 1,0 -12.0,0M610.7,3148.8a6.0,6.0 0 1,0 12.0,0a6.0,6.0 0 1,0 -12.0,0M574.4,3223.8a6.0,6.0 0 1,0 12.0,0a6.0,6.0 0 1,0 -12.0,0M580.6,3265.1a6.0,6.0 0 1,0 12.0,0a6.0,6.0 0 1,0 -12.0,0M563.1,3293.9a6.0,6.0 0 1,0 12.0,0a6.0,6.0 0 1,0 -12.0,0M536.9,3317.6a6.0,6.0 0 1,0 12.0,0a6.0,6.0 0 1,0 -12.0,0M541.9,3280.1a6.0,6.0 0 1,0 12.0,0a6.0,6.0 0 1,0 -12.0,0M528.1,3245.1a6.0,6.0 0 1,0 12.0,0a6.0,6.0 0 1,0 -12.0,0M807.1,3333.9a6.0,6.0 0 1,0 12.0,0a6.0,6.0 0 1,0 -12.0,0M828.3,3271.4a6.0,6.0 0 1,0 12.0,0a6.0,6.0 0 1,0 -12.0,0M380.5,3373.9a6.0,6.0 0 1,0 12.0,0a6.0,6.0 0 1,0 -12.0,0M1261.1,2545.8a6.0,6.0 0 1,0 12.0,0a6.0,6.0 0 1,0 -12.0,0M1261.1,2577.1a6.0,6.0 0 1,0 12.0,0a6.0,6.0 0 1,0 -12.0,0M1261.1,2629.6a6.0,6.0 0 1,0 12.0,0a6.0,6.0 0 1,0 -12.0,0M1261.1,2664.7a6.0,6.0 0 1,0 12.0,0a6.0,6.0 0 1,0 -12.0,0M1261.1,2697.2a6.0,6.0 0 1,0 12.0,0a6.0,6.0 0 1,0 -12.0,0M1261.1,2786.0a6.0,6.0 0 1,0 12.0,0a6.0,6.0 0 1,0 -12.0,0M1261.1,2848.6a6.0,6.0 0 1,0 12.0,0a6.0,6.0 0 1,0 -12.0,0M1261.1,2921.1a6.0,6.0 0 1,0 12.0,0a6.0,6.0 0 1,0 -12.0,0M1261.1,2957.4a6.0,6.0 0 1,0 12.0,0a6.0,6.0 0 1,0 -12.0,0M1261.1,3021.2a6.0,6.0 0 1,0 12.0,0a6.0,6.0 0 1,0 -12.0,0M1309.9,2519.6a6.0,6.0 0 1,0 12.0,0a6.0,6.0 0 1,0 -12.0,0M1309.9,2560.8a6.0,6.0 0 1,0 12.0,0a6.0,6.0 0 1,0 -12.0,0M1309.9,2623.4a6.0,6.0 0 1,0 12.0,0a6.0,6.0 0 1,0 -12.0,0M1309.9,2685.9a6.0,6.0 0 1,0 12.0,0a6.0,6.0 0 1,0 -12.0,0M1309.9,2711.0a6.0,6.0 0 1,0 12.0,0a6.0,6.0 0 1,0 -12.0,0M1309.9,2829.8a6.0,6.0 0 1,0 12.0,0a6.0,6.0 0 1,0 -12.0,0M1309.9,2838.5a6.0,6.0 0 1,0 12.0,0a6.0,6.0 0 1,0 -12.0,0M1309.9,2951.1a6.0,6.0 0 1,0 12.0,0a6.0,6.0 0 1,0 -12.0,0M1311.5,2667.0a6.0,6.0 0 1,0 12.0,0a6.0,6.0 0 1,0 -12.0,0M1312.9,2681.9a6.0,6.0 0 1,0 12.0,0a6.0,6.0 0 1,0 -12.0,0M1312.4,2626.3a6.0,6.0 0 1,0 12.0,0a6.0,6.0 0 1,0 -12.0,0M1310.4,2599.4a6.0,6.0 0 1,0 12.0,0a6.0,6.0 0 1,0 -12.0,0M1310.3,2613.4a6.0,6.0 0 1,0 12.0,0a6.0,6.0 0 1,0 -12.0,0M1310.5,2678.4a6.0,6.0 0 1,0 12.0,0a6.0,6.0 0 1,0 -12.0,0M1312.0,2538.8a6.0,6.0 0 1,0 12.0,0a6.0,6.0 0 1,0 -12.0,0M1310.7,2653.3a6.0,6.0 0 1,0 12.0,0a6.0,6.0 0 1,0 -12.0,0M1312.8,2515.8a6.0,6.0 0 1,0 12.0,0a6.0,6.0 0 1,0 -12.0,0M1312.3,2693.9a6.0,6.0 0 1,0 12.0,0a6.0,6.0 0 1,0 -12.0,0M1353.2,2673.2a6.0,6.0 0 1,0 12.0,0a6.0,6.0 0 1,0 -12.0,0M1350.8,2552.0a6.0,6.0 0 1,0 12.0,0a6.0,6.0 0 1,0 -12.0,0M1349.7,2602.9a6.0,6.0 0 1,0 12.0,0a6.0,6.0 0 1,0 -12.0,0M1349.2,2568.9a6.0,6.0 0 1,0 12.0,0a6.0,6.0 0 1,0 -12.0,0M1352.3,2586.9a6.0,6.0 0 1,0 12.0,0a6.0,6.0 0 1,0 -12.0,0M1352.8,2636.1a6.0,6.0 0 1,0 12.0,0a6.0,6.0 0 1,0 -12.0,0M1352.0,2582.9a6.0,6.0 0 1,0 12.0,0a6.0,6.0 0 1,0 -12.0,0M1351.5,2609.1a6.0,6.0 0 1,0 12.0,0a6.0,6.0 0 1,0 -12.0,0M1352.6,2516.4a6.0,6.0 0 1,0 12.0,0a6.0,6.0 0 1,0 -12.0,0M1351.1,2569.6a6.0,6.0 0 1,0 12.0,0a6.0,6.0 0 1,0 -12.0,0M1351.2,2693.9a6.0,6.0 0 1,0 12.0,0a6.0,6.0 0 1,0 -12.0,0M1382.6,2616.2a6.0,6.0 0 1,0 12.0,0a6.0,6.0 0 1,0 -12.0,0M1384.2,2588.2a6.0,6.0 0 1,0 12.0,0a6.0,6.0 0 1,0 -12.0,0M1386.7,2564.6a6.0,6.0 0 1,0 12.0,0a6.0,6.0 0 1,0 -12.0,0M1384.8,2578.5a6.0,6.0 0 1,0 12.0,0a6.0,6.0 0 1,0 -12.0,0M1385.5,2685.4a6.0,6.0 0 1,0 12.0,0a6.0,6.0 0 1,0 -12.0,0M1386.4,2547.7a6.0,6.0 0 1,0 12.0,0a6.0,6.0 0 1,0 -12.0,0M1386.3,2544.3a6.0,6.0 0 1,0 12.0,0a6.0,6.0 0 1,0 -12.0,0M1384.3,2619.9a6.0,6.0 0 1,0 12.0,0a6.0,6.0 0 1,0 -12.0,0M1383.1,2575.3a6.0,6.0 0 1,0 12.0,0a6.0,6.0 0 1,0 -12.0,0M1382.9,2682.9a6.0,6.0 0 1,0 12.0,0a6.0,6.0 0 1,0 -12.0,0M1383.5,2664.9a6.0,6.0 0 1,0 12.0,0a6.0,6.0 0 1,0 -12.0,0M1384.1,2685.7a6.0,6.0 0 1,0 12.0,0a6.0,6.0 0 1,0 -12.0,0M1384.7,2693.9a6.0,6.0 0 1,0 12.0,0a6.0,6.0 0 1,0 -12.0,0M1414.3,2508.8a6.0,6.0 0 1,0 12.0,0a6.0,6.0 0 1,0 -12.0,0M1414.5,2542.7a6.0,6.0 0 1,0 12.0,0a6.0,6.0 0 1,0 -12.0,0M1414.4,2555.3a6.0,6.0 0 1,0 12.0,0a6.0,6.0 0 1,0 -12.0,0M1411.9,2597.4a6.0,6.0 0 1,0 12.0,0a6.0,6.0 0 1,0 -12.0,0M1412.4,2690.2a6.0,6.0 0 1,0 12.0,0a6.0,6.0 0 1,0 -12.0,0M1411.0,2642.6a6.0,6.0 0 1,0 12.0,0a6.0,6.0 0 1,0 -12.0,0M1412.0,2564.2a6.0,6.0 0 1,0 12.0,0a6.0,6.0 0 1,0 -12.0,0M1415.0,2610.8a6.0,6.0 0 1,0 12.0,0a6.0,6.0 0 1,0 -12.0,0M1414.9,2508.2a6.0,6.0 0 1,0 12.0,0a6.0,6.0 0 1,0 -12.0,0M1415.0,2626.5a6.0,6.0 0 1,0 12.0,0a6.0,6.0 0 1,0 -12.0,0M1411.8,2652.6a6.0,6.0 0 1,0 12.0,0a6.0,6.0 0 1,0 -12.0,0M1411.7,2656.9a6.0,6.0 0 1,0 12.0,0a6.0,6.0 0 1,0 -12.0,0M1413.5,2524.8a6.0,6.0 0 1,0 12.0,0a6.0,6.0 0 1,0 -12.0,0M1413.0,2693.9a6.0,6.0 0 1,0 12.0,0a6.0,6.0 0 1,0 -12.0,0M1439.7,2523.0a6.0,6.0 0 1,0 12.0,0a6.0,6.0 0 1,0 -12.0,0M1440.7,2608.7a6.0,6.0 0 1,0 12.0,0a6.0,6.0 0 1,0 -12.0,0M1441.7,2524.1a6.0,6.0 0 1,0 12.0,0a6.0,6.0 0 1,0 -12.0,0M1441.0,2521.5a6.0,6.0 0 1,0 12.0,0a6.0,6.0 0 1,0 -12.0,0M1441.3,2594.7a6.0,6.0 0 1,0 12.0,0a6.0,6.0 0 1,0 -12.0,0M1441.4,2692.1a6.0,6.0 0 1,0 12.0,0a6.0,6.0 0 1,0 -12.0,0M1441.0,2660.9a6.0,6.0 0 1,0 12.0,0a6.0,6.0 0 1,0 -12.0,0M1439.2,2544.0a6.0,6.0 0 1,0 12.0,0a6.0,6.0 0 1,0 -12.0,0M1439.9,2605.8a6.0,6.0 0 1,0 12.0,0a6.0,6.0 0 1,0 -12.0,0M1442.3,2590.1a6.0,6.0 0 1,0 12.0,0a6.0,6.0 0 1,0 -12.0,0M1440.6,2597.3a6.0,6.0 0 1,0 12.0,0a6.0,6.0 0 1,0 -12.0,0M1441.5,2546.8a6.0,6.0 0 1,0 12.0,0a6.0,6.0 0 1,0 -12.0,0M1439.6,2589.3a6.0,6.0 0 1,0 12.0,0a6.0,6.0 0 1,0 -12.0,0M1440.2,2643.1a6.0,6.0 0 1,0 12.0,0a6.0,6.0 0 1,0 -12.0,0M1442.5,2599.3a6.0,6.0 0 1,0 12.0,0a6.0,6.0 0 1,0 -12.0,0M1441.3,2693.9a6.0,6.0 0 1,0 12.0,0a6.0,6.0 0 1,0 -12.0,0M1460.5,2632.7a6.0,6.0 0 1,0 12.0,0a6.0,6.0 0 1,0 -12.0,0M1463.0,2598.4a6.0,6.0 0 1,0 12.0,0a6.0,6.0 0 1,0 -12.0,0M1460.7,2508.7a6.0,6.0 0 1,0 12.0,0a6.0,6.0 0 1,0 -12.0,0M1463.7,2511.3a6.0,6.0 0 1,0 12.0,0a6.0,6.0 0 1,0 -12.0,0M1460.8,2645.3a6.0,6.0 0 1,0 12.0,0a6.0,6.0 0 1,0 -12.0,0M1460.6,2547.8a6.0,6.0 0 1,0 12.0,0a6.0,6.0 0 1,0 -12.0,0M1461.5,2671.1a6.0,6.0 0 1,0 12.0,0a6.0,6.0 0 1,0 -12.0,0M1462.2,2522.7a6.0,6.0 0 1,0 12.0,0a6.0,6.0 0 1,0 -12.0,0M1463.9,2646.6a6.0,6.0 0 1,0 12.0,0a6.0,6.0 0 1,0 -12.0,0M1461.0,2521.2a6.0,6.0 0 1,0 12.0,0a6.0,6.0 0 1,0 -12.0,0M1462.8,2562.7a6.0,6.0 0 1,0 12.0,0a6.0,6.0 0 1,0 -12.0,0M1460.8,2684.7a6.0,6.0 0 1,0 12.0,0a6.0,6.0 0 1,0 -12.0,0M1463.3,2614.9a6.0,6.0 0 1,0 12.0,0a6.0,6.0 0 1,0 -12.0,0M1460.7,2517.6a6.0,6.0 0 1,0 12.0,0a6.0,6.0 0 1,0 -12.0,0M1463.1,2543.5a6.0,6.0 0 1,0 12.0,0a6.0,6.0 0 1,0 -12.0,0M1460.7,2533.2a6.0,6.0 0 1,0 12.0,0a6.0,6.0 0 1,0 -12.0,0M1460.7,2531.9a6.0,6.0 0 1,0 12.0,0a6.0,6.0 0 1,0 -12.0,0M1462.5,2693.9a6.0,6.0 0 1,0 12.0,0a6.0,6.0 0 1,0 -12.0,0M1482.3,2611.1a6.0,6.0 0 1,0 12.0,0a6.0,6.0 0 1,0 -12.0,0M1482.7,2513.2a6.0,6.0 0 1,0 12.0,0a6.0,6.0 0 1,0 -12.0,0M1485.7,2591.8a6.0,6.0 0 1,0 12.0,0a6.0,6.0 0 1,0 -12.0,0M1482.6,2512.4a6.0,6.0 0 1,0 12.0,0a6.0,6.0 0 1,0 -12.0,0M1482.9,2628.0a6.0,6.0 0 1,0 12.0,0a6.0,6.0 0 1,0 -12.0,0M1481.6,2623.2a6.0,6.0 0 1,0 12.0,0a6.0,6.0 0 1,0 -12.0,0M1483.6,2600.3a6.0,6.0 0 1,0 12.0,0a6.0,6.0 0 1,0 -12.0,0M1482.5,2599.9a6.0,6.0 0 1,0 12.0,0a6.0,6.0 0 1,0 -12.0,0M1481.6,2645.5a6.0,6.0 0 1,0 12.0,0a6.0,6.0 0 1,0 -12.0,0M1482.0,2619.8a6.0,6.0 0 1,0 12.0,0a6.0,6.0 0 1,0 -12.0,0M1481.8,2691.4a6.0,6.0 0 1,0 12.0,0a6.0,6.0 0 1,0 -12.0,0M1482.9,2651.5a6.0,6.0 0 1,0 12.0,0a6.0,6.0 0 1,0 -12.0,0M1484.1,2595.2a6.0,6.0 0 1,0 12.0,0a6.0,6.0 0 1,0 -12.0,0M1484.8,2570.9a6.0,6.0 0 1,0 12.0,0a6.0,6.0 0 1,0 -12.0,0M1484.6,2528.8a6.0,6.0 0 1,0 12.0,0a6.0,6.0 0 1,0 -12.0,0M1483.3,2633.8a6.0,6.0 0 1,0 12.0,0a6.0,6.0 0 1,0 -12.0,0M1485.8,2667.3a6.0,6.0 0 1,0 12.0,0a6.0,6.0 0 1,0 -12.0,0M1484.7,2573.6a6.0,6.0 0 1,0 12.0,0a6.0,6.0 0 1,0 -12.0,0M1483.7,2693.9a6.0,6.0 0 1,0 12.0,0a6.0,6.0 0 1,0 -12.0,0M1503.9,2640.5a6.0,6.0 0 1,0 12.0,0a6.0,6.0 0 1,0 -12.0,0M1503.2,2607.5a6.0,6.0 0 1,0 12.0,0a6.0,6.0 0 1,0 -12.0,0M1503.0,2673.2a6.0,6.0 0 1,0 12.0,0a6.0,6.0 0 1,0 -12.0,0M1504.8,2657.8a6.0,6.0 0 1,0 12.0,0a6.0,6.0 0 1,0 -12.0,0M1505.2,2518.0a6.0,6.0 0 1,0 12.0,0a6.0,6.0 0 1,0 -12.0,0M1501.1,2608.6a6.0,6.0 0 1,0 12.0,0a6.0,6.0 0 1,0 -12.0,0M1504.5,2512.0a6.0,6.0 0 1,0 12.0,0a6.0,6.0 0 1,0 -12.0,0M1503.0,2644.7a6.0,6.0 0 1,0 12.0,0a6.0,6.0 0 1,0 -12.0,0M1501.9,2516.2a6.0,6.0 0 1,0 12.0,0a6.0,6.0 0 1,0 -12.0,0M1501.9,2585.3a6.0,6.0 0 1,0 12.0,0a6.0,6.0 0 1,0 -12.0,0M1501.6,2596.2a6.0,6.0 0 1,0 12.0,0a6.0,6.0 0 1,0 -12.0,0M1505.1,2670.5a6.0,6.0 0 1,0 12.0,0a6.0,6.0 0 1,0 -12.0,0M1504.5,2599.1a6.0,6.0 0 1,0 12.0,0a6.0,6.0 0 1,0 -12.0,0M1504.8,2562.2a6.0,6.0 0 1,0 12.0,0a6.0,6.0 0 1,0 -12.0,0M1502.0,2525.3a6.0,6.0 0 1,0 12.0,0a6.0,6.0 0 1,0 -12.0,0M1503.1,2690.9a6.0,6.0 0 1,0 12.0,0a6.0,6.0 0 1,0 -12.0,0M1501.1,2602.4a6.0,6.0 0 1,0 12.0,0a6.0,6.0 0 1,0 -12.0,0M1503.0,2638.4a6.0,6.0 0 1,0 12.0,0a6.0,6.0 0 1,0 -12.0,0M1501.6,2630.4a6.0,6.0 0 1,0 12.0,0a6.0,6.0 0 1,0 -12.0,0M1502.4,2536.2a6.0,6.0 0 1,0 12.0,0a6.0,6.0 0 1,0 -12.0,0M1503.2,2693.9a6.0,6.0 0 1,0 12.0,0a6.0,6.0 0 1,0 -12.0,0M1520.2,2678.4a6.0,6.0 0 1,0 12.0,0a6.0,6.0 0 1,0 -12.0,0M1519.7,2646.6a6.0,6.0 0 1,0 12.0,0a6.0,6.0 0 1,0 -12.0,0M1521.1,2527.3a6.0,6.0 0 1,0 12.0,0a6.0,6.0 0 1,0 -12.0,0M1521.9,2617.3a6.0,6.0 0 1,0 12.0,0a6.0,6.0 0 1,0 -12.0,0M1520.5,2596.2a6.0,6.0 0 1,0 12.0,0a6.0,6.0 0 1,0 -12.0,0M1520.3,2631.5a6.0,6.0 0 1,0 12.0,0a6.0,6.0 0 1,0 -12.0,0M1519.0,2643.0a6.0,6.0 0 1,0 12.0,0a6.0,6.0 0 1,0 -12.0,0M1522.8,2671.8a6.0,6.0 0 1,0 12.0,0a6.0,6.0 0 1,0 -12.0,0M1520.9,2576.2a6.0,6.0 0 1,0 12.0,0a6.0,6.0 0 1,0 -12.0,0M1522.4,2654.7a6.0,6.0 0 1,0 12.0,0a6.0,6.0 0 1,0 -12.0,0M1519.9,2648.5a6.0,6.0 0 1,0 12.0,0a6.0,6.0 0 1,0 -12.0,0M1520.4,2611.0a6.0,6.0 0 1,0 12.0,0a6.0,6.0 0 1,0 -12.0,0M1522.8,2534.6a6.0,6.0 0 1,0 12.0,0a6.0,6.0 0 1,0 -12.0,0M1522.4,2691.5a6.0,6.0 0 1,0 12.0,0a6.0,6.0 0 1,0 -12.0,0M1518.9,2561.0a6.0,6.0 0 1,0 12.0,0a6.0,6.0 0 1,0 -12.0,0M1522.5,2605.8a6.0,6.0 0 1,0 12.0,0a6.0,6.0 0 1,0 -12.0,0M1521.2,2695.6a6.0,6.0 0 1,0 12.0,0a6.0,6.0 0 1,0 -12.0,0M1520.4,2519.8a6.0,6.0 0 1,0 12.0,0a6.0,6.0 0 1,0 -12.0,0M1522.2,2533.3a6.0,6.0 0 1,0 12.0,0a6.0,6.0 0 1,0 -12.0,0M1522.8,2648.5a6.0,6.0 0 1,0 12.0,0a6.0,6.0 0 1,0 -12.0,0M1519.2,2666.4a6.0,6.0 0 1,0 12.0,0a6.0,6.0 0 1,0 -12.0,0M1520.8,2693.9a6.0,6.0 0 1,0 12.0,0a6.0,6.0 0 1,0 -12.0,0M1535.5,2510.8a6.0,6.0 0 1,0 12.0,0a6.0,6.0 0 1,0 -12.0,0M1535.2,2685.8a6.0,6.0 0 1,0 12.0,0a6.0,6.0 0 1,0 -12.0,0M1534.9,2621.0a6.0,6.0 0 1,0 12.0,0a6.0,6.0 0 1,0 -12.0,0M1538.4,2528.0a6.0,6.0 0 1,0 12.0,0a6.0,6.0 0 1,0 -12.0,0M1537.7,2506.4a6.0,6.0 0 1,0 12.0,0a6.0,6.0 0 1,0 -12.0,0M1538.6,2633.2a6.0,6.0 0 1,0 12.0,0a6.0,6.0 0 1,0 -12.0,0M1535.4,2518.1a6.0,6.0 0 1,0 12.0,0a6.0,6.0 0 1,0 -12.0,0M1537.8,2689.6a6.0,6.0 0 1,0 12.0,0a6.0,6.0 0 1,0 -12.0,0M1537.4,2623.8a6.0,6.0 0 1,0 12.0,0a6.0,6.0 0 1,0 -12.0,0M1536.2,2632.7a6.0,6.0 0 1,0 12.0,0a6.0,6.0 0 1,0 -12.0,0M1535.3,2695.1a6.0,6.0 0 1,0 12.0,0a6.0,6.0 0 1,0 -12.0,0M1535.8,2629.0a6.0,6.0 0 1,0 12.0,0a6.0,6.0 0 1,0 -12.0,0M1538.7,2672.2a6.0,6.0 0 1,0 12.0,0a6.0,6.0 0 1,0 -12.0,0M1538.7,2656.3a6.0,6.0 0 1,0 12.0,0a6.0,6.0 0 1,0 -12.0,0M1536.1,2539.8a6.0,6.0 0 1,0 12.0,0a6.0,6.0 0 1,0 -12.0,0M1538.1,2613.6a6.0,6.0 0 1,0 12.0,0a6.0,6.0 0 1,0 -12.0,0M1534.8,2605.8a6.0,6.0 0 1,0 12.0,0a6.0,6.0 0 1,0 -12.0,0M1536.2,2521.2a6.0,6.0 0 1,0 12.0,0a6.0,6.0 0 1,0 -12.0,0M1535.4,2626.5a6.0,6.0 0 1,0 12.0,0a6.0,6.0 0 1,0 -12.0,0M1538.4,2689.9a6.0,6.0 0 1,0 12.0,0a6.0,6.0 0 1,0 -12.0,0M1536.4,2541.6a6.0,6.0 0 1,0 12.0,0a6.0,6.0 0 1,0 -12.0,0M1537.9,2687.9a6.0,6.0 0 1,0 12.0,0a6.0,6.0 0 1,0 -12.0,0M1534.8,2683.8a6.0,6.0 0 1,0 12.0,0a6.0,6.0 0 1,0 -12.0,0M1536.7,2693.9a6.0,6.0 0 1,0 12.0,0a6.0,6.0 0 1,0 -12.0,0M1550.4,2507.3a6.0,6.0 0 1,0 12.0,0a6.0,6.0 0 1,0 -12.0,0M1550.9,2651.7a6.0,6.0 0 1,0 12.0,0a6.0,6.0 0 1,0 -12.0,0M1552.2,2571.7a6.0,6.0 0 1,0 12.0,0a6.0,6.0 0 1,0 -12.0,0M1553.0,2676.2a6.0,6.0 0 1,0 12.0,0a6.0,6.0 0 1,0 -12.0,0M1550.8,2540.2a6.0,6.0 0 1,0 12.0,0a6.0,6.0 0 1,0 -12.0,0M1552.3,2522.1a6.0,6.0 0 1,0 12.0,0a6.0,6.0 0 1,0 -12.0,0M1548.9,2639.9a6.0,6.0 0 1,0 12.0,0a6.0,6.0 0 1,0 -12.0,0M1549.3,2659.7a6.0,6.0 0 1,0 12.0,0a6.0,6.0 0 1,0 -12.0,0M1552.9,2585.0a6.0,6.0 0 1,0 12.0,0a6.0,6.0 0 1,0 -12.0,0M1552.7,2625.0a6.0,6.0 0 1,0 12.0,0a6.0,6.0 0 1,0 -12.0,0M1552.4,2610.4a6.0,6.0 0 1,0 12.0,0a6.0,6.0 0 1,0 -12.0,0M1549.9,2548.1a6.0,6.0 0 1,0 12.0,0a6.0,6.0 0 1,0 -12.0,0M1550.9,2693.9a6.0,6.0 0 1,0 12.0,0a6.0,6.0 0 1,0 -12.0,0M1563.3,2577.6a6.0,6.0 0 1,0 12.0,0a6.0,6.0 0 1,0 -12.0,0M1564.5,2599.9a6.0,6.0 0 1,0 12.0,0a6.0,6.0 0 1,0 -12.0,0M1563.5,2641.9a6.0,6.0 0 1,0 12.0,0a6.0,6.0 0 1,0 -12.0,0M1565.1,2520.0a6.0,6.0 0 1,0 12.0,0a6.0,6.0 0 1,0 -12.0,0M1563.4,2602.6a6.0,6.0 0 1,0 12.0,0a6.0,6.0 0 1,0 -12.0,0M1566.3,2512.2a6.0,6.0 0 1,0 12.0,0a6.0,6.0 0 1,0 -12.0,0M1563.7,2671.6a6.0,6.0 0 1,0 12.0,0a6.0,6.0 0 1,0 -12.0,0M1566.9,2510.5a6.0,6.0 0 1,0 12.0,0a6.0,6.0 0 1,0 -12.0,0M1565.0,2685.5a6.0,6.0 0 1,0 12.0,0a6.0,6.0 0 1,0 -12.0,0M1566.8,2622.0a6.0,6.0 0 1,0 12.0,0a6.0,6.0 0 1,0 -12.0,0M1566.7,2577.9a6.0,6.0 0 1,0 12.0,0a6.0,6.0 0 1,0 -12.0,0M1566.4,2665.2a6.0,6.0 0 1,0 12.0,0a6.0,6.0 0 1,0 -12.0,0M1565.0,2693.9a6.0,6.0 0 1,0 12.0,0a6.0,6.0 0 1,0 -12.0,0M1580.7,2506.6a6.0,6.0 0 1,0 12.0,0a6.0,6.0 0 1,0 -12.0,0M1580.2,2541.0a6.0,6.0 0 1,0 12.0,0a6.0,6.0 0 1,0 -12.0,0M1577.9,2509.4a6.0,6.0 0 1,0 12.0,0a6.0,6.0 0 1,0 -12.0,0M1579.1,2514.1a6.0,6.0 0 1,0 12.0,0a6.0,6.0 0 1,0 -12.0,0M1580.9,2664.3a6.0,6.0 0 1,0 12.0,0a6.0,6.0 0 1,0 -12.0,0M1580.4,2519.1a6.0,6.0 0 1,0 12.0,0a6.0,6.0 0 1,0 -12.0,0M1577.3,2629.1a6.0,6.0 0 1,0 12.0,0a6.0,6.0 0 1,0 -12.0,0M1580.3,2665.5a6.0,6.0 0 1,0 12.0,0a6.0,6.0 0 1,0 -12.0,0M1580.8,2643.5a6.0,6.0 0 1,0 12.0,0a6.0,6.0 0 1,0 -12.0,0M1580.5,2668.4a6.0,6.0 0 1,0 12.0,0a6.0,6.0 0 1,0 -12.0,0M1579.2,2521.1a6.0,6.0 0 1,0 12.0,0a6.0,6.0 0 1,0 -12.0,0M1577.9,2645.8a6.0,6.0 0 1,0 12.0,0a6.0,6.0 0 1,0 -12.0,0M1579.2,2693.9a6.0,6.0 0 1,0 12.0,0a6.0,6.0 0 1,0 -12.0,0M1592.1,2605.5a6.0,6.0 0 1,0 12.0,0a6.0,6.0 0 1,0 -12.0,0M1590.0,2517.9a6.0,6.0 0 1,0 12.0,0a6.0,6.0 0 1,0 -12.0,0M1590.5,2667.3a6.0,6.0 0 1,0 12.0,0a6.0,6.0 0 1,0 -12.0,0M1589.8,2574.5a6.0,6.0 0 1,0 12.0,0a6.0,6.0 0 1,0 -12.0,0M1593.1,2547.2a6.0,6.0 0 1,0 12.0,0a6.0,6.0 0 1,0 -12.0,0M1591.1,2645.5a6.0,6.0 0 1,0 12.0,0a6.0,6.0 0 1,0 -12.0,0M1589.5,2573.3a6.0,6.0 0 1,0 12.0,0a6.0,6.0 0 1,0 -12.0,0M1591.8,2629.2a6.0,6.0 0 1,0 12.0,0a6.0,6.0 0 1,0 -12.0,0M1592.2,2611.4a6.0,6.0 0 1,0 12.0,0a6.0,6.0 0 1,0 -12.0,0M1593.4,2556.5a6.0,6.0 0 1,0 12.0,0a6.0,6.0 0 1,0 -12.0,0M1590.5,2524.2a6.0,6.0 0 1,0 12.0,0a6.0,6.0 0 1,0 -12.0,0M1589.6,2594.8a6.0,6.0 0 1,0 12.0,0a6.0,6.0 0 1,0 -12.0,0M1591.5,2693.9a6.0,6.0 0 1,0 12.0,0a6.0,6.0 0 1,0 -12.0,0M1605.6,2536.3a6.0,6.0 0 1,0 12.0,0a6.0,6.0 0 1,0 -12.0,0M1606.5,2532.9a6.0,6.0 0 1,0 12.0,0a6.0,6.0 0 1,0 -12.0,0M1605.4,2558.2a6.0,6.0 0 1,0 12.0,0a6.0,6.0 0 1,0 -12.0,0M1606.0,2637.3a6.0,6.0 0 1,0 12.0,0a6.0,6.0 0 1,0 -12.0,0M1604.5,2577.5a6.0,6.0 0 1,0 12.0,0a6.0,6.0 0 1,0 -12.0,0M1603.9,2522.8a6.0,6.0 0 1,0 12.0,0a6.0,6.0 0 1,0 -12.0,0M1604.2,2690.5a6.0,6.0 0 1,0 12.0,0a6.0,6.0 0 1,0 -12.0,0M1604.0,2519.4a6.0,6.0 0 1,0 12.0,0a6.0,6.0 0 1,0 -12.0,0M1605.0,2668.7a6.0,6.0 0 1,0 12.0,0a6.0,6.0 0 1,0 -12.0,0M1603.7,2687.7a6.0,6.0 0 1,0 12.0,0a6.0,6.0 0 1,0 -12.0,0M1606.5,2575.4a6.0,6.0 0 1,0 12.0,0a6.0,6.0 0 1,0 -12.0,0M1606.5,2555.8a6.0,6.0 0 1,0 12.0,0a6.0,6.0 0 1,0 -12.0,0M1605.7,2693.9a6.0,6.0 0 1,0 12.0,0a6.0,6.0 0 1,0 -12.0,0M1672.8,2590.5a6.0,6.0 0 1,0 12.0,0a6.0,6.0 0 1,0 -12.0,0M1786.7,2558.7a6.0,6.0 0 1,0 12.0,0a6.0,6.0 0 1,0 -12.0,0M1625.2,2543.2a6.0,6.0 0 1,0 12.0,0a6.0,6.0 0 1,0 -12.0,0M1617.2,2526.2a6.0,6.0 0 1,0 12.0,0a6.0,6.0 0 1,0 -12.0,0M1786.1,2526.3a6.0,6.0 0 1,0 12.0,0a6.0,6.0 0 1,0 -12.0,0M1767.1,2574.7a6.0,6.0 0 1,0 12.0,0a6.0,6.0 0 1,0 -12.0,0M1705.0,2570.3a6.0,6.0 0 1,0 12.0,0a6.0,6.0 0 1,0 -12.0,0M1839.0,2604.9a6.0,6.0 0 1,0 12.0,0a6.0,6.0 0 1,0 -12.0,0M1838.5,2611.8a6.0,6.0 0 1,0 12.0,0a6.0,6.0 0 1,0 -12.0,0M1651.5,2585.1a6.0,6.0 0 1,0 12.0,0a6.0,6.0 0 1,0 -12.0,0M1842.0,2558.4a6.0,6.0 0 1,0 12.0,0a6.0,6.0 0 1,0 -12.0,0M1699.0,2515.5a6.0,6.0 0 1,0 12.0,0a6.0,6.0 0 1,0 -12.0,0M1659.1,2562.9a6.0,6.0 0 1,0 12.0,0a6.0,6.0 0 1,0 -12.0,0M1740.7,2530.0a6.0,6.0 0 1,0 12.0,0a6.0,6.0 0 1,0 -12.0,0M1801.4,2542.1a6.0,6.0 0 1,0 12.0,0a6.0,6.0 0 1,0 -12.0,0M1690.5,2577.9a6.0,6.0 0 1,0 12.0,0a6.0,6.0 0 1,0 -12.0,0M1637.6,2520.0a6.0,6.0 0 1,0 12.0,0a6.0,6.0 0 1,0 -12.0,0M1776.5,2531.4a6.0,6.0 0 1,0 12.0,0a6.0,6.0 0 1,0 -12.0,0M1641.5,2565.4a6.0,6.0 0 1,0 12.0,0a6.0,6.0 0 1,0 -12.0,0M1807.0,2549.6a6.0,6.0 0 1,0 12.0,0a6.0,6.0 0 1,0 -12.0,0M1629.6,2562.8a6.0,6.0 0 1,0 12.0,0a6.0,6.0 0 1,0 -12.0,0M1837.6,2587.9a6.0,6.0 0 1,0 12.0,0a6.0,6.0 0 1,0 -12.0,0M1647.6,2580.8a6.0,6.0 0 1,0 12.0,0a6.0,6.0 0 1,0 -12.0,0M1787.7,2520.0a6.0,6.0 0 1,0 12.0,0a6.0,6.0 0 1,0 -12.0,0M1637.4,2597.1a6.0,6.0 0 1,0 12.0,0a6.0,6.0 0 1,0 -12.0,0M1662.9,2578.0a6.0,6.0 0 1,0 12.0,0a6.0,6.0 0 1,0 -12.0,0M1738.1,2596.5a6.0,6.0 0 1,0 12.0,0a6.0,6.0 0 1,0 -12.0,0M1685.0,2593.4a6.0,6.0 0 1,0 12.0,0a6.0,6.0 0 1,0 -12.0,0M1862.2,2532.9a6.0,6.0 0 1,0 12.0,0a6.0,6.0 0 1,0 -12.0,0M1623.0,2506.7a6.0,6.0 0 1,0 12.0,0a6.0,6.0 0 1,0 -12.0,0M1622.9,2571.5a6.0,6.0 0 1,0 12.0,0a6.0,6.0 0 1,0 -12.0,0M1864.6,2525.4a6.0,6.0 0 1,0 12.0,0a6.0,6.0 0 1,0 -12.0,0M1796.0,2565.8a6.0,6.0 0 1,0 12.0,0a6.0,6.0 0 1,0 -12.0,0M1648.8,2543.0a6.0,6.0 0 1,0 12.0,0a6.0,6.0 0 1,0 -12.0,0M1624.4,2591.4a6.0,6.0 0 1,0 12.0,0a6.0,6.0 0 1,0 -12.0,0M1701.5,2610.8a6.0,6.0 0 1,0 12.0,0a6.0,6.0 0 1,0 -12.0,0M1704.4,2525.9a6.0,6.0 0 1,0 12.0,0a6.0,6.0 0 1,0 -12.0,0M1785.1,2558.5a6.0,6.0 0 1,0 12.0,0a6.0,6.0 0 1,0 -12.0,0M1768.3,2562.6a6.0,6.0 0 1,0 12.0,0a6.0,6.0 0 1,0 -12.0,0M1633.9,2546.9a6.0,6.0 0 1,0 12.0,0a6.0,6.0 0 1,0 -12.0,0M1706.0,2531.5a6.0,6.0 0 1,0 12.0,0a6.0,6.0 0 1,0 -12.0,0M1843.8,2566.4a6.0,6.0 0 1,0 12.0,0a6.0,6.0 0 1,0 -12.0,0M1752.3,2530.6a6.0,6.0 0 1,0 12.0,0a6.0,6.0 0 1,0 -12.0,0M1710.5,2588.9a6.0,6.0 0 1,0 12.0,0a6.0,6.0 0 1,0 -12.0,0M1792.9,2515.9a6.0,6.0 0 1,0 12.0,0a6.0,6.0 0 1,0 -12.0,0M1807.1,2536.1a6.0,6.0 0 1,0 12.0,0a6.0,6.0 0 1,0 -12.0,0M1828.6,2538.4a6.0,6.0 0 1,0 12.0,0a6.0,6.0 0 1,0 -12.0,0M1770.8,2563.7a6.0,6.0 0 1,0 12.0,0a6.0,6.0 0 1,0 -12.0,0M1680.8,2544.1a6.0,6.0 0 1,0 12.0,0a6.0,6.0 0 1,0 -12.0,0M1621.9,2567.5a6.0,6.0 0 1,0 12.0,0a6.0,6.0 0 1,0 -12.0,0M1809.4,2534.6a6.0,6.0 0 1,0 12.0,0a6.0,6.0 0 1,0 -12.0,0M1767.6,2586.5a6.0,6.0 0 1,0 12.0,0a6.0,6.0 0 1,0 -12.0,0M1711.1,2563.5a6.0,6.0 0 1,0 12.0,0a6.0,6.0 0 1,0 -12.0,0M1765.4,2568.7a6.0,6.0 0 1,0 12.0,0a6.0,6.0 0 1,0 -12.0,0M1780.1,2510.3a6.0,6.0 0 1,0 12.0,0a6.0,6.0 0 1,0 -12.0,0M1645.2,2541.2a6.0,6.0 0 1,0 12.0,0a6.0,6.0 0 1,0 -12.0,0M1808.3,2571.0a6.0,6.0 0 1,0 12.0,0a6.0,6.0 0 1,0 -12.0,0M1729.3,2505.3a6.0,6.0 0 1,0 12.0,0a6.0,6.0 0 1,0 -12.0,0M1605.5,2553.7a6.0,6.0 0 1,0 12.0,0a6.0,6.0 0 1,0 -12.0,0M1639.1,2526.9a6.0,6.0 0 1,0 12.0,0a6.0,6.0 0 1,0 -12.0,0M1852.8,2556.4a6.0,6.0 0 1,0 12.0,0a6.0,6.0 0 1,0 -12.0,0M1622.8,2550.2a6.0,6.0 0 1,0 12.0,0a6.0,6.0 0 1,0 -12.0,0M1743.3,2534.1a6.0,6.0 0 1,0 12.0,0a6.0,6.0 0 1,0 -12.0,0M1735.4,2542.9a6.0,6.0 0 1,0 12.0,0a6.0,6.0 0 1,0 -12.0,0M1822.2,2556.1a6.0,6.0 0 1,0 12.0,0a6.0,6.0 0 1,0 -12.0,0M1707.5,2508.3a6.0,6.0 0 1,0 12.0,0a6.0,6.0 0 1,0 -12.0,0M1652.6,2537.8a6.0,6.0 0 1,0 12.0,0a6.0,6.0 0 1,0 -12.0,0M1702.6,2529.1a6.0,6.0 0 1,0 12.0,0a6.0,6.0 0 1,0 -12.0,0M1628.6,2504.2a6.0,6.0 0 1,0 12.0,0a6.0,6.0 0 1,0 -12.0,0M1692.5,2608.2a6.0,6.0 0 1,0 12.0,0a6.0,6.0 0 1,0 -12.0,0M1670.2,2569.8a6.0,6.0 0 1,0 12.0,0a6.0,6.0 0 1,0 -12.0,0M1598.7,2567.6a6.0,6.0 0 1,0 12.0,0a6.0,6.0 0 1,0 -12.0,0M1710.3,2536.3a6.0,6.0 0 1,0 12.0,0a6.0,6.0 0 1,0 -12.0,0M1691.5,2584.8a6.0,6.0 0 1,0 12.0,0a6.0,6.0 0 1,0 -12.0,0M1656.6,2531.4a6.0,6.0 0 1,0 12.0,0a6.0,6.0 0 1,0 -12.0,0M1852.6,2555.5a6.0,6.0 0 1,0 12.0,0a6.0,6.0 0 1,0 -12.0,0M1655.0,2524.7a6.0,6.0 0 1,0 12.0,0a6.0,6.0 0 1,0 -12.0,0M1702.5,2590.8a6.0,6.0 0 1,0 12.0,0a6.0,6.0 0 1,0 -12.0,0M1630.5,2527.5a6.0,6.0 0 1,0 12.0,0a6.0,6.0 0 1,0 -12.0,0M1816.9,2543.5a6.0,6.0 0 1,0 12.0,0a6.0,6.0 0 1,0 -12.0,0M1723.6,2551.6a6.0,6.0 0 1,0 12.0,0a6.0,6.0 0 1,0 -12.0,0M1657.0,2506.5a6.0,6.0 0 1,0 12.0,0a6.0,6.0 0 1,0 -12.0,0M1691.8,2542.9a6.0,6.0 0 1,0 12.0,0a6.0,6.0 0 1,0 -12.0,0M1819.4,2523.1a6.0,6.0 0 1,0 12.0,0a6.0,6.0 0 1,0 -12.0,0M1723.3,2581.6a6.0,6.0 0 1,0 12.0,0a6.0,6.0 0 1,0 -12.0,0M1745.3,2600.5a6.0,6.0 0 1,0 12.0,0a6.0,6.0 0 1,0 -12.0,0M1823.5,2574.8a6.0,6.0 0 1,0 12.0,0a6.0,6.0 0 1,0 -12.0,0M1828.1,2584.6a6.0,6.0 0 1,0 12.0,0a6.0,6.0 0 1,0 -12.0,0M1698.1,2586.1a6.0,6.0 0 1,0 12.0,0a6.0,6.0 0 1,0 -12.0,0M1711.8,2593.7a6.0,6.0 0 1,0 12.0,0a6.0,6.0 0 1,0 -12.0,0M1595.8,2533.6a6.0,6.0 0 1,0 12.0,0a6.0,6.0 0 1,0 -12.0,0M1672.1,2587.1a6.0,6.0 0 1,0 12.0,0a6.0,6.0 0 1,0 -12.0,0M1677.8,2560.8a6.0,6.0 0 1,0 12.0,0a6.0,6.0 0 1,0 -12.0,0M1712.5,2543.1a6.0,6.0 0 1,0 12.0,0a6.0,6.0 0 1,0 -12.0,0M1775.7,2573.9a6.0,6.0 0 1,0 12.0,0a6.0,6.0 0 1,0 -12.0,0M1849.5,2518.8a6.0,6.0 0 1,0 12.0,0a6.0,6.0 0 1,0 -12.0,0M1610.7,2521.7a6.0,6.0 0 1,0 12.0,0a6.0,6.0 0 1,0 -12.0,0M1843.2,2526.7a6.0,6.0 0 1,0 12.0,0a6.0,6.0 0 1,0 -12.0,0M1633.5,2521.4a6.0,6.0 0 1,0 12.0,0a6.0,6.0 0 1,0 -12.0,0M1768.5,2612.9a6.0,6.0 0 1,0 12.0,0a6.0,6.0 0 1,0 -12.0,0M1598.2,2507.9a6.0,6.0 0 1,0 12.0,0a6.0,6.0 0 1,0 -12.0,0M1774.8,2586.5a6.0,6.0 0 1,0 12.0,0a6.0,6.0 0 1,0 -12.0,0M1622.9,2598.6a6.0,6.0 0 1,0 12.0,0a6.0,6.0 0 1,0 -12.0,0M1659.1,2527.5a6.0,6.0 0 1,0 12.0,0a6.0,6.0 0 1,0 -12.0,0M1690.0,2597.5a6.0,6.0 0 1,0 12.0,0a6.0,6.0 0 1,0 -12.0,0M1842.8,2525.8a6.0,6.0 0 1,0 12.0,0a6.0,6.0 0 1,0 -12.0,0M1641.1,2514.7a6.0,6.0 0 1,0 12.0,0a6.0,6.0 0 1,0 -12.0,0M1761.7,2527.0a6.0,6.0 0 1,0 12.0,0a6.0,6.0 0 1,0 -12.0,0M1778.2,2514.3a6.0,6.0 0 1,0 12.0,0a6.0,6.0 0 1,0 -12.0,0M1811.0,2520.5a6.0,6.0 0 1,0 12.0,0a6.0,6.0 0 1,0 -12.0,0M1649.1,2536.9a6.0,6.0 0 1,0 12.0,0a6.0,6.0 0 1,0 -12.0,0M1740.5,2531.4a6.0,6.0 0 1,0 12.0,0a6.0,6.0 0 1,0 -12.0,0M1715.2,2515.6a6.0,6.0 0 1,0 12.0,0a6.0,6.0 0 1,0 -12.0,0M1747.1,2584.9a6.0,6.0 0 1,0 12.0,0a6.0,6.0 0 1,0 -12.0,0M1659.2,2599.0a6.0,6.0 0 1,0 12.0,0a6.0,6.0 0 1,0 -12.0,0M1730.2,2608.0a6.0,6.0 0 1,0 12.0,0a6.0,6.0 0 1,0 -12.0,0M1723.0,2598.4a6.0,6.0 0 1,0 12.0,0a6.0,6.0 0 1,0 -12.0,0M1729.7,2558.7a6.0,6.0 0 1,0 12.0,0a6.0,6.0 0 1,0 -12.0,0M1742.9,2517.8a6.0,6.0 0 1,0 12.0,0a6.0,6.0 0 1,0 -12.0,0M1596.9,2520.3a6.0,6.0 0 1,0 12.0,0a6.0,6.0 0 1,0 -12.0,0M1723.3,2551.5a6.0,6.0 0 1,0 12.0,0a6.0,6.0 0 1,0 -12.0,0M1777.3,2520.3a6.0,6.0 0 1,0 12.0,0a6.0,6.0 0 1,0 -12.0,0M1697.8,2567.6a6.0,6.0 0 1,0 12.0,0a6.0,6.0 0 1,0 -12.0,0M1858.2,2606.1a6.0,6.0 0 1,0 12.0,0a6.0,6.0 0 1,0 -12.0,0M1769.6,2543.2a6.0,6.0 0 1,0 12.0,0a6.0,6.0 0 1,0 -12.0,0M1602.9,2546.2a6.0,6.0 0 1,0 12.0,0a6.0,6.0 0 1,0 -12.0,0M1782.1,2510.1a6.0,6.0 0 1,0 12.0,0a6.0,6.0 0 1,0 -12.0,0M1685.6,2504.5a6.0,6.0 0 1,0 12.0,0a6.0,6.0 0 1,0 -12.0,0M1735.0,2560.2a6.0,6.0 0 1,0 12.0,0a6.0,6.0 0 1,0 -12.0,0M1841.0,2610.8a6.0,6.0 0 1,0 12.0,0a6.0,6.0 0 1,0 -12.0,0M1791.8,2544.5a6.0,6.0 0 1,0 12.0,0a6.0,6.0 0 1,0 -12.0,0M1687.8,2518.0a6.0,6.0 0 1,0 12.0,0a6.0,6.0 0 1,0 -12.0,0M1695.4,2561.4a6.0,6.0 0 1,0 12.0,0a6.0,6.0 0 1,0 -12.0,0M1739.1,2528.2a6.0,6.0 0 1,0 12.0,0a6.0,6.0 0 1,0 -12.0,0M1652.8,2565.8a6.0,6.0 0 1,0 12.0,0a6.0,6.0 0 1,0 -12.0,0M1710.8,2552.5a6.0,6.0 0 1,0 12.0,0a6.0,6.0 0 1,0 -12.0,0M1821.6,2581.7a6.0,6.0 0 1,0 12.0,0a6.0,6.0 0 1,0 -12.0,0M1821.8,2569.3a6.0,6.0 0 1,0 12.0,0a6.0,6.0 0 1,0 -12.0,0M1733.1,2584.1a6.0,6.0 0 1,0 12.0,0a6.0,6.0 0 1,0 -12.0,0M1733.8,2505.3a6.0,6.0 0 1,0 12.0,0a6.0,6.0 0 1,0 -12.0,0M1774.4,2525.8a6.0,6.0 0 1,0 12.0,0a6.0,6.0 0 1,0 -12.0,0M1685.7,2579.0a6.0,6.0 0 1,0 12.0,0a6.0,6.0 0 1,0 -12.0,0M1677.0,2548.8a6.0,6.0 0 1,0 12.0,0a6.0,6.0 0 1,0 -12.0,0M1769.0,2526.6a6.0,6.0 0 1,0 12.0,0a6.0,6.0 0 1,0 -12.0,0M1606.0,2533.5a6.0,6.0 0 1,0 12.0,0a6.0,6.0 0 1,0 -12.0,0M1837.7,2553.4a6.0,6.0 0 1,0 12.0,0a6.0,6.0 0 1,0 -12.0,0M1608.7,2580.9a6.0,6.0 0 1,0 12.0,0a6.0,6.0 0 1,0 -12.0,0M1596.8,2593.3a6.0,6.0 0 1,0 12.0,0a6.0,6.0 0 1,0 -12.0,0M1847.5,2546.3a6.0,6.0 0 1,0 12.0,0a6.0,6.0 0 1,0 -12.0,0M1775.3,2526.1a6.0,6.0 0 1,0 12.0,0a6.0,6.0 0 1,0 -12.0,0M1844.3,2546.0a6.0,6.0 0 1,0 12.0,0a6.0,6.0 0 1,0 -12.0,0M1764.0,2544.3a6.0,6.0 0 1,0 12.0,0a6.0,6.0 0 1,0 -12.0,0M1785.9,2547.7a6.0,6.0 0 1,0 12.0,0a6.0,6.0 0 1,0 -12.0,0M1781.6,2590.7a6.0,6.0 0 1,0 12.0,0a6.0,6.0 0 1,0 -12.0,0M1777.8,2563.2a6.0,6.0 0 1,0 12.0,0a6.0,6.0 0 1,0 -12.0,0M1804.0,2603.2a6.0,6.0 0 1,0 12.0,0a6.0,6.0 0 1,0 -12.0,0M1644.7,2610.4a6.0,6.0 0 1,0 12.0,0a6.0,6.0 0 1,0 -12.0,0M1807.3,2512.1a6.0,6.0 0 1,0 12.0,0a6.0,6.0 0 1,0 -12.0,0M1774.7,2573.2a6.0,6.0 0 1,0 12.0,0a6.0,6.0 0 1,0 -12.0,0M1820.4,2526.4a6.0,6.0 0 1,0 12.0,0a6.0,6.0 0 1,0 -12.0,0M1749.1,2585.6a6.0,6.0 0 1,0 12.0,0a6.0,6.0 0 1,0 -12.0,0M1677.8,2567.3a6.0,6.0 0 1,0 12.0,0a6.0,6.0 0 1,0 -12.0,0M1682.3,2566.3a6.0,6.0 0 1,0 12.0,0a6.0,6.0 0 1,0 -12.0,0M1770.9,2509.9a6.0,6.0 0 1,0 12.0,0a6.0,6.0 0 1,0 -12.0,0M1610.0,2550.9a6.0,6.0 0 1,0 12.0,0a6.0,6.0 0 1,0 -12.0,0M1605.9,2601.2a6.0,6.0 0 1,0 12.0,0a6.0,6.0 0 1,0 -12.0,0M1817.1,2550.1a6.0,6.0 0 1,0 12.0,0a6.0,6.0 0 1,0 -12.0,0M1846.7,2564.5a6.0,6.0 0 1,0 12.0,0a6.0,6.0 0 1,0 -12.0,0M1598.9,2571.2a6.0,6.0 0 1,0 12.0,0a6.0,6.0 0 1,0 -12.0,0M1757.3,2509.4a6.0,6.0 0 1,0 12.0,0a6.0,6.0 0 1,0 -12.0,0M1863.8,2561.3a6.0,6.0 0 1,0 12.0,0a6.0,6.0 0 1,0 -12.0,0M1708.1,2603.1a6.0,6.0 0 1,0 12.0,0a6.0,6.0 0 1,0 -12.0,0M1771.6,2590.8a6.0,6.0 0 1,0 12.0,0a6.0,6.0 0 1,0 -12.0,0M1636.7,2612.8a6.0,6.0 0 1,0 12.0,0a6.0,6.0 0 1,0 -12.0,0M1596.4,2537.9a6.0,6.0 0 1,0 12.0,0a6.0,6.0 0 1,0 -12.0,0M1628.4,2506.2a6.0,6.0 0 1,0 12.0,0a6.0,6.0 0 1,0 -12.0,0M1619.2,2517.1a6.0,6.0 0 1,0 12.0,0a6.0,6.0 0 1,0 -12.0,0M1630.4,2612.6a6.0,6.0 0 1,0 12.0,0a6.0,6.0 0 1,0 -12.0,0M1792.2,2587.4a6.0,6.0 0 1,0 12.0,0a6.0,6.0 0 1,0 -12.0,0M1796.0,2593.6a6.0,6.0 0 1,0 12.0,0a6.0,6.0 0 1,0 -12.0,0M1608.8,2527.8a6.0,6.0 0 1,0 12.0,0a6.0,6.0 0 1,0 -12.0,0M1790.6,2518.7a6.0,6.0 0 1,0 12.0,0a6.0,6.0 0 1,0 -12.0,0M1795.0,2605.1a6.0,6.0 0 1,0 12.0,0a6.0,6.0 0 1,0 -12.0,0M1767.3,2535.1a6.0,6.0 0 1,0 12.0,0a6.0,6.0 0 1,0 -12.0,0M1721.3,2510.0a6.0,6.0 0 1,0 12.0,0a6.0,6.0 0 1,0 -12.0,0M1664.7,2506.5a6.0,6.0 0 1,0 12.0,0a6.0,6.0 0 1,0 -12.0,0M1791.6,2613.3a6.0,6.0 0 1,0 12.0,0a6.0,6.0 0 1,0 -12.0,0M1599.1,2541.6a6.0,6.0 0 1,0 12.0,0a6.0,6.0 0 1,0 -12.0,0M1819.0,2605.6a6.0,6.0 0 1,0 12.0,0a6.0,6.0 0 1,0 -12.0,0M1680.3,2532.8a6.0,6.0 0 1,0 12.0,0a6.0,6.0 0 1,0 -12.0,0M1640.6,2518.0a6.0,6.0 0 1,0 12.0,0a6.0,6.0 0 1,0 -12.0,0M1728.3,2607.9a6.0,6.0 0 1,0 12.0,0a6.0,6.0 0 1,0 -12.0,0M1695.8,2550.1a6.0,6.0 0 1,0 12.0,0a6.0,6.0 0 1,0 -12.0,0M1715.3,2538.7a6.0,6.0 0 1,0 12.0,0a6.0,6.0 0 1,0 -12.0,0M1634.8,2525.2a6.0,6.0 0 1,0 12.0,0a6.0,6.0 0 1,0 -12.0,0M1694.6,2542.3a6.0,6.0 0 1,0 12.0,0a6.0,6.0 0 1,0 -12.0,0M1767.6,2567.7a6.0,6.0 0 1,0 12.0,0a6.0,6.0 0 1,0 -12.0,0M1700.8,2526.4a6.0,6.0 0 1,0 12.0,0a6.0,6.0 0 1,0 -12.0,0M1853.9,2526.6a6.0,6.0 0 1,0 12.0,0a6.0,6.0 0 1,0 -12.0,0M1750.4,2581.8a6.0,6.0 0 1,0 12.0,0a6.0,6.0 0 1,0 -12.0,0M1611.7,2505.4a6.0,6.0 0 1,0 12.0,0a6.0,6.0 0 1,0 -12.0,0M1787.7,2521.8a6.0,6.0 0 1,0 12.0,0a6.0,6.0 0 1,0 -12.0,0M1686.0,2546.6a6.0,6.0 0 1,0 12.0,0a6.0,6.0 0 1,0 -12.0,0M1862.9,2521.4a6.0,6.0 0 1,0 12.0,0a6.0,6.0 0 1,0 -12.0,0M1759.8,2580.0a6.0,6.0 0 1,0 12.0,0a6.0,6.0 0 1,0 -12.0,0M1712.5,2515.0a6.0,6.0 0 1,0 12.0,0a6.0,6.0 0 1,0 -12.0,0M1698.3,2537.8a6.0,6.0 0 1,0 12.0,0a6.0,6.0 0 1,0 -12.0,0M1759.9,2514.1a6.0,6.0 0 1,0 12.0,0a6.0,6.0 0 1,0 -12.0,0M1816.3,2582.8a6.0,6.0 0 1,0 12.0,0a6.0,6.0 0 1,0 -12.0,0M1595.5,2585.1a6.0,6.0 0 1,0 12.0,0a6.0,6.0 0 1,0 -12.0,0M1710.8,2548.8a6.0,6.0 0 1,0 12.0,0a6.0,6.0 0 1,0 -12.0,0M1818.6,2515.1a6.0,6.0 0 1,0 12.0,0a6.0,6.0 0 1,0 -12.0,0M1606.7,2521.1a6.0,6.0 0 1,0 12.0,0a6.0,6.0 0 1,0 -12.0,0M1817.5,2517.3a6.0,6.0 0 1,0 12.0,0a6.0,6.0 0 1,0 -12.0,0M1751.8,2583.9a6.0,6.0 0 1,0 12.0,0a6.0,6.0 0 1,0 -12.0,0M1828.3,2524.1a6.0,6.0 0 1,0 12.0,0a6.0,6.0 0 1,0 -12.0,0M1782.6,2512.1a6.0,6.0 0 1,0 12.0,0a6.0,6.0 0 1,0 -12.0,0M1690.1,2605.0a6.0,6.0 0 1,0 12.0,0a6.0,6.0 0 1,0 -12.0,0M1746.8,2525.2a6.0,6.0 0 1,0 12.0,0a6.0,6.0 0 1,0 -12.0,0M1650.0,2530.5a6.0,6.0 0 1,0 12.0,0a6.0,6.0 0 1,0 -12.0,0M1850.3,2588.3a6.0,6.0 0 1,0 12.0,0a6.0,6.0 0 1,0 -12.0,0M1761.3,2538.6a6.0,6.0 0 1,0 12.0,0a6.0,6.0 0 1,0 -12.0,0M1722.6,2591.4a6.0,6.0 0 1,0 12.0,0a6.0,6.0 0 1,0 -12.0,0M1664.9,2530.4a6.0,6.0 0 1,0 12.0,0a6.0,6.0 0 1,0 -12.0,0M1812.0,2563.0a6.0,6.0 0 1,0 12.0,0a6.0,6.0 0 1,0 -12.0,0M1619.1,2524.1a6.0,6.0 0 1,0 12.0,0a6.0,6.0 0 1,0 -12.0,0M1806.6,2588.5a6.0,6.0 0 1,0 12.0,0a6.0,6.0 0 1,0 -12.0,0M1753.9,2514.0a6.0,6.0 0 1,0 12.0,0a6.0,6.0 0 1,0 -12.0,0M1837.6,2556.1a6.0,6.0 0 1,0 12.0,0a6.0,6.0 0 1,0 -12.0,0M1725.6,2548.5a6.0,6.0 0 1,0 12.0,0a6.0,6.0 0 1,0 -12.0,0M1646.9,2593.0a6.0,6.0 0 1,0 12.0,0a6.0,6.0 0 1,0 -12.0,0M1644.6,2536.0a6.0,6.0 0 1,0 12.0,0a6.0,6.0 0 1,0 -12.0,0M1694.5,2551.3a6.0,6.0 0 1,0 12.0,0a6.0,6.0 0 1,0 -12.0,0M1705.3,2556.6a6.0,6.0 0 1,0 12.0,0a6.0,6.0 0 1,0 -12.0,0M1635.9,2609.6a6.0,6.0 0 1,0 12.0,0a6.0,6.0 0 1,0 -12.0,0M1868.3,2572.6a6.0,6.0 0 1,0 12.0,0a6.0,6.0 0 1,0 -12.0,0M1624.1,2543.6a6.0,6.0 0 1,0 12.0,0a6.0,6.0 0 1,0 -12.0,0M1810.8,2597.1a6.0,6.0 0 1,0 12.0,0a6.0,6.0 0 1,0 -12.0,0M1758.7,2575.9a6.0,6.0 0 1,0 12.0,0a6.0,6.0 0 1,0 -12.0,0M1737.4,2612.3a6.0,6.0 0 1,0 12.0,0a6.0,6.0 0 1,0 -12.0,0M1604.3,2503.5a6.0,6.0 0 1,0 12.0,0a6.0,6.0 0 1,0 -12.0,0M1832.3,2560.0a6.0,6.0 0 1,0 12.0,0a6.0,6.0 0 1,0 -12.0,0M1750.5,2585.2a6.0,6.0 0 1,0 12.0,0a6.0,6.0 0 1,0 -12.0,0M1808.5,2566.8a6.0,6.0 0 1,0 12.0,0a6.0,6.0 0 1,0 -12.0,0M1854.4,2528.5a6.0,6.0 0 1,0 12.0,0a6.0,6.0 0 1,0 -12.0,0M1819.4,2506.5a6.0,6.0 0 1,0 12.0,0a6.0,6.0 0 1,0 -12.0,0M1664.7,2610.3a6.0,6.0 0 1,0 12.0,0a6.0,6.0 0 1,0 -12.0,0M1650.1,2594.3a6.0,6.0 0 1,0 12.0,0a6.0,6.0 0 1,0 -12.0,0M1618.0,2608.9a6.0,6.0 0 1,0 12.0,0a6.0,6.0 0 1,0 -12.0,0M1747.8,2517.0a6.0,6.0 0 1,0 12.0,0a6.0,6.0 0 1,0 -12.0,0M1720.6,2508.4a6.0,6.0 0 1,0 12.0,0a6.0,6.0 0 1,0 -12.0,0M1844.4,2607.4a6.0,6.0 0 1,0 12.0,0a6.0,6.0 0 1,0 -12.0,0M1758.9,2570.0a6.0,6.0 0 1,0 12.0,0a6.0,6.0 0 1,0 -12.0,0M1627.9,2507.0a6.0,6.0 0 1,0 12.0,0a6.0,6.0 0 1,0 -12.0,0M1665.5,2551.3a6.0,6.0 0 1,0 12.0,0a6.0,6.0 0 1,0 -12.0,0M1770.6,2507.3a6.0,6.0 0 1,0 12.0,0a6.0,6.0 0 1,0 -12.0,0M1778.6,2570.5a6.0,6.0 0 1,0 12.0,0a6.0,6.0 0 1,0 -12.0,0M1717.9,2596.7a6.0,6.0 0 1,0 12.0,0a6.0,6.0 0 1,0 -12.0,0M1859.7,2503.4a6.0,6.0 0 1,0 12.0,0a6.0,6.0 0 1,0 -12.0,0M1655.8,2610.2a6.0,6.0 0 1,0 12.0,0a6.0,6.0 0 1,0 -12.0,0M1665.2,2575.1a6.0,6.0 0 1,0 12.0,0a6.0,6.0 0 1,0 -12.0,0M1842.4,2513.1a6.0,6.0 0 1,0 12.0,0a6.0,6.0 0 1,0 -12.0,0M1824.4,2609.3a6.0,6.0 0 1,0 12.0,0a6.0,6.0 0 1,0 -12.0,0M1810.5,2535.0a6.0,6.0 0 1,0 12.0,0a6.0,6.0 0 1,0 -12.0,0M1772.2,2504.1a6.0,6.0 0 1,0 12.0,0a6.0,6.0 0 1,0 -12.0,0M1610.4,2598.3a6.0,6.0 0 1,0 12.0,0a6.0,6.0 0 1,0 -12.0,0M1801.9,2509.2a6.0,6.0 0 1,0 12.0,0a6.0,6.0 0 1,0 -12.0,0M1780.5,2581.1a6.0,6.0 0 1,0 12.0,0a6.0,6.0 0 1,0 -12.0,0M1757.1,2529.6a6.0,6.0 0 1,0 12.0,0a6.0,6.0 0 1,0 -12.0,0M1624.0,2578.3a6.0,6.0 0 1,0 12.0,0a6.0,6.0 0 1,0 -12.0,0M1665.5,2600.7a6.0,6.0 0 1,0 12.0,0a6.0,6.0 0 1,0 -12.0,0M1726.9,2595.7a6.0,6.0 0 1,0 12.0,0a6.0,6.0 0 1,0 -12.0,0M1660.4,2598.5a6.0,6.0 0 1,0 12.0,0a6.0,6.0 0 1,0 -12.0,0M1780.7,2613.2a6.0,6.0 0 1,0 12.0,0a6.0,6.0 0 1,0 -12.0,0M1791.6,2592.7a6.0,6.0 0 1,0 12.0,0a6.0,6.0 0 1,0 -12.0,0M1604.9,2510.6a6.0,6.0 0 1,0 12.0,0a6.0,6.0 0 1,0 -12.0,0M1655.5,2509.9a6.0,6.0 0 1,0 12.0,0a6.0,6.0 0 1,0 -12.0,0M1832.5,2514.9a6.0,6.0 0 1,0 12.0,0a6.0,6.0 0 1,0 -12.0,0M1633.4,2564.4a6.0,6.0 0 1,0 12.0,0a6.0,6.0 0 1,0 -12.0,0M1621.6,2510.4a6.0,6.0 0 1,0 12.0,0a6.0,6.0 0 1,0 -12.0,0M1825.8,2544.1a6.0,6.0 0 1,0 12.0,0a6.0,6.0 0 1,0 -12.0,0M1719.0,2576.5a6.0,6.0 0 1,0 12.0,0a6.0,6.0 0 1,0 -12.0,0M1820.6,2561.0a6.0,6.0 0 1,0 12.0,0a6.0,6.0 0 1,0 -12.0,0M1767.2,2598.6a6.0,6.0 0 1,0 12.0,0a6.0,6.0 0 1,0 -12.0,0M1655.8,2608.2a6.0,6.0 0 1,0 12.0,0a6.0,6.0 0 1,0 -12.0,0M1790.6,2552.5a6.0,6.0 0 1,0 12.0,0a6.0,6.0 0 1,0 -12.0,0M1634.7,2516.9a6.0,6.0 0 1,0 12.0,0a6.0,6.0 0 1,0 -12.0,0M1668.1,2568.4a6.0,6.0 0 1,0 12.0,0a6.0,6.0 0 1,0 -12.0,0M1637.7,2584.2a6.0,6.0 0 1,0 12.0,0a6.0,6.0 0 1,0 -12.0,0M1825.1,2577.1a6.0,6.0 0 1,0 12.0,0a6.0,6.0 0 1,0 -12.0,0M1641.0,2559.5a6.0,6.0 0 1,0 12.0,0a6.0,6.0 0 1,0 -12.0,0M1682.2,2513.3a6.0,6.0 0 1,0 12.0,0a6.0,6.0 0 1,0 -12.0,0M1626.4,2504.8a6.0,6.0 0 1,0 12.0,0a6.0,6.0 0 1,0 -12.0,0M1610.7,2514.2a6.0,6.0 0 1,0 12.0,0a6.0,6.0 0 1,0 -12.0,0M1778.2,2590.9a6.0,6.0 0 1,0 12.0,0a6.0,6.0 0 1,0 -12.0,0M1725.9,2582.5a6.0,6.0 0 1,0 12.0,0a6.0,6.0 0 1,0 -12.0,0M1665.7,2592.0a6.0,6.0 0 1,0 12.0,0a6.0,6.0 0 1,0 -12.0,0M1694.9,2503.5a6.0,6.0 0 1,0 12.0,0a6.0,6.0 0 1,0 -12.0,0M1868.5,2510.9a6.0,6.0 0 1,0 12.0,0a6.0,6.0 0 1,0 -12.0,0M1621.8,2582.1a6.0,6.0 0 1,0 12.0,0a6.0,6.0 0 1,0 -12.0,0M1840.6,2608.1a6.0,6.0 0 1,0 12.0,0a6.0,6.0 0 1,0 -12.0,0M1794.1,2581.7a6.0,6.0 0 1,0 12.0,0a6.0,6.0 0 1,0 -12.0,0M1863.2,2612.8a6.0,6.0 0 1,0 12.0,0a6.0,6.0 0 1,0 -12.0,0M1816.2,2576.4a6.0,6.0 0 1,0 12.0,0a6.0,6.0 0 1,0 -12.0,0M1633.5,2614.4a6.0,6.0 0 1,0 12.0,0a6.0,6.0 0 1,0 -12.0,0M1823.1,2555.5a6.0,6.0 0 1,0 12.0,0a6.0,6.0 0 1,0 -12.0,0M1646.0,2565.8a6.0,6.0 0 1,0 12.0,0a6.0,6.0 0 1,0 -12.0,0M1844.9,2590.1a6.0,6.0 0 1,0 12.0,0a6.0,6.0 0 1,0 -12.0,0M1751.6,2599.1a6.0,6.0 0 1,0 12.0,0a6.0,6.0 0 1,0 -12.0,0M1644.4,2528.2a6.0,6.0 0 1,0 12.0,0a6.0,6.0 0 1,0 -12.0,0M1790.0,2592.5a6.0,6.0 0 1,0 12.0,0a6.0,6.0 0 1,0 -12.0,0M1616.8,2604.8a6.0,6.0 0 1,0 12.0,0a6.0,6.0 0 1,0 -12.0,0M1761.8,2559.0a6.0,6.0 0 1,0 12.0,0a6.0,6.0 0 1,0 -12.0,0M1670.1,2591.5a6.0,6.0 0 1,0 12.0,0a6.0,6.0 0 1,0 -12.0,0M1762.9,2535.2a6.0,6.0 0 1,0 12.0,0a6.0,6.0 0 1,0 -12.0,0M1817.4,2549.2a6.0,6.0 0 1,0 12.0,0a6.0,6.0 0 1,0 -12.0,0M1650.5,2607.2a6.0,6.0 0 1,0 12.0,0a6.0,6.0 0 1,0 -12.0,0M1795.8,2568.8a6.0,6.0 0 1,0 12.0,0a6.0,6.0 0 1,0 -12.0,0M1792.8,2608.4a6.0,6.0 0 1,0 12.0,0a6.0,6.0 0 1,0 -12.0,0M1817.2,2577.0a6.0,6.0 0 1,0 12.0,0a6.0,6.0 0 1,0 -12.0,0M1825.7,2517.6a6.0,6.0 0 1,0 12.0,0a6.0,6.0 0 1,0 -12.0,0M1730.1,2612.8a6.0,6.0 0 1,0 12.0,0a6.0,6.0 0 1,0 -12.0,0M1844.4,2561.1a6.0,6.0 0 1,0 12.0,0a6.0,6.0 0 1,0 -12.0,0M1834.0,2584.7a6.0,6.0 0 1,0 12.0,0a6.0,6.0 0 1,0 -12.0,0M1646.0,2521.3a6.0,6.0 0 1,0 12.0,0a6.0,6.0 0 1,0 -12.0,0M1695.6,2596.2a6.0,6.0 0 1,0 12.0,0a6.0,6.0 0 1,0 -12.0,0M1696.8,2547.9a6.0,6.0 0 1,0 12.0,0a6.0,6.0 0 1,0 -12.0,0M1596.3,2556.3a6.0,6.0 0 1,0 12.0,0a6.0,6.0 0 1,0 -12.0,0M1717.2,2556.8a6.0,6.0 0 1,0 12.0,0a6.0,6.0 0 1,0 -12.0,0M1628.2,2534.5a6.0,6.0 0 1,0 12.0,0a6.0,6.0 0 1,0 -12.0,0M1818.8,2517.5a6.0,6.0 0 1,0 12.0,0a6.0,6.0 0 1,0 -12.0,0M1683.0,2534.8a6.0,6.0 0 1,0 12.0,0a6.0,6.0 0 1,0 -12.0,0M1699.6,2530.3a6.0,6.0 0 1,0 12.0,0a6.0,6.0 0 1,0 -12.0,0M1611.8,2516.7a6.0,6.0 0 1,0 12.0,0a6.0,6.0 0 1,0 -12.0,0M1856.4,2559.1a6.0,6.0 0 1,0 12.0,0a6.0,6.0 0 1,0 -12.0,0M1735.7,2555.1a6.0,6.0 0 1,0 12.0,0a6.0,6.0 0 1,0 -12.0,0M1742.3,2612.3a6.0,6.0 0 1,0 12.0,0a6.0,6.0 0 1,0 -12.0,0M1860.1,2589.5a6.0,6.0 0 1,0 12.0,0a6.0,6.0 0 1,0 -12.0,0M1645.0,2603.1a6.0,6.0 0 1,0 12.0,0a6.0,6.0 0 1,0 -12.0,0M1663.7,2523.0a6.0,6.0 0 1,0 12.0,0a6.0,6.0 0 1,0 -12.0,0M1603.3,2603.8a6.0,6.0 0 1,0 12.0,0a6.0,6.0 0 1,0 -12.0,0M1786.6,2592.7a6.0,6.0 0 1,0 12.0,0a6.0,6.0 0 1,0 -12.0,0M1599.9,2547.4a6.0,6.0 0 1,0 12.0,0a6.0,6.0 0 1,0 -12.0,0M1753.0,2555.9a6.0,6.0 0 1,0 12.0,0a6.0,6.0 0 1,0 -12.0,0M1787.6,2603.0a6.0,6.0 0 1,0 12.0,0a6.0,6.0 0 1,0 -12.0,0M1833.3,2534.2a6.0,6.0 0 1,0 12.0,0a6.0,6.0 0 1,0 -12.0,0M1607.5,2600.8a6.0,6.0 0 1,0 12.0,0a6.0,6.0 0 1,0 -12.0,0M1730.3,2558.4a6.0,6.0 0 1,0 12.0,0a6.0,6.0 0 1,0 -12.0,0M1671.7,2600.9a6.0,6.0 0 1,0 12.0,0a6.0,6.0 0 1,0 -12.0,0M1706.2,2599.2a6.0,6.0 0 1,0 12.0,0a6.0,6.0 0 1,0 -12.0,0M1757.2,2518.0a6.0,6.0 0 1,0 12.0,0a6.0,6.0 0 1,0 -12.0,0M1635.4,2550.3a6.0,6.0 0 1,0 12.0,0a6.0,6.0 0 1,0 -12.0,0M1799.6,2596.2a6.0,6.0 0 1,0 12.0,0a6.0,6.0 0 1,0 -12.0,0M1821.4,2509.4a6.0,6.0 0 1,0 12.0,0a6.0,6.0 0 1,0 -12.0,0M1701.6,2567.4a6.0,6.0 0 1,0 12.0,0a6.0,6.0 0 1,0 -12.0,0M1825.1,2555.6a6.0,6.0 0 1,0 12.0,0a6.0,6.0 0 1,0 -12.0,0M1703.5,2509.0a6.0,6.0 0 1,0 12.0,0a6.0,6.0 0 1,0 -12.0,0M1807.9,2576.6a6.0,6.0 0 1,0 12.0,0a6.0,6.0 0 1,0 -12.0,0M1660.9,2577.0a6.0,6.0 0 1,0 12.0,0a6.0,6.0 0 1,0 -12.0,0M1714.4,2504.6a6.0,6.0 0 1,0 12.0,0a6.0,6.0 0 1,0 -12.0,0M1579.5,2512.2a6.0,6.0 0 1,0 12.0,0a6.0,6.0 0 1,0 -12.0,0M1580.4,2519.5a6.0,6.0 0 1,0 12.0,0a6.0,6.0 0 1,0 -12.0,0M1519.8,2556.6a6.0,6.0 0 1,0 12.0,0a6.0,6.0 0 1,0 -12.0,0M1591.7,2509.8a6.0,6.0 0 1,0 12.0,0a6.0,6.0 0 1,0 -12.0,0M1535.4,2567.2a6.0,6.0 0 1,0 12.0,0a6.0,6.0 0 1,0 -12.0,0M1565.9,2573.7a6.0,6.0 0 1,0 12.0,0a6.0,6.0 0 1,0 -12.0,0M1557.8,2606.8a6.0,6.0 0 1,0 12.0,0a6.0,6.0 0 1,0 -12.0,0M1550.0,2558.0a6.0,6.0 0 1,0 12.0,0a6.0,6.0 0 1,0 -12.0,0M1517.2,2598.9a6.0,6.0 0 1,0 12.0,0a6.0,6.0 0 1,0 -12.0,0M1592.7,2527.5a6.0,6.0 0 1,0 12.0,0a6.0,6.0 0 1,0 -12.0,0M1590.1,2543.6a6.0,6.0 0 1,0 12.0,0a6.0,6.0 0 1,0 -12.0,0M1579.9,2515.4a6.0,6.0 0 1,0 12.0,0a6.0,6.0 0 1,0 -12.0,0M1585.9,2610.7a6.0,6.0 0 1,0 12.0,0a6.0,6.0 0 1,0 -12.0,0M1566.6,2584.8a6.0,6.0 0 1,0 12.0,0a6.0,6.0 0 1,0 -12.0,0M1569.5,2583.9a6.0,6.0 0 1,0 12.0,0a6.0,6.0 0 1,0 -12.0,0M1558.7,2510.9a6.0,6.0 0 1,0 12.0,0a6.0,6.0 0 1,0 -12.0,0M1565.0,2586.5a6.0,6.0 0 1,0 12.0,0a6.0,6.0 0 1,0 -12.0,0M1556.9,2565.9a6.0,6.0 0 1,0 12.0,0a6.0,6.0 0 1,0 -12.0,0M1591.2,2582.3a6.0,6.0 0 1,0 12.0,0a6.0,6.0 0 1,0 -12.0,0M1539.8,2542.0a6.0,6.0 0 1,0 12.0,0a6.0,6.0 0 1,0 -12.0,0M1525.1,2547.9a6.0,6.0 0 1,0 12.0,0a6.0,6.0 0 1,0 -12.0,0M1591.6,2557.0a6.0,6.0 0 1,0 12.0,0a6.0,6.0 0 1,0 -12.0,0M1536.9,2562.3a6.0,6.0 0 1,0 12.0,0a6.0,6.0 0 1,0 -12.0,0M1558.0,2597.9a6.0,6.0 0 1,0 12.0,0a6.0,6.0 0 1,0 -12.0,0M1525.4,2599.8a6.0,6.0 0 1,0 12.0,0a6.0,6.0 0 1,0 -12.0,0M1538.9,2569.0a6.0,6.0 0 1,0 12.0,0a6.0,6.0 0 1,0 -12.0,0M1538.5,2587.3a6.0,6.0 0 1,0 12.0,0a6.0,6.0 0 1,0 -12.0,0M1522.5,2553.3a6.0,6.0 0 1,0 12.0,0a6.0,6.0 0 1,0 -12.0,0M1582.3,2546.2a6.0,6.0 0 1,0 12.0,0a6.0,6.0 0 1,0 -12.0,0M1560.9,2541.7a6.0,6.0 0 1,0 12.0,0a6.0,6.0 0 1,0 -12.0,0M1531.5,2534.9a6.0,6.0 0 1,0 12.0,0a6.0,6.0 0 1,0 -12.0,0M1552.2,2553.1a6.0,6.0 0 1,0 12.0,0a6.0,6.0 0 1,0 -12.0,0M1564.3,2562.0a6.0,6.0 0 1,0 12.0,0a6.0,6.0 0 1,0 -12.0,0M1540.2,2587.4a6.0,6.0 0 1,0 12.0,0a6.0,6.0 0 1,0 -12.0,0M1533.2,2557.1a6.0,6.0 0 1,0 12.0,0a6.0,6.0 0 1,0 -12.0,0M1546.0,2548.9a6.0,6.0 0 1,0 12.0,0a6.0,6.0 0 1,0 -12.0,0M1516.5,2575.0a6.0,6.0 0 1,0 12.0,0a6.0,6.0 0 1,0 -12.0,0M1584.1,2587.8a6.0,6.0 0 1,0 12.0,0a6.0,6.0 0 1,0 -12.0,0M1559.8,2559.5a6.0,6.0 0 1,0 12.0,0a6.0,6.0 0 1,0 -12.0,0M1538.2,2503.9a6.0,6.0 0 1,0 12.0,0a6.0,6.0 0 1,0 -12.0,0M1539.0,2528.0a6.0,6.0 0 1,0 12.0,0a6.0,6.0 0 1,0 -12.0,0M1528.1,2607.1a6.0,6.0 0 1,0 12.0,0a6.0,6.0 0 1,0 -12.0,0M1584.8,2565.2a6.0,6.0 0 1,0 12.0,0a6.0,6.0 0 1,0 -12.0,0M1520.5,2571.1a6.0,6.0 0 1,0 12.0,0a6.0,6.0 0 1,0 -12.0,0M1550.5,2532.1a6.0,6.0 0 1,0 12.0,0a6.0,6.0 0 1,0 -12.0,0M1524.2,2589.3a6.0,6.0 0 1,0 12.0,0a6.0,6.0 0 1,0 -12.0,0M1591.8,2531.8a6.0,6.0 0 1,0 12.0,0a6.0,6.0 0 1,0 -12.0,0M1527.8,2576.8a6.0,6.0 0 1,0 12.0,0a6.0,6.0 0 1,0 -12.0,0M1543.6,2538.9a6.0,6.0 0 1,0 12.0,0a6.0,6.0 0 1,0 -12.0,0M1564.6,2519.3a6.0,6.0 0 1,0 12.0,0a6.0,6.0 0 1,0 -12.0,0M1580.9,2556.5a6.0,6.0 0 1,0 12.0,0a6.0,6.0 0 1,0 -12.0,0M1574.3,2531.2a6.0,6.0 0 1,0 12.0,0a6.0,6.0 0 1,0 -12.0,0M1576.0,2561.3a6.0,6.0 0 1,0 12.0,0a6.0,6.0 0 1,0 -12.0,0M1578.0,2535.1a6.0,6.0 0 1,0 12.0,0a6.0,6.0 0 1,0 -12.0,0M1588.3,2600.3a6.0,6.0 0 1,0 12.0,0a6.0,6.0 0 1,0 -12.0,0M1584.8,2614.1a6.0,6.0 0 1,0 12.0,0a6.0,6.0 0 1,0 -12.0,0M1576.4,2548.9a6.0,6.0 0 1,0 12.0,0a6.0,6.0 0 1,0 -12.0,0M1555.1,2506.6a6.0,6.0 0 1,0 12.0,0a6.0,6.0 0 1,0 -12.0,0M1561.0,2567.7a6.0,6.0 0 1,0 12.0,0a6.0,6.0 0 1,0 -12.0,0M1577.9,2516.7a6.0,6.0 0 1,0 12.0,0a6.0,6.0 0 1,0 -12.0,0M1563.8,2572.0a6.0,6.0 0 1,0 12.0,0a6.0,6.0 0 1,0 -12.0,0M1551.5,2563.2a6.0,6.0 0 1,0 12.0,0a6.0,6.0 0 1,0 -12.0,0M1573.0,2581.7a6.0,6.0 0 1,0 12.0,0a6.0,6.0 0 1,0 -12.0,0M1546.6,2552.3a6.0,6.0 0 1,0 12.0,0a6.0,6.0 0 1,0 -12.0,0M1546.1,2578.5a6.0,6.0 0 1,0 12.0,0a6.0,6.0 0 1,0 -12.0,0M1578.1,2519.3a6.0,6.0 0 1,0 12.0,0a6.0,6.0 0 1,0 -12.0,0M1555.3,2564.8a6.0,6.0 0 1,0 12.0,0a6.0,6.0 0 1,0 -12.0,0M1530.2,2580.5a6.0,6.0 0 1,0 12.0,0a6.0,6.0 0 1,0 -12.0,0M1527.1,2550.1a6.0,6.0 0 1,0 12.0,0a6.0,6.0 0 1,0 -12.0,0M1561.8,2604.7a6.0,6.0 0 1,0 12.0,0a6.0,6.0 0 1,0 -12.0,0M1670.0,2664.3a6.0,6.0 0 1,0 12.0,0a6.0,6.0 0 1,0 -12.0,0M1657.2,2617.3a6.0,6.0 0 1,0 12.0,0a6.0,6.0 0 1,0 -12.0,0M1676.5,2675.2a6.0,6.0 0 1,0 12.0,0a6.0,6.0 0 1,0 -12.0,0M1587.1,2610.7a6.0,6.0 0 1,0 12.0,0a6.0,6.0 0 1,0 -12.0,0M1517.3,2689.6a6.0,6.0 0 1,0 12.0,0a6.0,6.0 0 1,0 -12.0,0M1610.4,2648.5a6.0,6.0 0 1,0 12.0,0a6.0,6.0 0 1,0 -12.0,0M1670.1,2623.2a6.0,6.0 0 1,0 12.0,0a6.0,6.0 0 1,0 -12.0,0M1606.0,2602.7a6.0,6.0 0 1,0 12.0,0a6.0,6.0 0 1,0 -12.0,0M1602.4,2646.6a6.0,6.0 0 1,0 12.0,0a6.0,6.0 0 1,0 -12.0,0M1630.6,2658.3a6.0,6.0 0 1,0 12.0,0a6.0,6.0 0 1,0 -12.0,0M1575.6,2639.6a6.0,6.0 0 1,0 12.0,0a6.0,6.0 0 1,0 -12.0,0M1574.5,2607.3a6.0,6.0 0 1,0 12.0,0a6.0,6.0 0 1,0 -12.0,0M1629.1,2645.9a6.0,6.0 0 1,0 12.0,0a6.0,6.0 0 1,0 -12.0,0M1532.2,2659.7a6.0,6.0 0 1,0 12.0,0a6.0,6.0 0 1,0 -12.0,0M1582.9,2642.6a6.0,6.0 0 1,0 12.0,0a6.0,6.0 0 1,0 -12.0,0M1611.9,2613.5a6.0,6.0 0 1,0 12.0,0a6.0,6.0 0 1,0 -12.0,0M1677.5,2649.4a6.0,6.0 0 1,0 12.0,0a6.0,6.0 0 1,0 -12.0,0M1589.4,2636.8a6.0,6.0 0 1,0 12.0,0a6.0,6.0 0 1,0 -12.0,0M1682.8,2662.5a6.0,6.0 0 1,0 12.0,0a6.0,6.0 0 1,0 -12.0,0M1604.6,2619.3a6.0,6.0 0 1,0 12.0,0a6.0,6.0 0 1,0 -12.0,0M1544.2,2664.8a6.0,6.0 0 1,0 12.0,0a6.0,6.0 0 1,0 -12.0,0M1679.8,2618.4a6.0,6.0 0 1,0 12.0,0a6.0,6.0 0 1,0 -12.0,0M1601.6,2683.8a6.0,6.0 0 1,0 12.0,0a6.0,6.0 0 1,0 -12.0,0M1665.7,2630.9a6.0,6.0 0 1,0 12.0,0a6.0,6.0 0 1,0 -12.0,0M1653.3,2603.4a6.0,6.0 0 1,0 12.0,0a6.0,6.0 0 1,0 -12.0,0M1664.7,2655.4a6.0,6.0 0 1,0 12.0,0a6.0,6.0 0 1,0 -12.0,0M1541.8,2667.4a6.0,6.0 0 1,0 12.0,0a6.0,6.0 0 1,0 -12.0,0M1601.4,2647.8a6.0,6.0 0 1,0 12.0,0a6.0,6.0 0 1,0 -12.0,0M1547.1,2677.2a6.0,6.0 0 1,0 12.0,0a6.0,6.0 0 1,0 -12.0,0M1621.3,2638.8a6.0,6.0 0 1,0 12.0,0a6.0,6.0 0 1,0 -12.0,0M1574.8,2603.1a6.0,6.0 0 1,0 12.0,0a6.0,6.0 0 1,0 -12.0,0M1622.4,2690.1a6.0,6.0 0 1,0 12.0,0a6.0,6.0 0 1,0 -12.0,0M1584.6,2621.9a6.0,6.0 0 1,0 12.0,0a6.0,6.0 0 1,0 -12.0,0M1567.0,2630.8a6.0,6.0 0 1,0 12.0,0a6.0,6.0 0 1,0 -12.0,0M1516.2,2666.1a6.0,6.0 0 1,0 12.0,0a6.0,6.0 0 1,0 -12.0,0M1656.9,2640.3a6.0,6.0 0 1,0 12.0,0a6.0,6.0 0 1,0 -12.0,0M1627.7,2675.9a6.0,6.0 0 1,0 12.0,0a6.0,6.0 0 1,0 -12.0,0M1599.1,2643.3a6.0,6.0 0 1,0 12.0,0a6.0,6.0 0 1,0 -12.0,0M1560.2,2634.8a6.0,6.0 0 1,0 12.0,0a6.0,6.0 0 1,0 -12.0,0M1604.8,2602.8a6.0,6.0 0 1,0 12.0,0a6.0,6.0 0 1,0 -12.0,0M1612.0,2656.3a6.0,6.0 0 1,0 12.0,0a6.0,6.0 0 1,0 -12.0,0M1535.9,2679.6a6.0,6.0 0 1,0 12.0,0a6.0,6.0 0 1,0 -12.0,0M1643.1,2684.2a6.0,6.0 0 1,0 12.0,0a6.0,6.0 0 1,0 -12.0,0M1532.3,2678.3a6.0,6.0 0 1,0 12.0,0a6.0,6.0 0 1,0 -12.0,0M1603.3,2618.7a6.0,6.0 0 1,0 12.0,0a6.0,6.0 0 1,0 -12.0,0M1618.5,2620.2a6.0,6.0 0 1,0 12.0,0a6.0,6.0 0 1,0 -12.0,0M1526.0,2692.8a6.0,6.0 0 1,0 12.0,0a6.0,6.0 0 1,0 -12.0,0M1644.9,2664.4a6.0,6.0 0 1,0 12.0,0a6.0,6.0 0 1,0 -12.0,0M1635.7,2661.6a6.0,6.0 0 1,0 12.0,0a6.0,6.0 0 1,0 -12.0,0M1544.0,2669.6a6.0,6.0 0 1,0 12.0,0a6.0,6.0 0 1,0 -12.0,0M1532.2,2611.3a6.0,6.0 0 1,0 12.0,0a6.0,6.0 0 1,0 -12.0,0M1613.3,2662.0a6.0,6.0 0 1,0 12.0,0a6.0,6.0 0 1,0 -12.0,0M1591.1,2658.7a6.0,6.0 0 1,0 12.0,0a6.0,6.0 0 1,0 -12.0,0M1524.7,2612.5a6.0,6.0 0 1,0 12.0,0a6.0,6.0 0 1,0 -12.0,0M1613.4,2606.2a6.0,6.0 0 1,0 12.0,0a6.0,6.0 0 1,0 -12.0,0M1589.4,2637.2a6.0,6.0 0 1,0 12.0,0a6.0,6.0 0 1,0 -12.0,0M1557.4,2689.9a6.0,6.0 0 1,0 12.0,0a6.0,6.0 0 1,0 -12.0,0M1671.8,2615.8a6.0,6.0 0 1,0 12.0,0a6.0,6.0 0 1,0 -12.0,0M1568.4,2611.7a6.0,6.0 0 1,0 12.0,0a6.0,6.0 0 1,0 -12.0,0M1652.5,2666.2a6.0,6.0 0 1,0 12.0,0a6.0,6.0 0 1,0 -12.0,0M1616.7,2606.2a6.0,6.0 0 1,0 12.0,0a6.0,6.0 0 1,0 -12.0,0M1598.7,2607.1a6.0,6.0 0 1,0 12.0,0a6.0,6.0 0 1,0 -12.0,0M1556.3,2658.3a6.0,6.0 0 1,0 12.0,0a6.0,6.0 0 1,0 -12.0,0M1636.2,2673.7a6.0,6.0 0 1,0 12.0,0a6.0,6.0 0 1,0 -12.0,0M1567.4,2613.9a6.0,6.0 0 1,0 12.0,0a6.0,6.0 0 1,0 -12.0,0M1596.9,2621.4a6.0,6.0 0 1,0 12.0,0a6.0,6.0 0 1,0 -12.0,0M1556.4,2678.1a6.0,6.0 0 1,0 12.0,0a6.0,6.0 0 1,0 -12.0,0M1575.7,2676.9a6.0,6.0 0 1,0 12.0,0a6.0,6.0 0 1,0 -12.0,0M1678.7,2667.3a6.0,6.0 0 1,0 12.0,0a6.0,6.0 0 1,0 -12.0,0M1609.8,2683.4a6.0,6.0 0 1,0 12.0,0a6.0,6.0 0 1,0 -12.0,0M1605.2,2658.7a6.0,6.0 0 1,0 12.0,0a6.0,6.0 0 1,0 -12.0,0M1583.2,2687.9a6.0,6.0 0 1,0 12.0,0a6.0,6.0 0 1,0 -12.0,0M1536.2,2618.4a6.0,6.0 0 1,0 12.0,0a6.0,6.0 0 1,0 -12.0,0M1574.5,2671.5a6.0,6.0 0 1,0 12.0,0a6.0,6.0 0 1,0 -12.0,0M1547.6,2668.0a6.0,6.0 0 1,0 12.0,0a6.0,6.0 0 1,0 -12.0,0M1555.4,2690.7a6.0,6.0 0 1,0 12.0,0a6.0,6.0 0 1,0 -12.0,0M1627.1,2662.7a6.0,6.0 0 1,0 12.0,0a6.0,6.0 0 1,0 -12.0,0M1541.7,2629.4a6.0,6.0 0 1,0 12.0,0a6.0,6.0 0 1,0 -12.0,0M1531.1,2669.3a6.0,6.0 0 1,0 12.0,0a6.0,6.0 0 1,0 -12.0,0M1655.7,2682.2a6.0,6.0 0 1,0 12.0,0a6.0,6.0 0 1,0 -12.0,0M1590.0,2617.5a6.0,6.0 0 1,0 12.0,0a6.0,6.0 0 1,0 -12.0,0M1650.7,2679.4a6.0,6.0 0 1,0 12.0,0a6.0,6.0 0 1,0 -12.0,0M1574.8,2627.9a6.0,6.0 0 1,0 12.0,0a6.0,6.0 0 1,0 -12.0,0M1578.8,2606.3a6.0,6.0 0 1,0 12.0,0a6.0,6.0 0 1,0 -12.0,0M1550.5,2607.0a6.0,6.0 0 1,0 12.0,0a6.0,6.0 0 1,0 -12.0,0M1600.3,2673.1a6.0,6.0 0 1,0 12.0,0a6.0,6.0 0 1,0 -12.0,0M1591.6,2682.0a6.0,6.0 0 1,0 12.0,0a6.0,6.0 0 1,0 -12.0,0M1634.2,2670.1a6.0,6.0 0 1,0 12.0,0a6.0,6.0 0 1,0 -12.0,0M1666.6,2640.2a6.0,6.0 0 1,0 12.0,0a6.0,6.0 0 1,0 -12.0,0M1577.3,2671.4a6.0,6.0 0 1,0 12.0,0a6.0,6.0 0 1,0 -12.0,0M1606.5,2695.9a6.0,6.0 0 1,0 12.0,0a6.0,6.0 0 1,0 -12.0,0M1634.6,2696.5a6.0,6.0 0 1,0 12.0,0a6.0,6.0 0 1,0 -12.0,0M1596.5,2693.6a6.0,6.0 0 1,0 12.0,0a6.0,6.0 0 1,0 -12.0,0M1570.7,2692.0a6.0,6.0 0 1,0 12.0,0a6.0,6.0 0 1,0 -12.0,0M1582.9,2692.8a6.0,6.0 0 1,0 12.0,0a6.0,6.0 0 1,0 -12.0,0M1602.3,2695.2a6.0,6.0 0 1,0 12.0,0a6.0,6.0 0 1,0 -12.0,0M1583.4,2696.8a6.0,6.0 0 1,0 12.0,0a6.0,6.0 0 1,0 -12.0,0M1560.8,2691.5a6.0,6.0 0 1,0 12.0,0a6.0,6.0 0 1,0 -12.0,0M1576.1,2692.8a6.0,6.0 0 1,0 12.0,0a6.0,6.0 0 1,0 -12.0,0M1553.6,2693.5a6.0,6.0 0 1,0 12.0,0a6.0,6.0 0 1,0 -12.0,0M1580.4,2693.9a6.0,6.0 0 1,0 12.0,0a6.0,6.0 0 1,0 -12.0,0M1573.5,2696.9a6.0,6.0 0 1,0 12.0,0a6.0,6.0 0 1,0 -12.0,0M1575.1,2695.8a6.0,6.0 0 1,0 12.0,0a6.0,6.0 0 1,0 -12.0,0M1555.4,2692.4a6.0,6.0 0 1,0 12.0,0a6.0,6.0 0 1,0 -12.0,0M1572.0,2694.6a6.0,6.0 0 1,0 12.0,0a6.0,6.0 0 1,0 -12.0,0M1638.4,2692.0a6.0,6.0 0 1,0 12.0,0a6.0,6.0 0 1,0 -12.0,0M1635.7,2691.4a6.0,6.0 0 1,0 12.0,0a6.0,6.0 0 1,0 -12.0,0M1556.1,2695.5a6.0,6.0 0 1,0 12.0,0a6.0,6.0 0 1,0 -12.0,0M1690.2,2632.9a6.0,6.0 0 1,0 12.0,0a6.0,6.0 0 1,0 -12.0,0M1835.9,2664.0a6.0,6.0 0 1,0 12.0,0a6.0,6.0 0 1,0 -12.0,0M1778.2,2634.8a6.0,6.0 0 1,0 12.0,0a6.0,6.0 0 1,0 -12.0,0M1844.1,2673.8a6.0,6.0 0 1,0 12.0,0a6.0,6.0 0 1,0 -12.0,0M1878.0,2664.0a6.0,6.0 0 1,0 12.0,0a6.0,6.0 0 1,0 -12.0,0M1827.9,2680.1a6.0,6.0 0 1,0 12.0,0a6.0,6.0 0 1,0 -12.0,0M1709.9,2610.8a6.0,6.0 0 1,0 12.0,0a6.0,6.0 0 1,0 -12.0,0M1852.1,2629.8a6.0,6.0 0 1,0 12.0,0a6.0,6.0 0 1,0 -12.0,0M1692.7,2693.6a6.0,6.0 0 1,0 12.0,0a6.0,6.0 0 1,0 -12.0,0M1720.7,2678.6a6.0,6.0 0 1,0 12.0,0a6.0,6.0 0 1,0 -12.0,0M1753.1,2661.3a6.0,6.0 0 1,0 12.0,0a6.0,6.0 0 1,0 -12.0,0M1692.5,2667.9a6.0,6.0 0 1,0 12.0,0a6.0,6.0 0 1,0 -12.0,0M1830.1,2680.3a6.0,6.0 0 1,0 12.0,0a6.0,6.0 0 1,0 -12.0,0M1876.3,2643.3a6.0,6.0 0 1,0 12.0,0a6.0,6.0 0 1,0 -12.0,0M1848.1,2673.2a6.0,6.0 0 1,0 12.0,0a6.0,6.0 0 1,0 -12.0,0M1783.4,2632.4a6.0,6.0 0 1,0 12.0,0a6.0,6.0 0 1,0 -12.0,0M1763.7,2697.3a6.0,6.0 0 1,0 12.0,0a6.0,6.0 0 1,0 -12.0,0M1875.1,2623.7a6.0,6.0 0 1,0 12.0,0a6.0,6.0 0 1,0 -12.0,0M1749.2,2693.3a6.0,6.0 0 1,0 12.0,0a6.0,6.0 0 1,0 -12.0,0M1879.7,2639.7a6.0,6.0 0 1,0 12.0,0a6.0,6.0 0 1,0 -12.0,0M1694.3,2674.2a6.0,6.0 0 1,0 12.0,0a6.0,6.0 0 1,0 -12.0,0M1709.0,2622.3a6.0,6.0 0 1,0 12.0,0a6.0,6.0 0 1,0 -12.0,0M1878.3,2523.6a6.0,6.0 0 1,0 12.0,0a6.0,6.0 0 1,0 -12.0,0M1902.2,2595.1a6.0,6.0 0 1,0 12.0,0a6.0,6.0 0 1,0 -12.0,0M1899.7,2568.5a6.0,6.0 0 1,0 12.0,0a6.0,6.0 0 1,0 -12.0,0M1902.1,2531.0a6.0,6.0 0 1,0 12.0,0a6.0,6.0 0 1,0 -12.0,0M1881.5,2594.7a6.0,6.0 0 1,0 12.0,0a6.0,6.0 0 1,0 -12.0,0M1910.9,2565.9a6.0,6.0 0 1,0 12.0,0a6.0,6.0 0 1,0 -12.0,0M1910.1,2542.8a6.0,6.0 0 1,0 12.0,0a6.0,6.0 0 1,0 -12.0,0M1901.7,2530.9a6.0,6.0 0 1,0 12.0,0a6.0,6.0 0 1,0 -12.0,0M1896.8,2563.4a6.0,6.0 0 1,0 12.0,0a6.0,6.0 0 1,0 -12.0,0M1871.4,2542.3a6.0,6.0 0 1,0 12.0,0a6.0,6.0 0 1,0 -12.0,0" fill="#0000ff"/>
</g>
<line x1="381.5" y1="3982.5" x2="2149.0" y2="2257.5" stroke="#ff0000" stroke-width="8"/>
<rect x="381.5" y="2257.5" width="1767.5" height="1725.0" fill="none" stroke="#000" stroke-width="4"/>
<rect x="1223.5" y="3592" width="892.5" height="360" rx="10" ry="10" fill="#fff" fill-opacity="0.85" stroke="#cccccc" stroke-width="3"/>
<line x1="1244" y1="3639.5" x2="1382" y2="3639.5" stroke="#ff0000" stroke-width="8"/>
<circle cx="1314" cy="3730" r="4.2" fill="#0000ff"/>
<circle cx="1314" cy="3816" r="3.8" fill="#ff0000"/>
<path d="M1314.0,3895.0L1318.8,3903.1L1309.2,3903.1Z" fill="#bfbf00"/>
<text x="1429.0 1460.4 1491.8 1523.2 1554.6" y="3668.0" font-size="57.5" font-family="Noto Sans Mono CJK SC, WenQuanYi Zen Hei Mono, Liberation Mono, monospace" fill="#000">y = x</text>
<text x="1429.0 1460.4 1491.8 1523.2 1554.6 1586.0 1617.4 1648.8 1680.2 1711.6 1743.0 1774.4 1805.8 1837.2 1868.6 1900.0" y="3745.0" font-size="57.5" font-family="Noto Sans Mono CJK SC, WenQuanYi Zen Hei Mono, Liberation Mono, monospace" fill="#000">Test Upper Bound</text>
<text x="1429.0 1460.4 1491.8 1523.2 1554.6 1586.0 1617.4 1648.8 1680.2 1711.6 1743.0 1774.4 1805.8 1837.2 1868.6 1900.0 1931.4 1962.8 1994.2 2025.6 2057.0" y="3829.0" font-size="57.5" font-family="Noto Sans Mono CJK SC, WenQuanYi Zen Hei Mono, Liberation Mono, monospace" fill="#000">Test Point Estimation</text>
<text x="1429.0 1460.4 1491.8 1523.2 1554.6 1586.0 1617.4 1648.8 1680.2 1711.6 1743.0 1774.4 1805.8 1837.2 1868.6 1900.0" y="3914.0" font-size="57.5" font-family="Noto Sans Mono CJK SC, WenQuanYi Zen Hei Mono, Liberation Mono, monospace" fill="#000">Test Lower Bound</text>
</svg></body></html>
